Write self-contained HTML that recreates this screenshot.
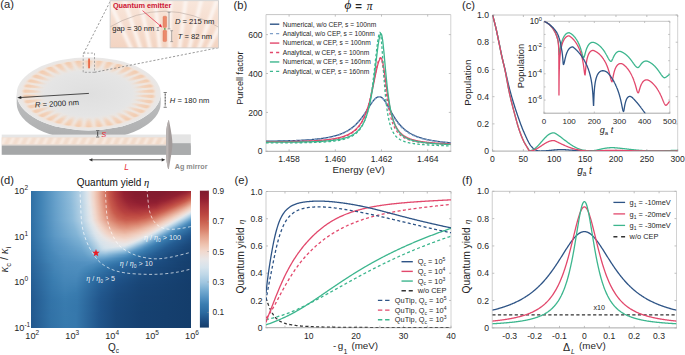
<!DOCTYPE html>
<html><head><meta charset="utf-8"><style>
html,body{margin:0;padding:0;background:#fff;width:685px;height:355px;overflow:hidden}
#wrap{position:relative;width:685px;height:355px}
#hm div{position:absolute;left:0;width:100%;height:1.05px}
svg{position:absolute;left:0;top:0}
</style></head><body><div id="wrap">
<div id="hm" style="position:absolute;left:31px;top:0;width:159.7px"><div style="top:191px;background:linear-gradient(90deg,#2f6fa4 0px,#4283b5 10px,#69a2cb 25px,#8fbcda 40px,#b4d1e5 49px,#dae4eb 56px,#eae4e3 59px,#f2d8cd 62px,#ebb7a3 67px,#d2705d 75px,#c7584b 78px,#b03a3d 84px,#942032 92px,#851c2f 102px,#811b2e 131px,#8b1d30 151px,#972333 157px,#a02b37 159.7px)"></div><div style="top:192px;background:linear-gradient(90deg,#2f6fa4 0px,#4283b5 10px,#69a2cb 25px,#8fbcda 40px,#b4d1e5 49px,#dae4eb 56px,#eae4e3 59px,#f1d3c5 63px,#ebb7a3 67px,#d2715e 75px,#c7594b 78px,#b13b3d 84px,#921f31 93px,#851c2f 104px,#821b2f 133px,#8f1e30 151px,#992534 156px,#a7313a 159.7px)"></div><div style="top:193.01px;background:linear-gradient(90deg,#2f6fa4 0px,#4283b5 10px,#69a2cb 25px,#8fbcda 40px,#b4d1e5 49px,#dae4eb 56px,#eae4e3 59px,#f1d3c5 63px,#ebb7a3 67px,#d2715e 75px,#c7594b 78px,#b13b3d 84px,#932031 93px,#851c2f 104px,#831b2f 131px,#8f1e31 149px,#9c2735 155px,#ad373c 159.7px)"></div><div style="top:194.01px;background:linear-gradient(90deg,#2f6fa4 0px,#4283b5 10px,#69a2cb 25px,#8fbcda 40px,#b4d1e5 49px,#dae4eb 56px,#e9e4e3 59px,#f1d3c5 63px,#ebb7a4 67px,#d3725f 75px,#c85a4c 78px,#b23c3d 84px,#942132 93px,#861c2f 104px,#831b2f 130px,#901f31 147px,#a22d37 155px,#b43e3e 159.7px)"></div><div style="top:195.01px;background:linear-gradient(90deg,#2f6fa4 0px,#4283b5 10px,#69a2cb 25px,#8fbcda 40px,#b4d1e5 49px,#dae4eb 56px,#e9e4e3 59px,#f1d3c5 63px,#ebb8a4 67px,#d3725f 75px,#c85a4c 78px,#b33d3d 84px,#952232 93px,#871c2f 104px,#841c2f 129px,#911f31 145px,#a9333a 155px,#ba4440 159.7px)"></div><div style="top:196.02px;background:linear-gradient(90deg,#2f6fa4 0px,#4283b5 10px,#69a2cb 25px,#8fbcda 40px,#b4d1e5 49px,#dae4eb 56px,#e9e4e3 59px,#f1d3c6 63px,#ebb8a4 67px,#d37360 75px,#c85b4c 78px,#b33d3e 84px,#962333 93px,#881c2f 104px,#851c2f 128px,#942132 144px,#af393c 155px,#c04c44 159.7px)"></div><div style="top:197.02px;background:linear-gradient(90deg,#2f6fa4 0px,#4183b5 10px,#69a2cb 25px,#8fbcda 40px,#b4d1e5 49px,#dae4eb 56px,#e9e4e4 59px,#f1d3c6 63px,#ebb9a5 67px,#d47461 75px,#c95b4d 78px,#b43e3e 84px,#972433 93px,#8b1d30 101px,#851c2f 122px,#901f31 139px,#aa343b 151px,#bd4841 157px,#c55549 159.7px)"></div><div style="top:198.03px;background:linear-gradient(90deg,#2f6fa4 0px,#4183b5 10px,#68a2cb 25px,#8ebbda 40px,#b4d1e5 49px,#d9e4eb 56px,#e9e5e4 59px,#f1d4c7 63px,#ecbaa6 67px,#d47562 75px,#c95d4e 78px,#b6403e 84px,#972333 94px,#8a1d30 104px,#871c2f 126px,#952132 139px,#b53f3e 153px,#ca5e4f 159.7px)"></div><div style="top:199.03px;background:linear-gradient(90deg,#2f6fa4 0px,#4183b5 10px,#68a2cb 25px,#8ebbda 40px,#b3d1e5 49px,#d9e4eb 56px,#e9e5e5 59px,#f1d5c8 63px,#ecbba7 67px,#d57763 75px,#c7584b 79px,#b33d3e 85px,#962333 95px,#8a1d30 107px,#8a1d30 127px,#962233 137px,#b6403f 151px,#c45348 156px,#cf6b59 159.7px)"></div><div style="top:200.03px;background:linear-gradient(90deg,#2f6fa4 0px,#4183b5 10px,#68a2cb 25px,#8ebbda 40px,#b3d1e5 49px,#d9e3eb 56px,#e9e5e5 59px,#f2d5c8 63px,#eab39f 68px,#d57864 75px,#c7594c 79px,#b43e3e 85px,#982433 95px,#8d1e30 104px,#8b1d30 125px,#972333 135px,#ba4440 150px,#c95c4d 156px,#d57763 159.7px)"></div><div style="top:201.04px;background:linear-gradient(90deg,#2f6fa4 0px,#4183b5 10px,#68a1cb 25px,#8ebbda 40px,#b2d0e5 49px,#d8e3eb 56px,#e8e6e6 59px,#f2d6c9 63px,#eab4a0 68px,#d67965 75px,#c85b4c 79px,#b23c3d 86px,#982434 96px,#8e1e30 106px,#8d1e30 125px,#9a2634 134px,#bb4540 148px,#c85b4c 154px,#da846f 159.7px)"></div><div style="top:202.04px;background:linear-gradient(90deg,#2f6fa4 0px,#4183b5 10px,#68a1cb 25px,#8dbbda 40px,#b2d0e4 49px,#d8e3eb 56px,#e8e6e7 59px,#f2d6ca 63px,#eab5a1 68px,#d37360 76px,#c95c4d 79px,#b43e3e 86px,#9a2634 96px,#901e31 106px,#901f31 125px,#a8323a 138px,#c04d45 148px,#cb6151 153px,#df917b 159.7px)"></div><div style="top:203.04px;background:linear-gradient(90deg,#2f6fa4 0px,#4183b5 10px,#68a1cb 25px,#8dbad9 40px,#b1d0e4 49px,#d7e3ec 56px,#e8e6e7 59px,#f2d7cb 63px,#ebb6a2 68px,#d47561 76px,#c7584b 80px,#b23c3d 87px,#9b2735 97px,#901f31 110px,#952232 126px,#b53f3e 141px,#c95c4d 150px,#d9826d 156px,#e39d87 159.7px)"></div><div style="top:204.05px;background:linear-gradient(90deg,#2f6fa4 0px,#4183b5 10px,#68a1cb 25px,#8dbad9 40px,#b1d0e4 49px,#dce4ea 57px,#e8e6e7 59px,#f2d8cc 63px,#ebb7a3 68px,#d57663 76px,#c85a4c 80px,#b43e3e 87px,#9c2735 98px,#932031 112px,#9a2634 126px,#bb4540 141px,#ca5e4e 148px,#db8772 155px,#e7aa95 159.7px)"></div><div style="top:205.05px;background:linear-gradient(90deg,#2f6fa4 0px,#4183b5 10px,#68a1cb 25px,#8cbad9 40px,#b1cfe4 49px,#dce4ea 57px,#e7e6e7 59px,#f2d8cc 63px,#ebb8a5 68px,#d57864 76px,#c95b4d 80px,#b53f3e 87px,#9e2a36 98px,#962233 112px,#9d2835 125px,#be4942 140px,#ca5f4f 146px,#dd8c77 154px,#ebb6a2 159.7px)"></div><div style="top:206.06px;background:linear-gradient(90deg,#2f6fa4 0px,#4183b5 10px,#68a1cb 25px,#8cbad9 40px,#abcce3 48px,#dbe4ea 57px,#eae4e2 60px,#f1d3c6 64px,#ecbaa6 68px,#d67a66 76px,#c7584b 81px,#b53f3e 88px,#a02b37 99px,#9a2634 113px,#a22d37 125px,#c04e45 139px,#cb6050 144px,#df937d 153px,#eec2af 159.7px)"></div><div style="top:207.06px;background:linear-gradient(90deg,#2f6fa4 0px,#4183b5 10px,#67a1ca 25px,#8cbad9 40px,#abcce3 48px,#dbe4eb 57px,#e9e4e3 60px,#f1d4c7 64px,#eab39e 69px,#d77c67 76px,#c85a4c 81px,#b43e3e 89px,#a22d37 100px,#9e2936 114px,#a7313a 125px,#c14f45 137px,#cb6151 142px,#e0937e 151px,#eab4a0 156px,#efc7b6 159px,#f0caba 159.7px)"></div><div style="top:208.06px;background:linear-gradient(90deg,#2f6fa4 0px,#4183b5 10px,#67a1ca 25px,#8cbad9 40px,#aacce3 48px,#dbe4eb 57px,#e9e4e4 60px,#f1d5c8 64px,#eab4a0 69px,#d87e69 76px,#c95c4d 81px,#b6403e 89px,#a52f39 100px,#a22d38 114px,#ae383c 126px,#c35348 136px,#cc6252 140px,#e0947e 149px,#f0cbba 158px,#f1d3c6 159.7px)"></div><div style="top:209.07px;background:linear-gradient(90deg,#2f6fa4 0px,#4183b5 10px,#67a1ca 25px,#8bb9d9 40px,#aacce2 48px,#dae4eb 57px,#e9e5e5 60px,#f2d5c9 64px,#eab5a1 69px,#d9806b 76px,#c7594c 82px,#b6403e 90px,#a8323a 101px,#a7313a 114px,#b43e3e 126px,#c85a4c 136px,#dc8973 145px,#efc4b2 155px,#f0dad0 159.7px)"></div><div style="top:210.07px;background:linear-gradient(90deg,#2f6fa4 0px,#4183b5 10px,#67a1ca 25px,#8ebbda 41px,#b4d1e5 50px,#dae4eb 57px,#e9e5e5 60px,#f2d6ca 64px,#ebb7a3 69px,#d9826d 76px,#c95b4d 82px,#b6403f 91px,#aa343b 103px,#ae383c 117px,#b9433f 126px,#ca5f50 135px,#de8f79 144px,#f0cdbd 155px,#f0dad0 158px,#eddfda 159.7px)"></div><div style="top:211.07px;background:linear-gradient(90deg,#2f6fa4 0px,#4183b5 10px,#67a1ca 25px,#8ebbda 41px,#b3d1e5 50px,#d9e4eb 57px,#e8e6e6 60px,#f2d7cb 64px,#ebb8a4 69px,#d87d68 77px,#c85a4c 83px,#b7413f 92px,#ad373c 104px,#b33d3e 118px,#be4942 126px,#cb6051 133px,#de8f7a 142px,#f0ccbc 153px,#efdcd5 157px,#e9e5e4 159.7px)"></div><div style="top:212.08px;background:linear-gradient(90deg,#2f6fa4 0px,#4183b5 10px,#67a1ca 25px,#8dbbda 41px,#b3d1e5 50px,#d9e3eb 57px,#e8e6e7 60px,#f2d8cc 64px,#ecbaa6 69px,#d9806b 77px,#c95c4d 83px,#b8423f 93px,#b13b3d 106px,#bb4540 121px,#c5564a 128px,#d06b59 133px,#e29b85 142px,#f0cbbc 151px,#efdcd3 155px,#e9e5e4 158px,#dee4ea 159.7px)"></div><div style="top:213.08px;background:linear-gradient(90deg,#2f6fa4 0px,#4183b5 10px,#67a0ca 25px,#8dbbda 41px,#b3d0e5 50px,#d8e3eb 57px,#e8e6e7 60px,#f2d8cd 64px,#eab49f 70px,#d9826d 77px,#c85b4c 84px,#ba4440 94px,#b53f3e 108px,#c04d45 122px,#ca5e4e 128px,#de907b 138px,#f0cbbb 149px,#f0dbd2 153px,#e6e6e8 157px,#d0e0eb 159.7px)"></div><div style="top:214.08px;background:linear-gradient(90deg,#2f6fa4 0px,#4183b5 10px,#67a0ca 25px,#8dbad9 41px,#b2d0e5 50px,#d8e3eb 57px,#e7e6e7 60px,#f1d4c7 65px,#e8ae99 71px,#d87f6a 78px,#c85b4c 85px,#bc4640 95px,#ba4440 110px,#c6584b 124px,#d77c67 132px,#ebb7a3 143px,#f0dbd1 151px,#e8e6e7 155px,#d0e0eb 158px,#c1d9e8 159.7px)"></div><div style="top:215.09px;background:linear-gradient(90deg,#2f6fa4 0px,#4182b4 10px,#67a0ca 25px,#8cbad9 41px,#b2d0e4 50px,#d8e3ec 57px,#eae4e3 61px,#f1d5c8 65px,#e9b09b 71px,#d9816c 78px,#c85b4c 86px,#bd4942 96px,#be4942 110px,#cb6050 124px,#df917b 134px,#f0caba 145px,#f0dad0 149px,#e9e5e6 153px,#d2e1eb 156px,#afcee4 159.7px)"></div><div style="top:216.09px;background:linear-gradient(90deg,#2f6fa4 0px,#4384b6 11px,#66a0ca 25px,#8cbad9 41px,#b1d0e4 50px,#dce4ea 58px,#e9e4e4 61px,#f2d6c9 65px,#e9b29d 71px,#da846f 78px,#ca5e4f 86px,#c04e45 95px,#c14e45 109px,#cb6151 121px,#d37460 126px,#e8ac97 137px,#f0cebf 144px,#efdcd5 148px,#e4e5e8 152px,#ccdeea 155px,#9dc4df 159.7px)"></div><div style="top:217.1px;background:linear-gradient(90deg,#2f6fa4 0px,#4384b6 11px,#66a0ca 25px,#8cbad9 41px,#b1cfe4 50px,#dce4ea 58px,#e9e5e5 61px,#f2d7ca 65px,#eab4a0 71px,#db8772 78px,#cc6352 86px,#c55549 92px,#c25046 103px,#c95b4d 115px,#d67965 125px,#e9b19d 136px,#f1d2c4 143px,#ebe1de 148px,#e5e6e8 150px,#cedfeb 153px,#a8cae2 157px,#8ab9d8 159.7px)"></div><div style="top:218.1px;background:linear-gradient(90deg,#2f6fa4 0px,#4384b6 11px,#66a0ca 25px,#8cbad9 41px,#abcce3 49px,#dbe4eb 58px,#e9e5e5 61px,#f2d8cc 65px,#e9af9b 72px,#db8570 79px,#cd6454 87px,#c6574a 93px,#c6564a 105px,#ca5f50 113px,#d87f6a 124px,#ebb7a3 135px,#f1d9ce 143px,#e7e6e7 148px,#d0e0eb 151px,#b5d2e5 154px,#80b2d5 159px,#79aed2 159.7px)"></div><div style="top:219.1px;background:linear-gradient(90deg,#2f6fa4 0px,#4384b6 11px,#66a0ca 25px,#8bb9d9 41px,#abcce3 49px,#dbe4eb 58px,#e8e6e7 61px,#f1d4c6 66px,#e7ab96 73px,#d87f6a 81px,#cc6353 89px,#c7594c 96px,#ca5f4f 108px,#d67864 119px,#de8e78 125px,#efc9b9 137px,#f0dbd3 142px,#e8e6e7 146px,#d1e1eb 149px,#adcde3 153px,#6fa7ce 159px,#69a2cb 159.7px)"></div><div style="top:220.11px;background:linear-gradient(90deg,#2f6fa4 0px,#4384b6 11px,#66a0ca 25px,#8ab9d9 41px,#aacbe2 49px,#dae4eb 58px,#e7e6e7 61px,#f2d5c9 66px,#e8ae9a 73px,#dc8873 80px,#d16e5c 87px,#ca5f50 95px,#cd6454 106px,#d57663 115px,#df937e 124px,#efc9b8 135px,#f0dbd2 140px,#e8e5e6 144px,#d3e2eb 147px,#a5c9e1 152px,#619cc7 159px,#5b97c5 159.7px)"></div><div style="top:221.11px;background:linear-gradient(90deg,#2f6fa4 0px,#4384b6 11px,#659fc9 25px,#8cbad9 42px,#b2d0e4 51px,#d8e3ec 58px,#e9e5e5 62px,#f1d3c6 67px,#e19781 78px,#d67a66 85px,#ce6756 94px,#d06b59 105px,#d77d68 114px,#e5a28d 125px,#efc9b8 133px,#f0dbd1 138px,#e9e5e5 142px,#d5e2ec 145px,#a7cae2 150px,#639ec9 157px,#5492c1 159px,#508fbf 159.7px)"></div><div style="top:222.11px;background:linear-gradient(90deg,#2f6fa4 0px,#4284b6 11px,#659fc9 25px,#8ab9d9 42px,#aacce3 50px,#dbe4eb 59px,#e7e6e7 62px,#f2d6c9 67px,#e39c86 78px,#d87d68 86px,#d06d5b 95px,#d47461 106px,#db8670 114px,#e6a892 124px,#f0ccbd 132px,#f0dad1 136px,#e5e5e8 141px,#cedfeb 144px,#a0c6e0 149px,#66a0ca 155px,#508fbf 158px,#4788b9 159.7px)"></div><div style="top:223.12px;background:linear-gradient(90deg,#2e6ea4 0px,#4284b6 11px,#649ec9 25px,#89b8d8 42px,#a8cbe2 50px,#d8e3eb 59px,#e6e6e7 62px,#eddfd9 65px,#f1d4c7 68px,#e39d87 79px,#d9816b 87px,#d37460 95px,#d77d68 106px,#df927c 115px,#e9b29d 124px,#f1d4c6 132px,#e6e6e7 139px,#d0e0eb 142px,#b5d2e5 145px,#68a2cb 153px,#4c8cbc 157px,#3f81b3 159.7px)"></div><div style="top:224.12px;background:linear-gradient(90deg,#2e6ea4 0px,#4284b5 11px,#629cc8 24px,#87b7d8 42px,#a6c9e2 50px,#dbe4ea 60px,#e7e6e7 63px,#f2d7ca 68px,#e39e88 80px,#da826d 89px,#d77b66 96px,#db8671 107px,#e4a18c 117px,#efc8b7 127px,#f1dacf 132px,#e8e6e7 137px,#d1e1eb 140px,#a4c8e1 145px,#6aa3cc 151px,#4e8dbd 155px,#397caf 159.7px)"></div><div style="top:225.12px;background:linear-gradient(90deg,#2e6ea4 0px,#4283b5 11px,#619cc8 24px,#89b8d8 43px,#a9cbe2 51px,#d9e4eb 60px,#e6e6e8 63px,#ebe2df 65px,#f1d5c8 69px,#e5a38d 80px,#dc8b75 88px,#d9826d 96px,#df917b 108px,#e7ab96 117px,#f1d9cf 130px,#e8e6e6 135px,#d3e1eb 138px,#a6c9e1 143px,#6ca4cd 149px,#508fbe 153px,#397caf 158px,#3577ab 159.7px)"></div><div style="top:226.13px;background:linear-gradient(90deg,#2e6ea3 0px,#4283b5 11px,#619cc7 24px,#87b7d7 43px,#a7cae2 51px,#d7e3ec 60px,#e7e6e7 64px,#f1d3c6 70px,#e5a58f 81px,#de8f7a 89px,#dc8973 96px,#e29983 108px,#eab4a0 117px,#f1d9ce 128px,#e9e5e5 133px,#d4e2ec 136px,#a8cae2 141px,#659fca 148px,#4c8bbc 152px,#377aad 157px,#3273a7 159.7px)"></div><div style="top:227.13px;background:linear-gradient(90deg,#2e6ea3 0px,#4183b5 11px,#609bc7 24px,#86b6d7 43px,#a5c9e1 51px,#dae4eb 61px,#e8e5e6 65px,#f2d7ca 70px,#e7aa95 81px,#e09580 89px,#de907a 96px,#e4a28c 108px,#efc9b8 121px,#f0dbd2 127px,#e4e5e8 132px,#cedfeb 135px,#a0c6e0 140px,#67a1ca 146px,#4d8cbd 150px,#387bae 155px,#2f6fa4 159.7px)"></div><div style="top:228.14px;background:linear-gradient(90deg,#2e6ea3 0px,#4183b5 11px,#609bc7 24px,#87b7d7 44px,#a7cae2 52px,#d8e3eb 61px,#e5e5e8 64px,#e9e4e3 66px,#f2d5c9 71px,#e8ac97 82px,#e29a85 90px,#e19781 96px,#e6a892 107px,#f0caba 119px,#f0dbd2 125px,#e6e6e8 130px,#cfe0eb 133px,#b6d2e5 136px,#69a2cb 144px,#4e8dbd 148px,#397caf 153px,#2c6ba1 159.7px)"></div><div style="top:229.14px;background:linear-gradient(90deg,#2e6ea3 0px,#4183b5 11px,#5f9bc7 24px,#85b6d7 44px,#a5c9e1 52px,#dbe4eb 62px,#e8e6e7 66px,#f1d5c7 72px,#e9af9a 83px,#e49f89 92px,#e4a18b 99px,#ecbaa6 111px,#f0dbd1 123px,#e7e6e7 128px,#d1e1eb 131px,#a4c8e1 136px,#6ba4cc 142px,#4f8ebe 146px,#377aad 152px,#2a679d 159.7px)"></div><div style="top:230.14px;background:linear-gradient(90deg,#2e6ea3 0px,#4183b5 11px,#5f9ac6 24px,#84b5d6 44px,#9fc5e0 51px,#d9e3eb 62px,#e7e6e7 66px,#f1d4c7 73px,#e9b29e 84px,#e5a58f 93px,#e8ac97 101px,#efc7b6 113px,#f0dbd2 121px,#e8e6e7 126px,#d3e1eb 129px,#a6c9e1 134px,#6da5cd 140px,#508fbf 144px,#387aae 150px,#286399 159.7px)"></div><div style="top:231.15px;background:linear-gradient(90deg,#2e6ea3 0px,#4384b6 12px,#5e9ac6 24px,#85b6d7 45px,#aacce3 54px,#dbe4eb 63px,#e8e6e7 67px,#f1d4c6 74px,#ebb8a4 84px,#e7ab96 94px,#ecb9a5 104px,#f1d2c4 115px,#eddfda 121px,#e8e5e6 124px,#d4e2ec 127px,#a8cae2 132px,#66a0ca 139px,#4c8cbc 143px,#387bae 148px,#266096 159.7px)"></div><div style="top:232.15px;background:linear-gradient(90deg,#2e6ea3 0px,#4384b6 12px,#5e9ac6 24px,#84b5d6 45px,#a3c8e1 53px,#d9e3eb 63px,#e8e6e6 68px,#f1d4c7 75px,#ecbca8 85px,#e9b19d 94px,#eec2b0 105px,#f2d6c9 114px,#e8e5e6 122px,#d6e3ec 125px,#aacbe2 130px,#68a1cb 137px,#4e8dbd 141px,#3779ad 147px,#245d93 159.7px)"></div><div style="top:233.15px;background:linear-gradient(90deg,#2e6ea3 0px,#4384b6 12px,#5d99c6 24px,#82b4d6 45px,#a1c7e0 53px,#d7e3ec 63px,#e2e5e9 66px,#e9e5e5 69px,#f1d4c7 76px,#eec2af 85px,#ebb8a4 94px,#f0cdbe 108px,#efdcd4 115px,#e8e5e6 120px,#cfe0eb 124px,#accde3 128px,#6aa3cc 135px,#4f8ebe 139px,#377aad 145px,#235b91 159px,#235a90 159.7px)"></div><div style="top:234.16px;background:linear-gradient(90deg,#2e6ea3 0px,#4384b6 12px,#5d99c6 24px,#83b5d6 46px,#a8cae2 55px,#d9e3eb 64px,#e9e5e4 70px,#f2d5c9 77px,#efc5b3 86px,#eec0ad 95px,#f1d3c6 108px,#ebe2df 116px,#e4e5e8 119px,#cfe0eb 122px,#b8d3e6 125px,#6ca4cc 133px,#508fbf 137px,#387aae 143px,#245c92 157px,#22578d 159.7px)"></div><div style="top:235.16px;background:linear-gradient(90deg,#2e6da3 0px,#4284b6 12px,#5c99c5 24px,#81b3d5 46px,#a4c8e1 55px,#dbe4eb 65px,#e9e5e4 71px,#f1d5c8 79px,#efc7b6 88px,#efc6b5 96px,#f0dbd2 110px,#e8e6e6 116px,#d0e0eb 120px,#b0cfe4 124px,#6da5cd 131px,#5190bf 135px,#387bae 141px,#255e94 154px,#20558b 159.7px)"></div><div style="top:236.17px;background:linear-gradient(90deg,#2e6da3 0px,#4284b5 12px,#5c98c5 24px,#7fb2d5 46px,#9cc4df 54px,#d8e3ec 65px,#e5e6e8 70px,#ece1dd 74px,#f1d3c6 82px,#f0caba 92px,#f0cdbe 98px,#efdcd4 108px,#e8e6e6 114px,#d0e0eb 118px,#a7cae2 123px,#67a1ca 130px,#4d8dbd 134px,#3779ad 140px,#245b91 154px,#1f5288 159.7px)"></div><div style="top:237.17px;background:linear-gradient(90deg,#2d6da2 0px,#4485b6 13px,#5c98c5 25px,#7fb2d5 47px,#a2c7e1 56px,#d9e3eb 66px,#e9e5e5 73px,#f2d8cc 82px,#f0cfc0 92px,#f1d3c5 98px,#ede0db 108px,#e8e6e6 112px,#d0e0eb 116px,#9fc5e0 122px,#619cc8 129px,#4a8aba 133px,#377aad 138px,#255e94 151px,#1e5086 159.7px)"></div><div style="top:238.17px;background:linear-gradient(90deg,#2d6da2 0px,#4384b6 13px,#5996c4 24px,#6aa3cc 36px,#7fb2d5 48px,#9fc5e0 56px,#d6e3ec 66px,#e3e5e8 71px,#e9e4e3 75px,#f1d9ce 84px,#f1d3c6 94px,#eddfda 105px,#e8e6e7 110px,#d0e0eb 114px,#9fc5e0 120px,#5b98c5 128px,#3a7db0 135px,#255e94 149px,#1d4f84 159.7px)"></div><div style="top:239.18px;background:linear-gradient(90deg,#2d6ca2 0px,#4284b6 13px,#5895c3 24px,#68a1cb 35px,#7db1d4 48px,#9bc3de 56px,#d7e3ec 67px,#e9e5e5 76px,#f0dbd2 85px,#f2d9cd 95px,#e7e6e7 108px,#d0e0eb 112px,#9fc6e0 118px,#5d99c6 126px,#3f81b3 132px,#2b699f 142px,#1d4f84 158px,#1d4d82 159.7px)"></div><div style="top:240.18px;background:linear-gradient(90deg,#2d6ca2 0px,#4283b5 13px,#5593c2 23px,#659fc9 34px,#7aafd3 48px,#97c0dd 56px,#d4e2ec 67px,#dfe5e9 71px,#e9e4e4 78px,#efdcd4 88px,#efdcd4 96px,#e6e6e8 106px,#cfe0eb 110px,#a8cae2 115px,#659fca 123px,#4d8cbd 127px,#3779ad 133px,#245c92 147px,#1c4c80 159.7px)"></div><div style="top:241.18px;background:linear-gradient(90deg,#2c6ca1 0px,#4183b5 13px,#5593c2 23px,#649ec9 34px,#7aafd3 49px,#98c1dd 57px,#d5e3ec 68px,#e4e5e8 76px,#ebe2df 83px,#eeded8 94px,#e7e6e7 103px,#cddfea 108px,#b9d4e6 111px,#6da5cd 120px,#4e8dbd 125px,#377aad 131px,#245d93 145px,#1b4b7e 159.7px)"></div><div style="top:242.19px;background:linear-gradient(90deg,#2c6ba1 0px,#4384b6 14px,#5492c1 23px,#639dc8 34px,#78add2 49px,#94bfdc 57px,#d6e3ec 69px,#e8e5e6 82px,#ece1dd 94px,#e6e6e7 101px,#d1e1eb 105px,#b0cfe4 110px,#66a0ca 119px,#4a8abb 124px,#387aae 129px,#255d93 143px,#1b4a7c 159.7px)"></div><div style="top:243.19px;background:linear-gradient(90deg,#2c6ba1 0px,#4283b5 14px,#5391c1 23px,#629dc8 35px,#76acd1 49px,#90bcdb 57px,#d3e1eb 69px,#dfe4ea 75px,#e9e4e4 90px,#e8e5e6 96px,#e4e5e8 99px,#cfdfeb 103px,#a0c6e0 110px,#66a0ca 117px,#4b8bbb 122px,#3678ac 128px,#245c92 142px,#1a487b 159.7px)"></div><div style="top:244.19px;background:linear-gradient(90deg,#2c6ba1 0px,#4183b5 14px,#5291c0 23px,#619cc7 35px,#76acd1 50px,#8dbad9 57px,#cfe0eb 69px,#d9e3eb 72px,#e6e6e7 88px,#e5e6e8 96px,#cddeea 101px,#9dc4df 108px,#5996c4 117px,#397baf 125px,#255e94 139px,#1b4a7d 156px,#1a487a 159.7px)"></div><div style="top:245.2px;background:linear-gradient(90deg,#2b6aa0 0px,#4182b4 14px,#5190c0 23px,#66a0ca 40px,#73aad0 50px,#89b8d8 57px,#d0e0eb 70px,#dbe4eb 75px,#e4e5e8 91px,#e4e5e8 94px,#d0e0eb 98px,#b0cfe4 103px,#67a0ca 113px,#4b8bbb 118px,#3779ad 124px,#245d93 138px,#1a497c 156px,#194778 159.7px)"></div><div style="top:246.2px;background:linear-gradient(90deg,#2b6aa0 0px,#4082b4 14px,#518fbf 23px,#659fc9 41px,#73aad0 51px,#8ab8d8 58px,#c8dce9 69px,#d6e3ec 73px,#e1e5e9 87px,#d8e3eb 94px,#b5d2e5 100px,#5a96c4 113px,#397caf 121px,#255e94 136px,#1b4a7d 153px,#194677 159.7px)"></div><div style="top:247.21px;background:linear-gradient(90deg,#2b6aa0 0px,#4283b5 15px,#5190bf 24px,#6fa6ce 50px,#86b6d7 58px,#c9ddea 70px,#d5e3ec 74px,#dae4eb 82px,#cbddea 94px,#b2d0e5 98px,#6ca4cc 108px,#4b8bbc 114px,#387aad 120px,#245c92 135px,#1a497c 153px,#184576 159.7px)"></div><div style="top:248.21px;background:linear-gradient(90deg,#2b699f 0px,#4183b5 15px,#508fbf 24px,#6ca5cd 50px,#82b4d6 58px,#b5d2e5 67px,#cedfeb 72px,#d3e1eb 76px,#c9dcea 88px,#bed7e7 94px,#6aa3cc 106px,#4888b9 113px,#3678ac 119px,#235a90 135px,#194678 156px,#184475 159.7px)"></div><div style="top:249.21px;background:linear-gradient(90deg,#2a699f 0px,#4082b4 15px,#508fbe 24px,#6ca5cd 51px,#7fb2d5 58px,#aacce3 66px,#c4dae9 71px,#caddea 75px,#bed7e7 87px,#adcde3 94px,#68a1cb 104px,#4f8ebe 109px,#387aae 116px,#235a90 133px,#194779 153px,#184474 159.7px)"></div><div style="top:250.22px;background:linear-gradient(90deg,#2a699f 0px,#4082b4 15px,#4f8ebe 24px,#6aa3cc 51px,#7cb0d4 58px,#bcd6e7 71px,#c2d9e8 75px,#aecee3 87px,#9dc4df 94px,#619cc7 103px,#4788b9 109px,#3678ac 115px,#23598f 132px,#194778 153px,#174374 159.7px)"></div><div style="top:251.22px;background:linear-gradient(90deg,#2a689e 0px,#4183b5 16px,#5391c1 28px,#68a1cb 51px,#7cb0d4 59px,#afcee4 70px,#b6d2e5 75px,#97c0dd 90px,#8cbad9 94px,#5492c2 103px,#3678ac 113px,#235a90 130px,#194779 151px,#174373 159.7px)"></div><div style="top:252.22px;background:linear-gradient(90deg,#2a689e 0px,#4182b4 16px,#5291c0 28px,#67a1ca 52px,#78aed2 59px,#a3c8e1 69px,#aacbe2 74px,#91bddb 86px,#7cb0d4 94px,#5392c1 101px,#387bae 110px,#255d93 126px,#1b4a7d 144px,#174272 159.7px)"></div><div style="top:253.23px;background:linear-gradient(90deg,#2a679d 0px,#4082b4 16px,#5391c0 29px,#659fc9 52px,#78add2 60px,#9ac2de 69px,#9dc4df 74px,#6ea6cd 94px,#4e8ebe 100px,#387aad 108px,#245c92 125px,#1a497c 144px,#164272 159.7px)"></div><div style="top:254.23px;background:linear-gradient(90deg,#2a679d 0px,#3f81b4 16px,#5392c1 30px,#649ec9 53px,#7bafd3 62px,#90bcda 69px,#8ebbda 75px,#5c98c5 95px,#3d80b2 103px,#276197 120px,#1c4c7f 139px,#164171 159.7px)"></div><div style="top:255.24px;background:linear-gradient(90deg,#29679d 0px,#4183b5 17px,#5391c1 32px,#639ec8 54px,#86b6d7 69px,#81b3d5 75px,#4e8dbd 96px,#387bae 103px,#245b91 122px,#1a497b 142px,#164170 159.7px)"></div><div style="top:256.24px;background:linear-gradient(90deg,#29669c 0px,#4082b4 17px,#5291c0 32px,#609cc7 54px,#7cb0d4 68px,#75abd1 75px,#4e8ebe 93px,#3679ac 102px,#22588e 123px,#184577 147px,#164170 159.7px)"></div><div style="top:257.24px;background:linear-gradient(90deg,#29669c 0px,#4081b4 17px,#5290c0 32px,#5f9bc7 55px,#73aad0 67px,#6ca4cd 74px,#4f8ebe 88px,#3f81b4 96px,#3070a5 105px,#1e5085 129px,#164171 157px,#164070 159.7px)"></div><div style="top:258.25px;background:linear-gradient(90deg,#29669c 0px,#4183b5 18px,#5190bf 33px,#5d99c6 55px,#6ba3cc 66px,#649ec9 73px,#4d8dbd 84px,#387aae 97px,#245c92 116px,#1a487b 138px,#16406f 159.7px)"></div><div style="top:259.25px;background:linear-gradient(90deg,#29659b 0px,#4082b4 18px,#508fbf 33px,#5c98c5 56px,#649ec9 66px,#5895c3 74px,#3a7db0 93px,#265f95 112px,#1b4a7e 133px,#15406f 159.7px)"></div><div style="top:260.25px;background:linear-gradient(90deg,#28659b 0px,#4283b5 19px,#508fbf 33px,#5c98c5 58px,#5d99c6 66px,#397caf 90px,#235a90 114px,#194778 139px,#15406f 159.7px)"></div><div style="top:261.26px;background:linear-gradient(90deg,#28649a 0px,#4183b5 19px,#4f8ebe 33px,#5996c4 63px,#4283b5 79px,#2e6ea3 98px,#1e5085 122px,#164271 151px,#153f6e 159.7px)"></div><div style="top:262.26px;background:linear-gradient(90deg,#28649a 0px,#4082b4 19px,#4f8ebe 33px,#5593c2 62px,#3e80b3 78px,#2c6ba1 98px,#1e4f84 121px,#164171 151px,#153f6e 159.7px)"></div><div style="top:263.26px;background:linear-gradient(90deg,#28649a 0px,#4687b8 24px,#4f8ebe 35px,#5391c0 60px,#3678ac 82px,#2a679d 98px,#1d4e83 121px,#164170 153px,#153f6e 159.7px)"></div><div style="top:264.27px;background:linear-gradient(90deg,#286399 0px,#4586b8 24px,#4e8dbd 35px,#5190c0 56px,#4687b8 67px,#3475aa 81px,#29669c 97px,#1d4e83 119px,#164170 151px,#153f6d 159.7px)"></div><div style="top:265.27px;background:linear-gradient(90deg,#286399 0px,#4586b7 24px,#4e8dbd 35px,#508fbf 53px,#4889b9 63px,#3374a9 79px,#28659b 96px,#1d4f83 117px,#164170 150px,#153f6d 159.7px)"></div><div style="top:266.28px;background:linear-gradient(90deg,#276399 0px,#4485b7 24px,#4d8cbd 35px,#4f8ebe 51px,#4687b8 62px,#3475a9 76px,#266096 97px,#1c4c7f 120px,#153f6e 158px,#153f6d 159.7px)"></div><div style="top:267.28px;background:linear-gradient(90deg,#276298 0px,#4485b6 24px,#4c8cbc 35px,#4e8ebe 49px,#4586b7 61px,#3577ab 72px,#245c92 98px,#1a497b 124px,#153e6d 159.7px)"></div><div style="top:268.28px;background:linear-gradient(90deg,#276298 0px,#4384b6 24px,#4b8bbc 34px,#4e8dbd 48px,#4385b6 60px,#3577ab 70px,#276197 92px,#1d4e83 112px,#164170 147px,#153e6d 159.7px)"></div><div style="top:269.29px;background:linear-gradient(90deg,#276298 0px,#4284b6 24px,#4b8bbb 34px,#4d8dbd 47px,#4284b5 59px,#3476aa 69px,#266197 90px,#1d4d82 112px,#16406f 150px,#153e6d 159.7px)"></div><div style="top:270.29px;background:linear-gradient(90deg,#276197 0px,#4283b5 24px,#4a8abb 34px,#4c8cbc 47px,#3f81b4 59px,#2c6ca2 76px,#1d4e83 109px,#164070 147px,#153e6c 159.7px)"></div><div style="top:271.29px;background:linear-gradient(90deg,#276197 0px,#4082b4 23px,#4a8aba 34px,#4b8bbc 47px,#3f81b3 58px,#2a699f 77px,#1d4e82 108px,#16406f 148px,#153e6c 159.7px)"></div><div style="top:272.3px;background:linear-gradient(90deg,#266197 0px,#4082b4 23px,#4989ba 34px,#4b8bbb 46px,#3c7fb1 58px,#276197 81px,#1b4b7f 111px,#153f6d 155px,#143e6c 159.7px)"></div><div style="top:273.3px;background:linear-gradient(90deg,#266096 0px,#3f81b3 23px,#4989ba 34px,#4a8abb 46px,#3577ab 62px,#245c92 86px,#1b4a7d 112px,#143e6c 159.7px)"></div><div style="top:274.31px;background:linear-gradient(90deg,#266096 0px,#3e81b3 23px,#4888b9 34px,#498aba 46px,#2c6ba1 70px,#23598f 87px,#1a497b 113px,#143e6c 159.7px)"></div><div style="top:275.31px;background:linear-gradient(90deg,#266096 0px,#3e80b3 23px,#4788b9 34px,#4989ba 46px,#2c6ba1 69px,#22588e 87px,#1a487a 114px,#143e6c 159.7px)"></div><div style="top:276.31px;background:linear-gradient(90deg,#265f95 0px,#3d80b2 23px,#4787b9 34px,#4888b9 46px,#2c6ca1 67px,#22578d 86px,#194779 114px,#143e6c 159.7px)"></div><div style="top:277.32px;background:linear-gradient(90deg,#265f95 0px,#3b7eb1 22px,#4687b8 33px,#4888b9 45px,#2c6ba1 66px,#21568c 86px,#194779 113px,#143e6c 159.7px)"></div><div style="top:278.32px;background:linear-gradient(90deg,#255f95 0px,#3b7eb1 22px,#4586b8 33px,#4787b9 45px,#2c6ba1 65px,#21558b 85px,#194779 112px,#143e6c 159.7px)"></div><div style="top:279.32px;background:linear-gradient(90deg,#255e94 0px,#3a7db0 22px,#4586b7 33px,#4687b8 45px,#2b6aa0 65px,#20548a 85px,#194779 111px,#143d6c 159.7px)"></div><div style="top:280.33px;background:linear-gradient(90deg,#255e94 0px,#3a7db0 22px,#4485b7 33px,#4586b7 45px,#2b699f 65px,#1f5389 85px,#194778 110px,#143d6c 159.7px)"></div><div style="top:281.33px;background:linear-gradient(90deg,#255e94 0px,#397caf 22px,#4485b7 33px,#4485b7 45px,#2b699f 64px,#1f5389 84px,#194678 110px,#143d6c 159.7px)"></div><div style="top:282.33px;background:linear-gradient(90deg,#255d93 0px,#397caf 22px,#4385b6 34px,#4384b6 45px,#2b6aa0 63px,#1f5288 84px,#194677 109px,#143d6c 159.7px)"></div><div style="top:283.34px;background:linear-gradient(90deg,#255d93 0px,#397caf 22px,#4384b6 34px,#4283b5 45px,#2a679d 64px,#1e5186 84px,#194677 109px,#143d6b 159.7px)"></div><div style="top:284.34px;background:linear-gradient(90deg,#245d93 0px,#397bae 22px,#4284b6 34px,#4183b5 45px,#286399 66px,#1e5086 84px,#184576 109px,#143d6b 159.7px)"></div><div style="top:285.35px;background:linear-gradient(90deg,#245c92 0px,#387aad 21px,#4283b5 34px,#4082b4 45px,#266197 67px,#1d4f84 85px,#184576 109px,#143d6b 159.7px)"></div><div style="top:286.35px;background:linear-gradient(90deg,#245c92 0px,#3779ad 21px,#4183b5 34px,#3f81b3 45px,#266096 67px,#1d4e83 85px,#184576 109px,#143d6b 159.7px)"></div><div style="top:287.35px;background:linear-gradient(90deg,#245c92 0px,#3779ad 21px,#4082b4 34px,#3e80b3 45px,#255e94 68px,#1d4e82 85px,#184475 109px,#143d6b 159.7px)"></div><div style="top:288.36px;background:linear-gradient(90deg,#245b91 0px,#3779ac 21px,#4082b4 34px,#3d7fb2 45px,#255d93 68px,#1d4d82 85px,#184475 110px,#143d6b 159.7px)"></div><div style="top:289.36px;background:linear-gradient(90deg,#245b91 0px,#3678ac 21px,#3f81b3 34px,#3c7fb1 45px,#245c92 68px,#1c4d81 85px,#184474 110px,#143d6b 159.7px)"></div><div style="top:290.36px;background:linear-gradient(90deg,#235b91 0px,#3678ac 21px,#3f81b3 34px,#3b7eb1 45px,#235b91 69px,#1c4c80 86px,#174374 110px,#143d6b 159.7px)"></div><div style="top:291.37px;background:linear-gradient(90deg,#235a90 0px,#3677ab 21px,#3e80b3 34px,#3b7db0 45px,#235a90 69px,#1c4c7f 86px,#174374 110px,#143d6b 159.7px)"></div><div style="top:292.37px;background:linear-gradient(90deg,#235a90 0px,#3577ab 21px,#3d80b2 34px,#397baf 46px,#22588e 70px,#1b4b7e 87px,#174373 111px,#143d6b 159.7px)"></div><div style="top:293.38px;background:linear-gradient(90deg,#235a90 0px,#3577ab 21px,#3c7fb2 34px,#387bae 46px,#22588e 70px,#1b4a7d 87px,#174373 111px,#143d6b 159.7px)"></div><div style="top:294.38px;background:linear-gradient(90deg,#235a90 0px,#3576aa 21px,#3c7eb1 34px,#387aae 46px,#22578d 70px,#1b4a7e 86px,#174373 110px,#143d6b 159.7px)"></div><div style="top:295.38px;background:linear-gradient(90deg,#23598f 0px,#3476aa 21px,#3b7eb1 34px,#387aad 46px,#21578d 70px,#1b4a7d 86px,#174273 111px,#143d6b 159.7px)"></div><div style="top:296.39px;background:linear-gradient(90deg,#22598f 0px,#3475aa 21px,#3a7db0 34px,#3779ad 46px,#21568c 70px,#1b4a7d 86px,#174272 111px,#143d6b 159.7px)"></div><div style="top:297.39px;background:linear-gradient(90deg,#22598f 0px,#3374a8 20px,#3a7db0 34px,#3779ad 46px,#21578d 69px,#1b4a7c 86px,#174272 111px,#143d6b 159.7px)"></div><div style="top:298.39px;background:linear-gradient(90deg,#22588e 0px,#3374a8 20px,#397caf 34px,#3779ac 46px,#21568c 69px,#1a497c 86px,#174272 111px,#143d6b 159.7px)"></div><div style="top:299.4px;background:linear-gradient(90deg,#22588e 0px,#3273a8 20px,#397caf 34px,#3678ac 46px,#21568c 69px,#1a497c 86px,#174272 111px,#143d6b 159.7px)"></div><div style="top:300.4px;background:linear-gradient(90deg,#22588e 0px,#3273a8 20px,#397caf 34px,#3678ac 46px,#21568c 69px,#1a497b 86px,#174272 111px,#143d6b 159.7px)"></div><div style="top:301.4px;background:linear-gradient(90deg,#22588e 0px,#3273a8 20px,#397baf 34px,#3678ac 46px,#21558b 69px,#1a497b 86px,#174272 111px,#143d6b 159.7px)"></div><div style="top:302.41px;background:linear-gradient(90deg,#22588e 0px,#3273a8 20px,#397bae 34px,#3678ac 46px,#21558b 69px,#1a497c 85px,#164272 111px,#143d6b 159.7px)"></div><div style="top:303.41px;background:linear-gradient(90deg,#22588e 0px,#3273a7 20px,#387bae 34px,#3678ab 46px,#21558b 69px,#1a497b 85px,#164271 111px,#143d6b 159.7px)"></div><div style="top:304.42px;background:linear-gradient(90deg,#22588e 0px,#3273a7 20px,#387bae 34px,#3677ab 46px,#21558b 69px,#1a497b 85px,#164272 110px,#143d6b 159.7px)"></div><div style="top:305.42px;background:linear-gradient(90deg,#22588e 0px,#3273a7 20px,#387bae 34px,#3577ab 46px,#20558b 69px,#1a497b 85px,#164271 110px,#143d6b 159.7px)"></div><div style="top:306.42px;background:linear-gradient(90deg,#22588e 0px,#3273a7 20px,#387bae 34px,#3577ab 46px,#20558b 69px,#1a497b 85px,#164271 110px,#143d6b 159.7px)"></div><div style="top:307.43px;background:linear-gradient(90deg,#22588e 0px,#3273a7 20px,#387aae 34px,#3577ab 46px,#20558b 69px,#1a487b 85px,#164271 110px,#143d6b 159.7px)"></div><div style="top:308.43px;background:linear-gradient(90deg,#22588e 0px,#3273a7 20px,#387aae 34px,#3577ab 46px,#20558b 69px,#1a487b 85px,#164271 110px,#143d6b 159.7px)"></div><div style="top:309.43px;background:linear-gradient(90deg,#22588e 0px,#3272a7 20px,#387aae 34px,#3577ab 46px,#20558b 69px,#1a487b 85px,#164271 110px,#143d6b 159.7px)"></div><div style="top:310.44px;background:linear-gradient(90deg,#22588e 0px,#3272a7 20px,#387aae 34px,#3577ab 46px,#205389 70px,#1a487b 85px,#164271 110px,#143d6b 159.7px)"></div><div style="top:311.44px;background:linear-gradient(90deg,#22588e 0px,#3272a7 20px,#387aae 34px,#3577ab 46px,#205389 70px,#1a487b 85px,#164171 110px,#143d6b 159.7px)"></div><div style="top:312.44px;background:linear-gradient(90deg,#22588e 0px,#3172a7 20px,#387aad 34px,#3678ac 45px,#21558b 68px,#1a487a 85px,#164171 110px,#143d6b 159.7px)"></div><div style="top:313.45px;background:linear-gradient(90deg,#22588e 0px,#3172a7 20px,#387aad 34px,#3678ac 45px,#21558b 68px,#1a487a 85px,#164171 110px,#143d6b 159.7px)"></div><div style="top:314.45px;background:linear-gradient(90deg,#22588e 0px,#3171a6 19px,#387aad 34px,#3678ac 45px,#21558b 68px,#1a487a 85px,#164171 110px,#143d6b 159.7px)"></div><div style="top:315.46px;background:linear-gradient(90deg,#22588e 0px,#3171a6 19px,#387aad 34px,#3678ac 45px,#21558b 68px,#1a487a 85px,#164171 110px,#143d6b 159.7px)"></div><div style="top:316.46px;background:linear-gradient(90deg,#22588e 0px,#3171a6 19px,#377aad 34px,#3678ac 45px,#21558b 68px,#1a487a 85px,#164171 110px,#143d6b 159.7px)"></div><div style="top:317.46px;background:linear-gradient(90deg,#22578d 0px,#3171a6 19px,#377aad 34px,#3678ac 45px,#21558b 68px,#1a487a 85px,#164171 110px,#143d6b 159.7px)"></div><div style="top:318.47px;background:linear-gradient(90deg,#22578d 0px,#3172a7 20px,#377aad 34px,#3678ac 45px,#21558b 68px,#1a487a 85px,#164171 110px,#143d6b 159.7px)"></div><div style="top:319.47px;background:linear-gradient(90deg,#22578d 0px,#3172a6 20px,#377aad 34px,#3678ac 45px,#20558b 68px,#1a487a 85px,#164171 110px,#143d6b 159.7px)"></div><div style="top:320.47px;background:linear-gradient(90deg,#22578d 0px,#3172a6 20px,#377aad 34px,#3678ac 45px,#20558b 68px,#1a487a 85px,#164171 110px,#143d6b 159.7px)"></div><div style="top:321.48px;background:linear-gradient(90deg,#22578d 0px,#3172a6 20px,#377aad 34px,#3678ac 45px,#20558b 68px,#1a487a 85px,#164171 110px,#143d6b 159.7px)"></div><div style="top:322.48px;background:linear-gradient(90deg,#22578d 0px,#3172a6 20px,#377aad 34px,#3678ac 45px,#20558b 68px,#1a487a 85px,#164171 110px,#143d6b 159.7px)"></div><div style="top:323.49px;background:linear-gradient(90deg,#22578d 0px,#3172a6 20px,#377aad 34px,#3678ac 45px,#20558b 68px,#1a487a 85px,#164171 110px,#143d6b 159.7px)"></div><div style="top:324.49px;background:linear-gradient(90deg,#22578d 0px,#3171a6 20px,#3779ad 34px,#3678ac 45px,#20558b 68px,#1a487a 85px,#164171 110px,#143d6b 159.7px)"></div><div style="top:325.49px;background:linear-gradient(90deg,#22578d 0px,#3171a6 20px,#3779ad 34px,#3678ac 45px,#20558b 68px,#1a487a 85px,#164171 110px,#143d6b 159.7px)"></div><div style="top:326.5px;background:linear-gradient(90deg,#22578d 0px,#3171a6 20px,#3779ad 34px,#3678ac 45px,#20558b 68px,#1a487a 85px,#164171 110px,#143d6b 159.7px)"></div></div>
<svg width="685" height="355" viewBox="0 0 685 355">
<defs>
<filter id="blr1" x="-20%" y="-20%" width="140%" height="140%"><feGaussianBlur stdDeviation="1.1"/></filter>
<filter id="blr2" x="-20%" y="-20%" width="140%" height="140%"><feGaussianBlur stdDeviation="0.9"/></filter>
<linearGradient id="sideg" x1="0" y1="0" x2="0" y2="1"><stop offset="0" stop-color="#bebfc0"/><stop offset="1" stop-color="#adaeaf"/></linearGradient>
<radialGradient id="topg" cx="0.5" cy="0.5" r="0.5"><stop offset="0" stop-color="#dfdfdf"/><stop offset="0.6" stop-color="#e5e5e5"/><stop offset="0.8" stop-color="#efe6df"/><stop offset="0.9" stop-color="#f2e2d6"/><stop offset="0.94" stop-color="#ebe6e3"/><stop offset="1" stop-color="#e8e8e8"/></radialGradient>
<linearGradient id="rayg" gradientUnits="userSpaceOnUse" x1="46" y1="0" x2="67" y2="0"><stop offset="0" stop-color="#f4d3bb" stop-opacity="0"/><stop offset="0.45" stop-color="#f3cfb5" stop-opacity="0.85"/><stop offset="1" stop-color="#f2c8a9" stop-opacity="1"/></linearGradient>
<filter id="blr3" x="-20%" y="-20%" width="140%" height="140%"><feGaussianBlur stdDeviation="0.95"/></filter>
<linearGradient id="wgt" x1="0" y1="0" x2="1" y2="0"><stop offset="0" stop-color="#f2ddcf"/><stop offset="1" stop-color="#f1d9c8"/></linearGradient>
</defs>
<path d="M16.7 93.8 A72.0 36.6 0 0 0 160.7 93.8 L160.7 103.3 A72.0 36.6 0 0 1 16.7 103.3 Z" fill="url(#sideg)"/>
<ellipse cx="88.7" cy="93.8" rx="72.0" ry="36.6" fill="url(#topg)"/>
<g transform="translate(88.7 93.8) scale(1 0.51)">
<g filter="url(#blr3)" opacity="0.95">
<path d="M46 -1.6 C55 -2.4 62 -3.3 64.5 -3.1 Q67 0 64.5 3.1 C62 3.3 55 2.4 46 1.6 Z" fill="url(#rayg)" transform="rotate(90)"/>
<path d="M46 -1.6 C55 -2.4 62 -3.3 64.5 -3.1 Q67 0 64.5 3.1 C62 3.3 55 2.4 46 1.6 Z" fill="url(#rayg)" transform="rotate(99.47)"/>
<path d="M46 -1.6 C55 -2.4 62 -3.3 64.5 -3.1 Q67 0 64.5 3.1 C62 3.3 55 2.4 46 1.6 Z" fill="url(#rayg)" transform="rotate(108.95)"/>
<path d="M46 -1.6 C55 -2.4 62 -3.3 64.5 -3.1 Q67 0 64.5 3.1 C62 3.3 55 2.4 46 1.6 Z" fill="url(#rayg)" transform="rotate(118.42)"/>
<path d="M46 -1.6 C55 -2.4 62 -3.3 64.5 -3.1 Q67 0 64.5 3.1 C62 3.3 55 2.4 46 1.6 Z" fill="url(#rayg)" transform="rotate(127.89)"/>
<path d="M46 -1.6 C55 -2.4 62 -3.3 64.5 -3.1 Q67 0 64.5 3.1 C62 3.3 55 2.4 46 1.6 Z" fill="url(#rayg)" transform="rotate(137.37)"/>
<path d="M46 -1.6 C55 -2.4 62 -3.3 64.5 -3.1 Q67 0 64.5 3.1 C62 3.3 55 2.4 46 1.6 Z" fill="url(#rayg)" transform="rotate(146.84)"/>
<path d="M46 -1.6 C55 -2.4 62 -3.3 64.5 -3.1 Q67 0 64.5 3.1 C62 3.3 55 2.4 46 1.6 Z" fill="url(#rayg)" transform="rotate(156.32)"/>
<path d="M46 -1.6 C55 -2.4 62 -3.3 64.5 -3.1 Q67 0 64.5 3.1 C62 3.3 55 2.4 46 1.6 Z" fill="url(#rayg)" transform="rotate(165.79)"/>
<path d="M46 -1.6 C55 -2.4 62 -3.3 64.5 -3.1 Q67 0 64.5 3.1 C62 3.3 55 2.4 46 1.6 Z" fill="url(#rayg)" transform="rotate(175.26)"/>
<path d="M46 -1.6 C55 -2.4 62 -3.3 64.5 -3.1 Q67 0 64.5 3.1 C62 3.3 55 2.4 46 1.6 Z" fill="url(#rayg)" transform="rotate(184.74)"/>
<path d="M46 -1.6 C55 -2.4 62 -3.3 64.5 -3.1 Q67 0 64.5 3.1 C62 3.3 55 2.4 46 1.6 Z" fill="url(#rayg)" transform="rotate(194.21)"/>
<path d="M46 -1.6 C55 -2.4 62 -3.3 64.5 -3.1 Q67 0 64.5 3.1 C62 3.3 55 2.4 46 1.6 Z" fill="url(#rayg)" transform="rotate(203.68)"/>
<path d="M46 -1.6 C55 -2.4 62 -3.3 64.5 -3.1 Q67 0 64.5 3.1 C62 3.3 55 2.4 46 1.6 Z" fill="url(#rayg)" transform="rotate(213.16)"/>
<path d="M46 -1.6 C55 -2.4 62 -3.3 64.5 -3.1 Q67 0 64.5 3.1 C62 3.3 55 2.4 46 1.6 Z" fill="url(#rayg)" transform="rotate(222.63)"/>
<path d="M46 -1.6 C55 -2.4 62 -3.3 64.5 -3.1 Q67 0 64.5 3.1 C62 3.3 55 2.4 46 1.6 Z" fill="url(#rayg)" transform="rotate(232.11)"/>
<path d="M46 -1.6 C55 -2.4 62 -3.3 64.5 -3.1 Q67 0 64.5 3.1 C62 3.3 55 2.4 46 1.6 Z" fill="url(#rayg)" transform="rotate(241.58)"/>
<path d="M46 -1.6 C55 -2.4 62 -3.3 64.5 -3.1 Q67 0 64.5 3.1 C62 3.3 55 2.4 46 1.6 Z" fill="url(#rayg)" transform="rotate(251.05)"/>
<path d="M46 -1.6 C55 -2.4 62 -3.3 64.5 -3.1 Q67 0 64.5 3.1 C62 3.3 55 2.4 46 1.6 Z" fill="url(#rayg)" transform="rotate(260.53)"/>
<path d="M46 -1.6 C55 -2.4 62 -3.3 64.5 -3.1 Q67 0 64.5 3.1 C62 3.3 55 2.4 46 1.6 Z" fill="url(#rayg)" transform="rotate(270)"/>
<path d="M46 -1.6 C55 -2.4 62 -3.3 64.5 -3.1 Q67 0 64.5 3.1 C62 3.3 55 2.4 46 1.6 Z" fill="url(#rayg)" transform="rotate(279.47)"/>
<path d="M46 -1.6 C55 -2.4 62 -3.3 64.5 -3.1 Q67 0 64.5 3.1 C62 3.3 55 2.4 46 1.6 Z" fill="url(#rayg)" transform="rotate(288.95)"/>
<path d="M46 -1.6 C55 -2.4 62 -3.3 64.5 -3.1 Q67 0 64.5 3.1 C62 3.3 55 2.4 46 1.6 Z" fill="url(#rayg)" transform="rotate(298.42)"/>
<path d="M46 -1.6 C55 -2.4 62 -3.3 64.5 -3.1 Q67 0 64.5 3.1 C62 3.3 55 2.4 46 1.6 Z" fill="url(#rayg)" transform="rotate(307.89)"/>
<path d="M46 -1.6 C55 -2.4 62 -3.3 64.5 -3.1 Q67 0 64.5 3.1 C62 3.3 55 2.4 46 1.6 Z" fill="url(#rayg)" transform="rotate(317.37)"/>
<path d="M46 -1.6 C55 -2.4 62 -3.3 64.5 -3.1 Q67 0 64.5 3.1 C62 3.3 55 2.4 46 1.6 Z" fill="url(#rayg)" transform="rotate(326.84)"/>
<path d="M46 -1.6 C55 -2.4 62 -3.3 64.5 -3.1 Q67 0 64.5 3.1 C62 3.3 55 2.4 46 1.6 Z" fill="url(#rayg)" transform="rotate(336.32)"/>
<path d="M46 -1.6 C55 -2.4 62 -3.3 64.5 -3.1 Q67 0 64.5 3.1 C62 3.3 55 2.4 46 1.6 Z" fill="url(#rayg)" transform="rotate(345.79)"/>
<path d="M46 -1.6 C55 -2.4 62 -3.3 64.5 -3.1 Q67 0 64.5 3.1 C62 3.3 55 2.4 46 1.6 Z" fill="url(#rayg)" transform="rotate(355.26)"/>
<path d="M46 -1.6 C55 -2.4 62 -3.3 64.5 -3.1 Q67 0 64.5 3.1 C62 3.3 55 2.4 46 1.6 Z" fill="url(#rayg)" transform="rotate(364.74)"/>
<path d="M46 -1.6 C55 -2.4 62 -3.3 64.5 -3.1 Q67 0 64.5 3.1 C62 3.3 55 2.4 46 1.6 Z" fill="url(#rayg)" transform="rotate(374.21)"/>
<path d="M46 -1.6 C55 -2.4 62 -3.3 64.5 -3.1 Q67 0 64.5 3.1 C62 3.3 55 2.4 46 1.6 Z" fill="url(#rayg)" transform="rotate(383.68)"/>
<path d="M46 -1.6 C55 -2.4 62 -3.3 64.5 -3.1 Q67 0 64.5 3.1 C62 3.3 55 2.4 46 1.6 Z" fill="url(#rayg)" transform="rotate(393.16)"/>
<path d="M46 -1.6 C55 -2.4 62 -3.3 64.5 -3.1 Q67 0 64.5 3.1 C62 3.3 55 2.4 46 1.6 Z" fill="url(#rayg)" transform="rotate(402.63)"/>
<path d="M46 -1.6 C55 -2.4 62 -3.3 64.5 -3.1 Q67 0 64.5 3.1 C62 3.3 55 2.4 46 1.6 Z" fill="url(#rayg)" transform="rotate(412.11)"/>
<path d="M46 -1.6 C55 -2.4 62 -3.3 64.5 -3.1 Q67 0 64.5 3.1 C62 3.3 55 2.4 46 1.6 Z" fill="url(#rayg)" transform="rotate(421.58)"/>
<path d="M46 -1.6 C55 -2.4 62 -3.3 64.5 -3.1 Q67 0 64.5 3.1 C62 3.3 55 2.4 46 1.6 Z" fill="url(#rayg)" transform="rotate(431.05)"/>
<path d="M46 -1.6 C55 -2.4 62 -3.3 64.5 -3.1 Q67 0 64.5 3.1 C62 3.3 55 2.4 46 1.6 Z" fill="url(#rayg)" transform="rotate(440.53)"/>
</g></g>
<rect x="88.3" y="58.5" width="1.5" height="9.8" fill="#e8532e"/>
<rect x="83.2" y="53.1" width="11.3" height="19.2" fill="none" stroke="#8a8a8a" stroke-width="0.7" stroke-dasharray="2.2 1.6"/>
<g stroke="#777" stroke-width="0.75" stroke-dasharray="2.2 1.8" fill="none"><path d="M83.6 53.5L110.4 1"/><path d="M94.5 72.3L218 47.8"/></g>
<rect x="1.7" y="134.6" width="189" height="10.5" fill="#e6e6e6"/>
<rect x="1.7" y="137.4" width="166" height="7.2" fill="url(#wgt)"/>
<clipPath id="clipwg"><rect x="1.7" y="137.4" width="166" height="7.2"/></clipPath>
<g clip-path="url(#clipwg)"><g filter="url(#blr2)">
<path d="M4 137 l3 0 l-4 8 l-3 0z" fill="#faf1ea" fill-opacity="0.85"/>
<path d="M12.4 137 l3 0 l-4 8 l-3 0z" fill="#faf1ea" fill-opacity="0.85"/>
<path d="M20.8 137 l3 0 l-4 8 l-3 0z" fill="#faf1ea" fill-opacity="0.85"/>
<path d="M29.2 137 l3 0 l-4 8 l-3 0z" fill="#faf1ea" fill-opacity="0.85"/>
<path d="M37.6 137 l3 0 l-4 8 l-3 0z" fill="#faf1ea" fill-opacity="0.85"/>
<path d="M46 137 l3 0 l-4 8 l-3 0z" fill="#faf1ea" fill-opacity="0.85"/>
<path d="M54.4 137 l3 0 l-4 8 l-3 0z" fill="#faf1ea" fill-opacity="0.85"/>
<path d="M62.8 137 l3 0 l-4 8 l-3 0z" fill="#faf1ea" fill-opacity="0.85"/>
<path d="M71.2 137 l3 0 l-4 8 l-3 0z" fill="#faf1ea" fill-opacity="0.85"/>
<path d="M79.6 137 l3 0 l-4 8 l-3 0z" fill="#faf1ea" fill-opacity="0.85"/>
<path d="M88 137 l3 0 l-4 8 l-3 0z" fill="#faf1ea" fill-opacity="0.85"/>
<path d="M96.4 137 l3 0 l-4 8 l-3 0z" fill="#faf1ea" fill-opacity="0.85"/>
<path d="M104.8 137 l3 0 l-4 8 l-3 0z" fill="#faf1ea" fill-opacity="0.85"/>
<path d="M113.2 137 l3 0 l-4 8 l-3 0z" fill="#faf1ea" fill-opacity="0.85"/>
<path d="M121.6 137 l3 0 l-4 8 l-3 0z" fill="#faf1ea" fill-opacity="0.85"/>
<path d="M130 137 l3 0 l-4 8 l-3 0z" fill="#faf1ea" fill-opacity="0.85"/>
<path d="M138.4 137 l3 0 l-4 8 l-3 0z" fill="#faf1ea" fill-opacity="0.85"/>
<path d="M146.8 137 l3 0 l-4 8 l-3 0z" fill="#faf1ea" fill-opacity="0.85"/>
<path d="M155.2 137 l3 0 l-4 8 l-3 0z" fill="#faf1ea" fill-opacity="0.85"/>
<path d="M163.6 137 l3 0 l-4 8 l-3 0z" fill="#faf1ea" fill-opacity="0.85"/>
</g></g>
<rect x="1.7" y="144.6" width="189" height="1.2" fill="#ddd3cb"/>
<rect x="1.7" y="145.6" width="189" height="9.2" fill="#a5a7a8"/>
<rect x="168" y="134.6" width="22.7" height="8.7" fill="#e4e4e4"/>
<rect x="168" y="143.2" width="22.7" height="11.6" fill="#aaacad"/>
<path d="M168.4 120.2 C167.2 124 166.3 128 166.2 133 L166.2 156 C166.3 161 167.2 165 168.1 169 L168.9 169 C170.3 160 172.4 150 172.4 143.6 C172.4 137 170.5 128 169.0 120.2 Z" fill="#a39c9b"/>
<path d="M168.4 120.2 C167.2 124 166.3 128 166.2 133 L166.2 156 C166.3 161 167.2 165 168.1 169 L168.6 169 C168.5 160 168.4 150 168.4 143.6 C168.4 137 168.6 128 168.8 120.2 Z" fill="#b9b3b2"/>
<g stroke="#222" stroke-width="0.8" fill="none"><path d="M88.9 93.4L19 97.6"/></g>
<path d="M17.2 97.7 L21.2 96.1 L21.4 99.1 Z" fill="#222"/>
<text x="0" y="0" font-size="7.7" font-family='"Liberation Sans", sans-serif' fill="#222" transform="translate(57.1 106.2) rotate(-3.4)" text-anchor="middle"><tspan font-style="italic">R</tspan> = 2000 nm</text>
<g stroke="#444" stroke-width="0.7" fill="none"><path d="M163.6 92.5h3.2M163.6 107.3h3.2"/><path d="M165.2 93.5v12.8" stroke-dasharray="2.2 0.8" stroke-width="1"/></g>
<text x="169.8" y="103.2" font-size="7.6" font-family='"Liberation Sans", sans-serif' fill="#222"><tspan font-style="italic">H</tspan> = 180 nm</text>
<g stroke="#444" stroke-width="0.7" fill="none"><path d="M96.1 130.6h3.2M96.1 137h3.2"/><path d="M97.7 131.4v4.8" stroke-width="1"/></g>
<text x="101.4" y="137" font-size="9.6" font-family='"Liberation Sans", sans-serif' fill="#e8303a" font-style="italic">s</text>
<path d="M91 159.8H163" stroke="#333" stroke-width="0.8"/>
<path d="M88.8 159.8l3.6-1.6v3.2z M165.3 159.8l-3.6-1.6v3.2z" fill="#333"/>
<text x="126.5" y="170.3" font-size="8.4" font-family='"Liberation Sans", sans-serif' fill="#e8303a" font-style="italic" text-anchor="middle">L</text>
<text x="174.7" y="168.6" font-size="7.2" font-family='"Liberation Sans", sans-serif' fill="#8a8a8a" font-weight="bold">Ag mirror</text>
<text x="0.3" y="8.4" font-size="11.2" text-anchor="start" fill="#262626" font-family='"Liberation Sans", sans-serif' >(a)</text>
<defs><clipPath id="clipin"><rect x="110.1" y="0.7" width="108.5" height="47.2"/></clipPath><linearGradient id="ing" x1="0" y1="0" x2="0" y2="1"><stop offset="0" stop-color="#f8e6db"/><stop offset="1" stop-color="#f3d4c2"/></linearGradient></defs>
<g clip-path="url(#clipin)">
<rect x="110.1" y="0.7" width="108.5" height="47.2" fill="url(#ing)"/>
<g filter="url(#blr1)" fill="#fdf7f3" fill-opacity="0.85">
<rect x="118" y="-5" width="4" height="60" transform="rotate(-25 118 25)"/>
<rect x="130.5" y="-5" width="4" height="60" transform="rotate(-18.5 130.5 25)"/>
<rect x="143" y="-5" width="4" height="60" transform="rotate(-12 143 25)"/>
<rect x="155.5" y="-5" width="4" height="60" transform="rotate(-5.5 155.5 25)"/>
<rect x="168" y="-5" width="4" height="60" transform="rotate(1 168 25)"/>
<rect x="180.5" y="-5" width="4" height="60" transform="rotate(7.5 180.5 25)"/>
<rect x="193" y="-5" width="4" height="60" transform="rotate(14 193 25)"/>
<rect x="205.5" y="-5" width="4" height="60" transform="rotate(20.5 205.5 25)"/>
<rect x="218" y="-5" width="4" height="60" transform="rotate(27 218 25)"/>
</g>
<path d="M108 28 Q 165 -6 222 29" fill="none" stroke="#b9aaa2" stroke-width="0.6"/>
</g>
<rect x="110.1" y="0.7" width="108.5" height="47.2" fill="none" stroke="#c9c9c9" stroke-width="0.8"/>
<rect x="163" y="16.2" width="3.6" height="11.3" rx="1" fill="#eb8a6b" stroke="#d86a4e" stroke-width="0.4"/>
<rect x="163" y="30.3" width="3.6" height="11.3" rx="1" fill="#eb8a6b" stroke="#d86a4e" stroke-width="0.4"/>
<circle cx="164.8" cy="28.9" r="0.9" fill="#58a84e"/>
<g stroke="#777" stroke-width="0.6" fill="none"><path d="M156.6 27.5h2.6M156.6 30.5h2.6M157.9 27.5v3"/></g>
<text x="112.2" y="31.4" font-size="7.55" font-family='"Liberation Sans", sans-serif' fill="#222">gap = 30 nm</text>
<g stroke="#777" stroke-width="0.6" fill="none"><path d="M167.6 12.4h2.8M167.6 28.9h2.8M169 12.4v16.5"/><path d="M170.3 30.7h2.8M170.3 41.6h2.8M171.7 30.7v10.9"/></g>
<text x="174.9" y="23.6" font-size="7.6" font-family='"Liberation Sans", sans-serif' fill="#222"><tspan font-style="italic">D</tspan> = 215 nm</text>
<text x="177.7" y="38.7" font-size="7.6" font-family='"Liberation Sans", sans-serif' fill="#222"><tspan font-style="italic">T</tspan> = 82 nm</text>
<text x="112.9" y="8.4" font-size="7.3" font-family='"Liberation Sans", sans-serif' fill="#cc1434" font-weight="bold">Quantum emitter</text>
<path d="M142.5 10.6L160.6 26" stroke="#e0203c" stroke-width="0.7"/>
<path d="M162.2 27.5l-3.5-1.2 1.9-2.2z" fill="#e0203c"/>
<line x1="266" y1="14.6" x2="266" y2="151.3" stroke="#d9d9d9" stroke-width="1.3"/><line x1="450.8" y1="14.6" x2="450.8" y2="151.3" stroke="#d2d2d2" stroke-width="1.0"/><line x1="266" y1="14.6" x2="450.8" y2="14.6" stroke="#c6c6c6" stroke-width="1.0"/><line x1="265.5" y1="151.3" x2="451.3" y2="151.3" stroke="#a9a9a9" stroke-width="1.0"/><path d="M289.1 151.3v-2.0M289.1 14.6v2.0M335.3 151.3v-2.0M335.3 14.6v2.0M381.5 151.3v-2.0M381.5 14.6v2.0M427.7 151.3v-2.0M427.7 14.6v2.0M266 151.3h2.0M450.8 151.3h-2.0M266 112.4h2.0M450.8 112.4h-2.0M266 73.5h2.0M450.8 73.5h-2.0M266 34.6h2.0M450.8 34.6h-2.0" stroke="#b0b0b0" stroke-width="0.8" fill="none"/>
<text x="289.1" y="162" font-size="8.6" text-anchor="middle" fill="#262626" font-family='"Liberation Sans", sans-serif' >1.458</text>
<text x="335.3" y="162" font-size="8.6" text-anchor="middle" fill="#262626" font-family='"Liberation Sans", sans-serif' >1.460</text>
<text x="381.5" y="162" font-size="8.6" text-anchor="middle" fill="#262626" font-family='"Liberation Sans", sans-serif' >1.462</text>
<text x="427.7" y="162" font-size="8.6" text-anchor="middle" fill="#262626" font-family='"Liberation Sans", sans-serif' >1.464</text>
<text x="262.5" y="154.4" font-size="8.6" text-anchor="end" fill="#262626" font-family='"Liberation Sans", sans-serif' >0</text>
<text x="262.5" y="115.5" font-size="8.6" text-anchor="end" fill="#262626" font-family='"Liberation Sans", sans-serif' >200</text>
<text x="262.5" y="76.6" font-size="8.6" text-anchor="end" fill="#262626" font-family='"Liberation Sans", sans-serif' >400</text>
<text x="262.5" y="37.7" font-size="8.6" text-anchor="end" fill="#262626" font-family='"Liberation Sans", sans-serif' >600</text>
<text x="358.7" y="172.8" font-size="9.8" text-anchor="middle" fill="#262626" font-family='"Liberation Sans", sans-serif' >Energy (eV)</text>
<text x="0" y="0" font-size="9.15" text-anchor="middle" fill="#262626" font-family='"Liberation Sans", sans-serif' transform="translate(243.1 78.2) rotate(-90)">Purcell factor</text>
<text x="233.6" y="8.5" font-size="11.2" text-anchor="start" fill="#262626" font-family='"Liberation Sans", sans-serif' >(b)</text>
<text x="348" y="9.3" font-size="13.2" text-anchor="middle" font-family='"Liberation Serif", serif' font-style="italic" fill="#111">&#981;</text>
<text x="358.7" y="10.3" font-size="11.4" text-anchor="middle" font-family='"Liberation Sans", sans-serif' font-weight="bold" fill="#222">=</text>
<text x="369.6" y="9.6" font-size="11.6" text-anchor="middle" font-family='"Liberation Serif", serif' font-style="italic" fill="#111">&#960;</text>
<clipPath id="clipb"><rect x="266.0" y="14.6" width="184.8" height="136.70000000000002"/></clipPath>
<g clip-path="url(#clipb)">
<polyline points="266,141.16 266.46,141.16 266.93,141.15 267.39,141.15 267.85,141.15 268.32,141.14 268.78,141.14 269.24,141.13 269.71,141.13 270.17,141.12 270.63,141.12 271.09,141.11 271.56,141.11 272.02,141.1 272.48,141.1 272.95,141.09 273.41,141.08 273.87,141.08 274.34,141.07 274.8,141.07 275.26,141.06 275.73,141.05 276.19,141.04 276.65,141.04 277.12,141.03 277.58,141.02 278.04,141.01 278.51,141.01 278.97,141 279.43,140.99 279.89,140.98 280.36,140.97 280.82,140.96 281.28,140.95 281.75,140.95 282.21,140.94 282.67,140.93 283.14,140.92 283.6,140.91 284.06,140.89 284.53,140.88 284.99,140.87 285.45,140.86 285.92,140.85 286.38,140.84 286.84,140.83 287.31,140.81 287.77,140.8 288.23,140.79 288.69,140.77 289.16,140.76 289.62,140.75 290.08,140.73 290.55,140.72 291.01,140.7 291.47,140.69 291.94,140.67 292.4,140.66 292.86,140.64 293.33,140.62 293.79,140.61 294.25,140.59 294.72,140.57 295.18,140.55 295.64,140.53 296.11,140.52 296.57,140.5 297.03,140.48 297.49,140.46 297.96,140.44 298.42,140.41 298.88,140.39 299.35,140.37 299.81,140.35 300.27,140.33 300.74,140.3 301.2,140.28 301.66,140.25 302.13,140.23 302.59,140.2 303.05,140.18 303.52,140.15 303.98,140.12 304.44,140.1 304.91,140.07 305.37,140.04 305.83,140.01 306.29,139.98 306.76,139.95 307.22,139.92 307.68,139.88 308.15,139.85 308.61,139.82 309.07,139.78 309.54,139.75 310,139.71 310.46,139.68 310.93,139.64 311.39,139.6 311.85,139.56 312.32,139.52 312.78,139.48 313.24,139.44 313.71,139.4 314.17,139.35 314.63,139.31 315.09,139.26 315.56,139.21 316.02,139.17 316.48,139.12 316.95,139.07 317.41,139.02 317.87,138.96 318.34,138.91 318.8,138.86 319.26,138.8 319.73,138.74 320.19,138.68 320.65,138.63 321.12,138.56 321.58,138.5 322.04,138.44 322.51,138.37 322.97,138.3 323.43,138.24 323.89,138.17 324.36,138.09 324.82,138.02 325.28,137.94 325.75,137.87 326.21,137.79 326.67,137.71 327.14,137.62 327.6,137.54 328.06,137.45 328.53,137.36 328.99,137.27 329.45,137.18 329.92,137.08 330.38,136.98 330.84,136.88 331.31,136.78 331.77,136.67 332.23,136.56 332.69,136.45 333.16,136.33 333.62,136.22 334.08,136.1 334.55,135.97 335.01,135.85 335.47,135.71 335.94,135.58 336.4,135.44 336.86,135.3 337.33,135.16 337.79,135.01 338.25,134.86 338.72,134.7 339.18,134.54 339.64,134.37 340.11,134.2 340.57,134.03 341.03,133.85 341.49,133.67 341.96,133.48 342.42,133.28 342.88,133.08 343.35,132.88 343.81,132.67 344.27,132.45 344.74,132.23 345.2,132 345.66,131.76 346.13,131.52 346.59,131.27 347.05,131.01 347.52,130.74 347.98,130.47 348.44,130.19 348.91,129.9 349.37,129.61 349.83,129.3 350.29,128.99 350.76,128.67 351.22,128.33 351.68,127.99 352.15,127.64 352.61,127.28 353.07,126.91 353.54,126.52 354,126.13 354.46,125.73 354.93,125.31 355.39,124.88 355.85,124.44 356.32,123.99 356.78,123.53 357.24,123.05 357.71,122.56 358.17,122.06 358.63,121.54 359.09,121.02 359.56,120.47 360.02,119.92 360.48,119.35 360.95,118.77 361.41,118.17 361.87,117.57 362.34,116.95 362.8,116.32 363.26,115.67 363.73,115.01 364.19,114.35 364.65,113.67 365.12,112.98 365.58,112.29 366.04,111.58 366.51,110.87 366.97,110.16 367.43,109.44 367.89,108.72 368.36,107.99 368.82,107.27 369.28,106.55 369.75,105.84 370.21,105.13 370.67,104.44 371.14,103.76 371.6,103.09 372.06,102.44 372.53,101.81 372.99,101.2 373.45,100.62 373.92,100.07 374.38,99.55 374.84,99.07 375.31,98.63 375.77,98.22 376.23,97.86 376.69,97.54 377.16,97.27 377.62,97.05 378.08,96.88 378.55,96.77 379.01,96.7 379.47,96.69 379.94,96.74 380.4,96.85 380.86,97.04 381.33,97.29 381.79,97.6 382.25,97.97 382.72,98.4 383.18,98.89 383.64,99.42 384.11,100.01 384.57,100.63 385.03,101.3 385.49,102 385.96,102.73 386.42,103.48 386.88,104.26 387.35,105.06 387.81,105.87 388.27,106.69 388.74,107.52 389.2,108.35 389.66,109.19 390.13,110.02 390.59,110.85 391.05,111.67 391.52,112.49 391.98,113.3 392.44,114.09 392.91,114.88 393.37,115.64 393.83,116.4 394.29,117.14 394.76,117.86 395.22,118.57 395.68,119.26 396.15,119.94 396.61,120.6 397.07,121.24 397.54,121.86 398,122.47 398.46,123.06 398.93,123.63 399.39,124.19 399.85,124.73 400.32,125.25 400.78,125.76 401.24,126.26 401.71,126.74 402.17,127.2 402.63,127.65 403.09,128.09 403.56,128.52 404.02,128.93 404.48,129.33 404.95,129.71 405.41,130.09 405.87,130.45 406.34,130.8 406.8,131.15 407.26,131.48 407.73,131.8 408.19,132.11 408.65,132.41 409.12,132.71 409.58,132.99 410.04,133.27 410.51,133.53 410.97,133.79 411.43,134.05 411.89,134.29 412.36,134.53 412.82,134.76 413.28,134.99 413.75,135.21 414.21,135.42 414.67,135.62 415.14,135.83 415.6,136.02 416.06,136.21 416.53,136.39 416.99,136.57 417.45,136.75 417.92,136.92 418.38,137.09 418.84,137.25 419.31,137.4 419.77,137.56 420.23,137.71 420.69,137.85 421.16,137.99 421.62,138.13 422.08,138.27 422.55,138.4 423.01,138.53 423.47,138.65 423.94,138.77 424.4,138.89 424.86,139.01 425.33,139.12 425.79,139.23 426.25,139.34 426.72,139.45 427.18,139.55 427.64,139.65 428.11,139.75 428.57,139.85 429.03,139.94 429.49,140.03 429.96,140.12 430.42,140.21 430.88,140.3 431.35,140.38 431.81,140.47 432.27,140.55 432.74,140.63 433.2,140.71 433.66,140.78 434.13,140.86 434.59,140.93 435.05,141 435.52,141.07 435.98,141.14 436.44,141.21 436.91,141.28 437.37,141.34 437.83,141.41 438.29,141.47 438.76,141.53 439.22,141.59 439.68,141.65 440.15,141.71 440.61,141.77 441.07,141.82 441.54,141.88 442,141.93 442.46,141.99 442.93,142.04 443.39,142.09 443.85,142.14 444.32,142.19 444.78,142.24 445.24,142.29 445.71,142.34 446.17,142.38 446.63,142.43 447.09,142.48 447.56,142.52 448.02,142.56 448.48,142.61 448.95,142.65 449.41,142.69 449.87,142.73 450.34,142.77 450.8,142.81" fill="none" stroke="#2e5486" stroke-width="1.3"/>
<polyline points="266,141.41 266.46,141.4 266.93,141.4 267.39,141.4 267.85,141.39 268.32,141.39 268.78,141.38 269.24,141.38 269.71,141.37 270.17,141.37 270.63,141.36 271.09,141.36 271.56,141.35 272.02,141.35 272.48,141.34 272.95,141.34 273.41,141.33 273.87,141.32 274.34,141.32 274.8,141.31 275.26,141.3 275.73,141.3 276.19,141.29 276.65,141.28 277.12,141.28 277.58,141.27 278.04,141.26 278.51,141.25 278.97,141.24 279.43,141.24 279.89,141.23 280.36,141.22 280.82,141.21 281.28,141.2 281.75,141.19 282.21,141.18 282.67,141.17 283.14,141.16 283.6,141.15 284.06,141.14 284.53,141.13 284.99,141.12 285.45,141.11 285.92,141.1 286.38,141.08 286.84,141.07 287.31,141.06 287.77,141.05 288.23,141.03 288.69,141.02 289.16,141.01 289.62,140.99 290.08,140.98 290.55,140.97 291.01,140.95 291.47,140.94 291.94,140.92 292.4,140.9 292.86,140.89 293.33,140.87 293.79,140.86 294.25,140.84 294.72,140.82 295.18,140.8 295.64,140.79 296.11,140.77 296.57,140.75 297.03,140.73 297.49,140.71 297.96,140.69 298.42,140.67 298.88,140.65 299.35,140.62 299.81,140.6 300.27,140.58 300.74,140.56 301.2,140.53 301.66,140.51 302.13,140.49 302.59,140.46 303.05,140.43 303.52,140.41 303.98,140.38 304.44,140.35 304.91,140.33 305.37,140.3 305.83,140.27 306.29,140.24 306.76,140.21 307.22,140.18 307.68,140.15 308.15,140.11 308.61,140.08 309.07,140.05 309.54,140.01 310,139.98 310.46,139.94 310.93,139.91 311.39,139.87 311.85,139.83 312.32,139.79 312.78,139.75 313.24,139.71 313.71,139.67 314.17,139.62 314.63,139.58 315.09,139.54 315.56,139.49 316.02,139.44 316.48,139.4 316.95,139.35 317.41,139.3 317.87,139.24 318.34,139.19 318.8,139.14 319.26,139.08 319.73,139.03 320.19,138.97 320.65,138.91 321.12,138.85 321.58,138.79 322.04,138.73 322.51,138.66 322.97,138.6 323.43,138.53 323.89,138.46 324.36,138.39 324.82,138.32 325.28,138.24 325.75,138.17 326.21,138.09 326.67,138.01 327.14,137.93 327.6,137.84 328.06,137.76 328.53,137.67 328.99,137.58 329.45,137.49 329.92,137.39 330.38,137.29 330.84,137.2 331.31,137.09 331.77,136.99 332.23,136.88 332.69,136.77 333.16,136.66 333.62,136.54 334.08,136.42 334.55,136.3 335.01,136.18 335.47,136.05 335.94,135.91 336.4,135.78 336.86,135.64 337.33,135.5 337.79,135.35 338.25,135.2 338.72,135.04 339.18,134.89 339.64,134.72 340.11,134.55 340.57,134.38 341.03,134.2 341.49,134.02 341.96,133.83 342.42,133.64 342.88,133.44 343.35,133.24 343.81,133.03 344.27,132.81 344.74,132.59 345.2,132.36 345.66,132.12 346.13,131.88 346.59,131.63 347.05,131.38 347.52,131.11 347.98,130.84 348.44,130.56 348.91,130.27 349.37,129.98 349.83,129.67 350.29,129.36 350.76,129.03 351.22,128.7 351.68,128.36 352.15,128.01 352.61,127.64 353.07,127.27 353.54,126.88 354,126.49 354.46,126.08 354.93,125.66 355.39,125.23 355.85,124.79 356.32,124.33 356.78,123.86 357.24,123.38 357.71,122.88 358.17,122.37 358.63,121.85 359.09,121.31 359.56,120.76 360.02,120.2 360.48,119.62 360.95,119.03 361.41,118.42 361.87,117.8 362.34,117.17 362.8,116.52 363.26,115.86 363.73,115.19 364.19,114.51 364.65,113.81 365.12,113.11 365.58,112.4 366.04,111.67 366.51,110.94 366.97,110.21 367.43,109.47 367.89,108.72 368.36,107.98 368.82,107.24 369.28,106.5 369.75,105.76 370.21,105.04 370.67,104.32 371.14,103.62 371.6,102.93 372.06,102.27 372.53,101.62 372.99,101 373.45,100.41 373.92,99.85 374.38,99.33 374.84,98.84 375.31,98.39 375.77,97.99 376.23,97.63 376.69,97.32 377.16,97.06 377.62,96.86 378.08,96.71 378.55,96.61 379.01,96.56 379.47,96.58 379.94,96.67 380.4,96.83 380.86,97.05 381.33,97.35 381.79,97.71 382.25,98.14 382.72,98.62 383.18,99.16 383.64,99.75 384.11,100.38 384.57,101.06 385.03,101.78 385.49,102.52 385.96,103.3 386.42,104.1 386.88,104.92 387.35,105.76 387.81,106.6 388.27,107.46 388.74,108.32 389.2,109.18 389.66,110.04 390.13,110.89 390.59,111.74 391.05,112.58 391.52,113.41 391.98,114.22 392.44,115.03 392.91,115.81 393.37,116.59 393.83,117.35 394.29,118.09 394.76,118.81 395.22,119.51 395.68,120.2 396.15,120.87 396.61,121.52 397.07,122.15 397.54,122.77 398,123.37 398.46,123.95 398.93,124.51 399.39,125.06 399.85,125.59 400.32,126.1 400.78,126.6 401.24,127.08 401.71,127.55 402.17,128 402.63,128.44 403.09,128.86 403.56,129.28 404.02,129.67 404.48,130.06 404.95,130.43 405.41,130.8 405.87,131.15 406.34,131.49 406.8,131.82 407.26,132.14 407.73,132.45 408.19,132.75 408.65,133.04 409.12,133.32 409.58,133.59 410.04,133.86 410.51,134.12 410.97,134.37 411.43,134.61 411.89,134.84 412.36,135.07 412.82,135.29 413.28,135.51 413.75,135.72 414.21,135.92 414.67,136.12 415.14,136.31 415.6,136.5 416.06,136.68 416.53,136.85 416.99,137.02 417.45,137.19 417.92,137.35 418.38,137.51 418.84,137.67 419.31,137.82 419.77,137.96 420.23,138.1 420.69,138.24 421.16,138.38 421.62,138.51 422.08,138.64 422.55,138.76 423.01,138.88 423.47,139 423.94,139.12 424.4,139.23 424.86,139.34 425.33,139.45 425.79,139.56 426.25,139.66 426.72,139.76 427.18,139.86 427.64,139.95 428.11,140.05 428.57,140.14 429.03,140.23 429.49,140.32 429.96,140.4 430.42,140.49 430.88,140.57 431.35,140.65 431.81,140.73 432.27,140.81 432.74,140.88 433.2,140.96 433.66,141.03 434.13,141.1 434.59,141.17 435.05,141.24 435.52,141.3 435.98,141.37 436.44,141.43 436.91,141.5 437.37,141.56 437.83,141.62 438.29,141.68 438.76,141.74 439.22,141.8 439.68,141.85 440.15,141.91 440.61,141.96 441.07,142.01 441.54,142.07 442,142.12 442.46,142.17 442.93,142.22 443.39,142.27 443.85,142.32 444.32,142.36 444.78,142.41 445.24,142.46 445.71,142.5 446.17,142.54 446.63,142.59 447.09,142.63 447.56,142.67 448.02,142.71 448.48,142.76 448.95,142.8 449.41,142.84 449.87,142.87 450.34,142.91 450.8,142.95" fill="none" stroke="#7f9fc8" stroke-width="1.3" stroke-dasharray="2.6 2.2"/>
<polyline points="266,141.73 266.46,141.72 266.93,141.72 267.39,141.72 267.85,141.72 268.32,141.72 268.78,141.72 269.24,141.72 269.71,141.72 270.17,141.72 270.63,141.71 271.09,141.71 271.56,141.71 272.02,141.71 272.48,141.71 272.95,141.7 273.41,141.7 273.87,141.7 274.34,141.7 274.8,141.7 275.26,141.69 275.73,141.69 276.19,141.69 276.65,141.69 277.12,141.68 277.58,141.68 278.04,141.68 278.51,141.67 278.97,141.67 279.43,141.67 279.89,141.66 280.36,141.66 280.82,141.65 281.28,141.65 281.75,141.65 282.21,141.64 282.67,141.64 283.14,141.63 283.6,141.63 284.06,141.62 284.53,141.62 284.99,141.61 285.45,141.61 285.92,141.6 286.38,141.6 286.84,141.59 287.31,141.58 287.77,141.58 288.23,141.57 288.69,141.56 289.16,141.56 289.62,141.55 290.08,141.54 290.55,141.54 291.01,141.53 291.47,141.52 291.94,141.51 292.4,141.5 292.86,141.5 293.33,141.49 293.79,141.48 294.25,141.47 294.72,141.46 295.18,141.45 295.64,141.44 296.11,141.43 296.57,141.42 297.03,141.41 297.49,141.4 297.96,141.39 298.42,141.38 298.88,141.36 299.35,141.35 299.81,141.34 300.27,141.33 300.74,141.32 301.2,141.3 301.66,141.29 302.13,141.27 302.59,141.26 303.05,141.25 303.52,141.23 303.98,141.22 304.44,141.2 304.91,141.18 305.37,141.17 305.83,141.15 306.29,141.13 306.76,141.12 307.22,141.1 307.68,141.08 308.15,141.06 308.61,141.04 309.07,141.02 309.54,141 310,140.98 310.46,140.96 310.93,140.94 311.39,140.91 311.85,140.89 312.32,140.87 312.78,140.84 313.24,140.82 313.71,140.79 314.17,140.77 314.63,140.74 315.09,140.71 315.56,140.68 316.02,140.66 316.48,140.63 316.95,140.6 317.41,140.57 317.87,140.53 318.34,140.5 318.8,140.47 319.26,140.43 319.73,140.4 320.19,140.36 320.65,140.33 321.12,140.29 321.58,140.25 322.04,140.21 322.51,140.17 322.97,140.13 323.43,140.08 323.89,140.04 324.36,140 324.82,139.95 325.28,139.9 325.75,139.85 326.21,139.8 326.67,139.75 327.14,139.7 327.6,139.64 328.06,139.59 328.53,139.53 328.99,139.47 329.45,139.41 329.92,139.35 330.38,139.28 330.84,139.22 331.31,139.15 331.77,139.08 332.23,139.01 332.69,138.93 333.16,138.86 333.62,138.78 334.08,138.7 334.55,138.61 335.01,138.53 335.47,138.44 335.94,138.35 336.4,138.25 336.86,138.16 337.33,138.06 337.79,137.96 338.25,137.85 338.72,137.74 339.18,137.63 339.64,137.51 340.11,137.39 340.57,137.27 341.03,137.14 341.49,137.01 341.96,136.87 342.42,136.73 342.88,136.58 343.35,136.43 343.81,136.27 344.27,136.11 344.74,135.94 345.2,135.77 345.66,135.59 346.13,135.4 346.59,135.21 347.05,135.01 347.52,134.8 347.98,134.58 348.44,134.36 348.91,134.13 349.37,133.88 349.83,133.63 350.29,133.37 350.76,133.1 351.22,132.82 351.68,132.53 352.15,132.22 352.61,131.9 353.07,131.57 353.54,131.23 354,130.87 354.46,130.49 354.93,130.1 355.39,129.69 355.85,129.27 356.32,128.82 356.78,128.36 357.24,127.87 357.71,127.37 358.17,126.83 358.63,126.28 359.09,125.7 359.56,125.09 360.02,124.45 360.48,123.78 360.95,123.08 361.41,122.35 361.87,121.58 362.34,120.77 362.8,119.92 363.26,119.03 363.73,118.09 364.19,117.11 364.65,116.08 365.12,115 365.58,113.87 366.04,112.68 366.51,111.43 366.97,110.12 367.43,108.75 367.89,107.31 368.36,105.8 368.82,104.23 369.28,102.58 369.75,100.86 370.21,99.07 370.67,97.21 371.14,95.28 371.6,93.28 372.06,91.22 372.53,89.1 372.99,86.93 373.45,84.71 373.92,82.46 374.38,80.2 374.84,77.92 375.31,75.66 375.77,73.44 376.23,71.27 376.69,69.18 377.16,67.2 377.62,65.35 378.08,63.66 378.55,62.16 379.01,60.87 379.47,59.81 379.94,59.02 380.4,58.49 380.86,58.24 381.33,58.35 381.79,59.06 382.25,60.37 382.72,62.21 383.18,64.52 383.64,67.22 384.11,70.22 384.57,73.42 385.03,76.75 385.49,80.13 385.96,83.51 386.42,86.83 386.88,90.07 387.35,93.18 387.81,96.15 388.27,98.97 388.74,101.63 389.2,104.14 389.66,106.49 390.13,108.69 390.59,110.75 391.05,112.66 391.52,114.45 391.98,116.11 392.44,117.65 392.91,119.1 393.37,120.44 393.83,121.69 394.29,122.85 394.76,123.94 395.22,124.95 395.68,125.9 396.15,126.79 396.61,127.62 397.07,128.39 397.54,129.12 398,129.8 398.46,130.44 398.93,131.04 399.39,131.61 399.85,132.14 400.32,132.65 400.78,133.12 401.24,133.57 401.71,133.99 402.17,134.39 402.63,134.77 403.09,135.13 403.56,135.47 404.02,135.79 404.48,136.1 404.95,136.39 405.41,136.67 405.87,136.93 406.34,137.18 406.8,137.42 407.26,137.65 407.73,137.87 408.19,138.08 408.65,138.28 409.12,138.47 409.58,138.65 410.04,138.82 410.51,138.99 410.97,139.15 411.43,139.31 411.89,139.46 412.36,139.6 412.82,139.74 413.28,139.87 413.75,139.99 414.21,140.12 414.67,140.23 415.14,140.35 415.6,140.46 416.06,140.56 416.53,140.67 416.99,140.76 417.45,140.86 417.92,140.95 418.38,141.04 418.84,141.13 419.31,141.21 419.77,141.29 420.23,141.37 420.69,141.44 421.16,141.52 421.62,141.59 422.08,141.66 422.55,141.73 423.01,141.79 423.47,141.86 423.94,141.92 424.4,141.98 424.86,142.03 425.33,142.09 425.79,142.15 426.25,142.2 426.72,142.25 427.18,142.3 427.64,142.35 428.11,142.4 428.57,142.45 429.03,142.5 429.49,142.54 429.96,142.58 430.42,142.63 430.88,142.67 431.35,142.71 431.81,142.75 432.27,142.79 432.74,142.83 433.2,142.87 433.66,142.9 434.13,142.94 434.59,142.97 435.05,143.01 435.52,143.04 435.98,143.07 436.44,143.11 436.91,143.14 437.37,143.17 437.83,143.2 438.29,143.23 438.76,143.26 439.22,143.29 439.68,143.32 440.15,143.34 440.61,143.37 441.07,143.4 441.54,143.42 442,143.45 442.46,143.48 442.93,143.5 443.39,143.52 443.85,143.55 444.32,143.57 444.78,143.6 445.24,143.62 445.71,143.64 446.17,143.66 446.63,143.69 447.09,143.71 447.56,143.73 448.02,143.75 448.48,143.77 448.95,143.79 449.41,143.81 449.87,143.83 450.34,143.85 450.8,143.87" fill="none" stroke="#e2486c" stroke-width="1.3"/>
<polyline points="266,141.97 266.46,141.97 266.93,141.97 267.39,141.97 267.85,141.97 268.32,141.97 268.78,141.97 269.24,141.97 269.71,141.97 270.17,141.97 270.63,141.97 271.09,141.97 271.56,141.97 272.02,141.97 272.48,141.97 272.95,141.97 273.41,141.96 273.87,141.96 274.34,141.96 274.8,141.96 275.26,141.96 275.73,141.96 276.19,141.96 276.65,141.95 277.12,141.95 277.58,141.95 278.04,141.95 278.51,141.94 278.97,141.94 279.43,141.94 279.89,141.94 280.36,141.93 280.82,141.93 281.28,141.93 281.75,141.93 282.21,141.92 282.67,141.92 283.14,141.92 283.6,141.91 284.06,141.91 284.53,141.9 284.99,141.9 285.45,141.9 285.92,141.89 286.38,141.89 286.84,141.88 287.31,141.88 287.77,141.87 288.23,141.87 288.69,141.86 289.16,141.86 289.62,141.85 290.08,141.84 290.55,141.84 291.01,141.83 291.47,141.82 291.94,141.82 292.4,141.81 292.86,141.8 293.33,141.8 293.79,141.79 294.25,141.78 294.72,141.77 295.18,141.76 295.64,141.76 296.11,141.75 296.57,141.74 297.03,141.73 297.49,141.72 297.96,141.71 298.42,141.7 298.88,141.69 299.35,141.68 299.81,141.67 300.27,141.66 300.74,141.65 301.2,141.63 301.66,141.62 302.13,141.61 302.59,141.6 303.05,141.58 303.52,141.57 303.98,141.56 304.44,141.54 304.91,141.53 305.37,141.51 305.83,141.5 306.29,141.48 306.76,141.47 307.22,141.45 307.68,141.43 308.15,141.42 308.61,141.4 309.07,141.38 309.54,141.36 310,141.34 310.46,141.32 310.93,141.3 311.39,141.28 311.85,141.26 312.32,141.24 312.78,141.22 313.24,141.2 313.71,141.17 314.17,141.15 314.63,141.12 315.09,141.1 315.56,141.07 316.02,141.05 316.48,141.02 316.95,140.99 317.41,140.96 317.87,140.93 318.34,140.9 318.8,140.87 319.26,140.84 319.73,140.81 320.19,140.77 320.65,140.74 321.12,140.7 321.58,140.67 322.04,140.63 322.51,140.59 322.97,140.55 323.43,140.51 323.89,140.47 324.36,140.43 324.82,140.38 325.28,140.34 325.75,140.29 326.21,140.25 326.67,140.2 327.14,140.15 327.6,140.1 328.06,140.04 328.53,139.99 328.99,139.93 329.45,139.88 329.92,139.82 330.38,139.75 330.84,139.69 331.31,139.63 331.77,139.56 332.23,139.49 332.69,139.42 333.16,139.35 333.62,139.27 334.08,139.2 334.55,139.12 335.01,139.04 335.47,138.95 335.94,138.86 336.4,138.78 336.86,138.68 337.33,138.59 337.79,138.49 338.25,138.39 338.72,138.28 339.18,138.17 339.64,138.06 340.11,137.95 340.57,137.83 341.03,137.7 341.49,137.57 341.96,137.44 342.42,137.3 342.88,137.16 343.35,137.02 343.81,136.86 344.27,136.71 344.74,136.54 345.2,136.38 345.66,136.2 346.13,136.02 346.59,135.83 347.05,135.63 347.52,135.43 347.98,135.22 348.44,135 348.91,134.77 349.37,134.54 349.83,134.29 350.29,134.04 350.76,133.77 351.22,133.49 351.68,133.2 352.15,132.9 352.61,132.59 353.07,132.26 353.54,131.92 354,131.57 354.46,131.2 354.93,130.81 355.39,130.4 355.85,129.98 356.32,129.54 356.78,129.07 357.24,128.59 357.71,128.08 358.17,127.55 358.63,126.99 359.09,126.4 359.56,125.79 360.02,125.15 360.48,124.47 360.95,123.76 361.41,123.02 361.87,122.24 362.34,121.42 362.8,120.55 363.26,119.64 363.73,118.69 364.19,117.68 364.65,116.62 365.12,115.51 365.58,114.34 366.04,113.11 366.51,111.82 366.97,110.46 367.43,109.03 367.89,107.53 368.36,105.95 368.82,104.3 369.28,102.58 369.75,100.77 370.21,98.89 370.67,96.93 371.14,94.89 371.6,92.77 372.06,90.59 372.53,88.35 372.99,86.05 373.45,83.71 373.92,81.33 374.38,78.94 374.84,76.55 375.31,74.19 375.77,71.88 376.23,69.64 376.69,67.51 377.16,65.52 377.62,63.69 378.08,62.05 378.55,60.65 379.01,59.5 379.47,58.63 379.94,58.05 380.4,57.78 380.86,57.91 381.33,58.77 381.79,60.35 382.25,62.57 382.72,65.32 383.18,68.49 383.64,71.97 384.11,75.63 384.57,79.38 385.03,83.13 385.49,86.82 385.96,90.39 386.42,93.82 386.88,97.06 387.35,100.12 387.81,102.99 388.27,105.67 388.74,108.16 389.2,110.47 389.66,112.61 390.13,114.59 390.59,116.42 391.05,118.11 391.52,119.67 391.98,121.12 392.44,122.46 392.91,123.7 393.37,124.85 393.83,125.91 394.29,126.9 394.76,127.82 395.22,128.68 395.68,129.47 396.15,130.21 396.61,130.91 397.07,131.55 397.54,132.16 398,132.73 398.46,133.26 398.93,133.76 399.39,134.23 399.85,134.67 400.32,135.08 400.78,135.47 401.24,135.84 401.71,136.19 402.17,136.52 402.63,136.83 403.09,137.13 403.56,137.41 404.02,137.68 404.48,137.93 404.95,138.17 405.41,138.4 405.87,138.61 406.34,138.82 406.8,139.02 407.26,139.21 407.73,139.39 408.19,139.56 408.65,139.72 409.12,139.88 409.58,140.03 410.04,140.18 410.51,140.31 410.97,140.45 411.43,140.58 411.89,140.7 412.36,140.82 412.82,140.93 413.28,141.04 413.75,141.14 414.21,141.25 414.67,141.34 415.14,141.44 415.6,141.53 416.06,141.62 416.53,141.7 416.99,141.78 417.45,141.86 417.92,141.94 418.38,142.01 418.84,142.08 419.31,142.15 419.77,142.22 420.23,142.29 420.69,142.35 421.16,142.41 421.62,142.47 422.08,142.53 422.55,142.59 423.01,142.64 423.47,142.7 423.94,142.75 424.4,142.8 424.86,142.85 425.33,142.89 425.79,142.94 426.25,142.99 426.72,143.03 427.18,143.07 427.64,143.12 428.11,143.16 428.57,143.2 429.03,143.24 429.49,143.28 429.96,143.31 430.42,143.35 430.88,143.39 431.35,143.42 431.81,143.46 432.27,143.49 432.74,143.52 433.2,143.55 433.66,143.59 434.13,143.62 434.59,143.65 435.05,143.68 435.52,143.71 435.98,143.73 436.44,143.76 436.91,143.79 437.37,143.82 437.83,143.84 438.29,143.87 438.76,143.89 439.22,143.92 439.68,143.94 440.15,143.97 440.61,143.99 441.07,144.02 441.54,144.04 442,144.06 442.46,144.08 442.93,144.11 443.39,144.13 443.85,144.15 444.32,144.17 444.78,144.19 445.24,144.21 445.71,144.23 446.17,144.25 446.63,144.27 447.09,144.29 447.56,144.31 448.02,144.33 448.48,144.35 448.95,144.36 449.41,144.38 449.87,144.4 450.34,144.42 450.8,144.44" fill="none" stroke="#e2486c" stroke-width="1.3" stroke-dasharray="2.6 2.2"/>
<polyline points="266,142.13 266.46,142.14 266.93,142.14 267.39,142.14 267.85,142.14 268.32,142.14 268.78,142.15 269.24,142.15 269.71,142.15 270.17,142.15 270.63,142.15 271.09,142.15 271.56,142.15 272.02,142.15 272.48,142.16 272.95,142.16 273.41,142.16 273.87,142.16 274.34,142.16 274.8,142.16 275.26,142.16 275.73,142.16 276.19,142.16 276.65,142.16 277.12,142.16 277.58,142.16 278.04,142.16 278.51,142.16 278.97,142.16 279.43,142.16 279.89,142.16 280.36,142.16 280.82,142.16 281.28,142.16 281.75,142.16 282.21,142.16 282.67,142.16 283.14,142.16 283.6,142.16 284.06,142.16 284.53,142.15 284.99,142.15 285.45,142.15 285.92,142.15 286.38,142.15 286.84,142.15 287.31,142.14 287.77,142.14 288.23,142.14 288.69,142.14 289.16,142.13 289.62,142.13 290.08,142.13 290.55,142.13 291.01,142.12 291.47,142.12 291.94,142.12 292.4,142.11 292.86,142.11 293.33,142.1 293.79,142.1 294.25,142.1 294.72,142.09 295.18,142.09 295.64,142.08 296.11,142.08 296.57,142.07 297.03,142.07 297.49,142.06 297.96,142.05 298.42,142.05 298.88,142.04 299.35,142.04 299.81,142.03 300.27,142.02 300.74,142.01 301.2,142.01 301.66,142 302.13,141.99 302.59,141.98 303.05,141.97 303.52,141.97 303.98,141.96 304.44,141.95 304.91,141.94 305.37,141.93 305.83,141.92 306.29,141.91 306.76,141.9 307.22,141.89 307.68,141.87 308.15,141.86 308.61,141.85 309.07,141.84 309.54,141.82 310,141.81 310.46,141.8 310.93,141.78 311.39,141.77 311.85,141.75 312.32,141.74 312.78,141.72 313.24,141.71 313.71,141.69 314.17,141.67 314.63,141.66 315.09,141.64 315.56,141.62 316.02,141.6 316.48,141.58 316.95,141.56 317.41,141.54 317.87,141.52 318.34,141.49 318.8,141.47 319.26,141.45 319.73,141.42 320.19,141.4 320.65,141.37 321.12,141.35 321.58,141.32 322.04,141.29 322.51,141.26 322.97,141.23 323.43,141.2 323.89,141.17 324.36,141.14 324.82,141.11 325.28,141.07 325.75,141.04 326.21,141 326.67,140.97 327.14,140.93 327.6,140.89 328.06,140.85 328.53,140.81 328.99,140.76 329.45,140.72 329.92,140.67 330.38,140.63 330.84,140.58 331.31,140.53 331.77,140.48 332.23,140.42 332.69,140.37 333.16,140.31 333.62,140.26 334.08,140.2 334.55,140.13 335.01,140.07 335.47,140 335.94,139.94 336.4,139.87 336.86,139.79 337.33,139.72 337.79,139.64 338.25,139.56 338.72,139.48 339.18,139.39 339.64,139.3 340.11,139.21 340.57,139.12 341.03,139.02 341.49,138.91 341.96,138.81 342.42,138.7 342.88,138.59 343.35,138.47 343.81,138.35 344.27,138.22 344.74,138.09 345.2,137.95 345.66,137.81 346.13,137.66 346.59,137.51 347.05,137.35 347.52,137.19 347.98,137.02 348.44,136.84 348.91,136.65 349.37,136.46 349.83,136.25 350.29,136.04 350.76,135.82 351.22,135.59 351.68,135.36 352.15,135.1 352.61,134.84 353.07,134.57 353.54,134.28 354,133.98 354.46,133.67 354.93,133.34 355.39,133 355.85,132.64 356.32,132.26 356.78,131.86 357.24,131.44 357.71,131 358.17,130.54 358.63,130.05 359.09,129.54 359.56,128.99 360.02,128.42 360.48,127.82 360.95,127.18 361.41,126.51 361.87,125.79 362.34,125.04 362.8,124.24 363.26,123.39 363.73,122.49 364.19,121.54 364.65,120.52 365.12,119.45 365.58,118.3 366.04,117.08 366.51,115.78 366.97,114.4 367.43,112.92 367.89,111.35 368.36,109.68 368.82,107.89 369.28,105.98 369.75,103.95 370.21,101.79 370.67,99.49 371.14,97.04 371.6,94.43 372.06,91.67 372.53,88.75 372.99,85.66 373.45,82.42 373.92,79.02 374.38,75.47 374.84,71.8 375.31,68.02 375.77,64.17 376.23,60.29 376.69,56.42 377.16,52.62 377.62,48.97 378.08,45.53 378.55,42.39 379.01,39.63 379.47,37.33 379.94,35.56 380.4,34.37 380.86,33.81 381.33,33.99 381.79,35.25 382.25,37.55 382.72,40.77 383.18,44.73 383.64,49.24 384.11,54.13 384.57,59.22 385.03,64.37 385.49,69.46 385.96,74.4 386.42,79.13 386.88,83.61 387.35,87.82 387.81,91.75 388.27,95.39 388.74,98.76 389.2,101.87 389.66,104.73 390.13,107.36 390.59,109.78 391.05,112.01 391.52,114.06 391.98,115.94 392.44,117.67 392.91,119.27 393.37,120.74 393.83,122.1 394.29,123.35 394.76,124.52 395.22,125.59 395.68,126.59 396.15,127.52 396.61,128.38 397.07,129.19 397.54,129.94 398,130.64 398.46,131.29 398.93,131.9 399.39,132.48 399.85,133.02 400.32,133.52 400.78,134 401.24,134.45 401.71,134.87 402.17,135.27 402.63,135.64 403.09,136 403.56,136.34 404.02,136.65 404.48,136.96 404.95,137.24 405.41,137.51 405.87,137.77 406.34,138.02 406.8,138.25 407.26,138.48 407.73,138.69 408.19,138.89 408.65,139.09 409.12,139.27 409.58,139.45 410.04,139.62 410.51,139.78 410.97,139.94 411.43,140.09 411.89,140.23 412.36,140.37 412.82,140.5 413.28,140.63 413.75,140.75 414.21,140.87 414.67,140.99 415.14,141.1 415.6,141.2 416.06,141.3 416.53,141.4 416.99,141.5 417.45,141.59 417.92,141.68 418.38,141.76 418.84,141.85 419.31,141.93 419.77,142 420.23,142.08 420.69,142.15 421.16,142.22 421.62,142.29 422.08,142.36 422.55,142.43 423.01,142.49 423.47,142.55 423.94,142.61 424.4,142.67 424.86,142.72 425.33,142.78 425.79,142.83 426.25,142.88 426.72,142.93 427.18,142.98 427.64,143.03 428.11,143.08 428.57,143.13 429.03,143.17 429.49,143.21 429.96,143.26 430.42,143.3 430.88,143.34 431.35,143.38 431.81,143.42 432.27,143.46 432.74,143.49 433.2,143.53 433.66,143.57 434.13,143.6 434.59,143.63 435.05,143.67 435.52,143.7 435.98,143.73 436.44,143.77 436.91,143.8 437.37,143.83 437.83,143.86 438.29,143.89 438.76,143.92 439.22,143.94 439.68,143.97 440.15,144 440.61,144.03 441.07,144.05 441.54,144.08 442,144.1 442.46,144.13 442.93,144.15 443.39,144.18 443.85,144.2 444.32,144.23 444.78,144.25 445.24,144.27 445.71,144.29 446.17,144.32 446.63,144.34 447.09,144.36 447.56,144.38 448.02,144.4 448.48,144.42 448.95,144.44 449.41,144.46 449.87,144.48 450.34,144.5 450.8,144.52" fill="none" stroke="#3db68e" stroke-width="1.3"/>
<polyline points="266,142.76 266.46,142.77 266.93,142.77 267.39,142.77 267.85,142.77 268.32,142.78 268.78,142.78 269.24,142.78 269.71,142.79 270.17,142.79 270.63,142.79 271.09,142.79 271.56,142.8 272.02,142.8 272.48,142.8 272.95,142.8 273.41,142.81 273.87,142.81 274.34,142.81 274.8,142.81 275.26,142.81 275.73,142.82 276.19,142.82 276.65,142.82 277.12,142.82 277.58,142.82 278.04,142.82 278.51,142.83 278.97,142.83 279.43,142.83 279.89,142.83 280.36,142.83 280.82,142.83 281.28,142.83 281.75,142.83 282.21,142.83 282.67,142.83 283.14,142.84 283.6,142.84 284.06,142.84 284.53,142.84 284.99,142.84 285.45,142.84 285.92,142.84 286.38,142.84 286.84,142.84 287.31,142.83 287.77,142.83 288.23,142.83 288.69,142.83 289.16,142.83 289.62,142.83 290.08,142.83 290.55,142.83 291.01,142.83 291.47,142.82 291.94,142.82 292.4,142.82 292.86,142.82 293.33,142.82 293.79,142.81 294.25,142.81 294.72,142.81 295.18,142.8 295.64,142.8 296.11,142.8 296.57,142.79 297.03,142.79 297.49,142.79 297.96,142.78 298.42,142.78 298.88,142.77 299.35,142.77 299.81,142.76 300.27,142.76 300.74,142.75 301.2,142.75 301.66,142.74 302.13,142.73 302.59,142.73 303.05,142.72 303.52,142.71 303.98,142.71 304.44,142.7 304.91,142.69 305.37,142.68 305.83,142.68 306.29,142.67 306.76,142.66 307.22,142.65 307.68,142.64 308.15,142.63 308.61,142.62 309.07,142.61 309.54,142.6 310,142.59 310.46,142.57 310.93,142.56 311.39,142.55 311.85,142.54 312.32,142.52 312.78,142.51 313.24,142.5 313.71,142.48 314.17,142.47 314.63,142.45 315.09,142.43 315.56,142.42 316.02,142.4 316.48,142.38 316.95,142.37 317.41,142.35 317.87,142.33 318.34,142.31 318.8,142.29 319.26,142.27 319.73,142.24 320.19,142.22 320.65,142.2 321.12,142.17 321.58,142.15 322.04,142.12 322.51,142.1 322.97,142.07 323.43,142.04 323.89,142.01 324.36,141.99 324.82,141.95 325.28,141.92 325.75,141.89 326.21,141.86 326.67,141.82 327.14,141.79 327.6,141.75 328.06,141.71 328.53,141.67 328.99,141.63 329.45,141.59 329.92,141.55 330.38,141.51 330.84,141.46 331.31,141.41 331.77,141.36 332.23,141.31 332.69,141.26 333.16,141.21 333.62,141.15 334.08,141.1 334.55,141.04 335.01,140.98 335.47,140.91 335.94,140.85 336.4,140.78 336.86,140.71 337.33,140.64 337.79,140.56 338.25,140.49 338.72,140.41 339.18,140.32 339.64,140.24 340.11,140.15 340.57,140.06 341.03,139.96 341.49,139.86 341.96,139.76 342.42,139.65 342.88,139.54 343.35,139.42 343.81,139.31 344.27,139.18 344.74,139.05 345.2,138.92 345.66,138.78 346.13,138.63 346.59,138.48 347.05,138.32 347.52,138.16 347.98,137.99 348.44,137.81 348.91,137.63 349.37,137.43 349.83,137.23 350.29,137.02 350.76,136.8 351.22,136.57 351.68,136.33 352.15,136.08 352.61,135.81 353.07,135.53 353.54,135.24 354,134.94 354.46,134.62 354.93,134.29 355.39,133.93 355.85,133.56 356.32,133.17 356.78,132.76 357.24,132.33 357.71,131.88 358.17,131.4 358.63,130.89 359.09,130.35 359.56,129.79 360.02,129.19 360.48,128.56 360.95,127.88 361.41,127.17 361.87,126.42 362.34,125.61 362.8,124.76 363.26,123.85 363.73,122.89 364.19,121.86 364.65,120.76 365.12,119.59 365.58,118.35 366.04,117.01 366.51,115.59 366.97,114.06 367.43,112.44 367.89,110.69 368.36,108.83 368.82,106.83 369.28,104.69 369.75,102.41 370.21,99.96 370.67,97.36 371.14,94.57 371.6,91.61 372.06,88.47 372.53,85.14 372.99,81.63 373.45,77.94 373.92,74.09 374.38,70.1 374.84,66 375.31,61.83 375.77,57.65 376.23,53.51 376.69,49.5 377.16,45.69 377.62,42.19 378.08,39.09 378.55,36.49 379.01,34.48 379.47,33.13 379.94,32.49 380.4,32.85 380.86,35.2 381.33,39.4 381.79,45.02 382.25,51.58 382.72,58.64 383.18,65.79 383.64,72.76 384.11,79.36 384.57,85.47 385.03,91.05 385.49,96.1 385.96,100.63 386.42,104.68 386.88,108.3 387.35,111.52 387.81,114.4 388.27,116.96 388.74,119.25 389.2,121.3 389.66,123.14 390.13,124.79 390.59,126.28 391.05,127.63 391.52,128.84 391.98,129.95 392.44,130.95 392.91,131.86 393.37,132.7 393.83,133.47 394.29,134.17 394.76,134.81 395.22,135.41 395.68,135.96 396.15,136.47 396.61,136.94 397.07,137.37 397.54,137.78 398,138.16 398.46,138.51 398.93,138.84 399.39,139.15 399.85,139.44 400.32,139.71 400.78,139.97 401.24,140.21 401.71,140.43 402.17,140.65 402.63,140.85 403.09,141.04 403.56,141.22 404.02,141.39 404.48,141.55 404.95,141.71 405.41,141.85 405.87,141.99 406.34,142.13 406.8,142.25 407.26,142.37 407.73,142.49 408.19,142.6 408.65,142.7 409.12,142.81 409.58,142.9 410.04,143 410.51,143.08 410.97,143.17 411.43,143.25 411.89,143.33 412.36,143.41 412.82,143.48 413.28,143.55 413.75,143.62 414.21,143.69 414.67,143.75 415.14,143.81 415.6,143.87 416.06,143.93 416.53,143.98 416.99,144.04 417.45,144.09 417.92,144.14 418.38,144.19 418.84,144.24 419.31,144.28 419.77,144.33 420.23,144.37 420.69,144.41 421.16,144.46 421.62,144.5 422.08,144.54 422.55,144.57 423.01,144.61 423.47,144.65 423.94,144.68 424.4,144.72 424.86,144.75 425.33,144.78 425.79,144.82 426.25,144.85 426.72,144.88 427.18,144.91 427.64,144.94 428.11,144.97 428.57,145 429.03,145.02 429.49,145.05 429.96,145.08 430.42,145.1 430.88,145.13 431.35,145.15 431.81,145.18 432.27,145.2 432.74,145.23 433.2,145.25 433.66,145.27 434.13,145.3 434.59,145.32 435.05,145.34 435.52,145.36 435.98,145.38 436.44,145.4 436.91,145.42 437.37,145.44 437.83,145.46 438.29,145.48 438.76,145.5 439.22,145.52 439.68,145.54 440.15,145.56 440.61,145.58 441.07,145.6 441.54,145.61 442,145.63 442.46,145.65 442.93,145.67 443.39,145.68 443.85,145.7 444.32,145.72 444.78,145.73 445.24,145.75 445.71,145.77 446.17,145.78 446.63,145.8 447.09,145.81 447.56,145.83 448.02,145.84 448.48,145.86 448.95,145.87 449.41,145.89 449.87,145.9 450.34,145.92 450.8,145.93" fill="none" stroke="#3db68e" stroke-width="1.3" stroke-dasharray="2.6 2.2"/>
</g>
<line x1="269.9" y1="24.2" x2="279.3" y2="24.2" stroke="#2e5486" stroke-width="1.4"/>
<text x="282.8" y="26.6" font-size="6.65" text-anchor="start" fill="#262626" font-family='"Liberation Sans", sans-serif' >Numerical, w/o CEP, s = 100nm</text>
<line x1="269.9" y1="33.64" x2="279.3" y2="33.64" stroke="#7f9fc8" stroke-width="1.4" stroke-dasharray="3.1 3.1"/>
<text x="282.8" y="36.04" font-size="6.65" text-anchor="start" fill="#262626" font-family='"Liberation Sans", sans-serif' >Analytical, w/o CEP, s = 100nm</text>
<line x1="269.9" y1="43.08" x2="279.3" y2="43.08" stroke="#e2486c" stroke-width="1.4"/>
<text x="282.8" y="45.48" font-size="6.65" text-anchor="start" fill="#262626" font-family='"Liberation Sans", sans-serif' >Numerical, w CEP, s = 100nm</text>
<line x1="269.9" y1="52.52" x2="279.3" y2="52.52" stroke="#e2486c" stroke-width="1.4" stroke-dasharray="3.1 3.1"/>
<text x="282.8" y="54.92" font-size="6.65" text-anchor="start" fill="#262626" font-family='"Liberation Sans", sans-serif' >Analytical, w CEP, s = 100nm</text>
<line x1="269.9" y1="61.96" x2="279.3" y2="61.96" stroke="#3db68e" stroke-width="1.4"/>
<text x="282.8" y="64.36" font-size="6.65" text-anchor="start" fill="#262626" font-family='"Liberation Sans", sans-serif' >Numerical, w CEP, s = 160nm</text>
<line x1="269.9" y1="71.4" x2="279.3" y2="71.4" stroke="#3db68e" stroke-width="1.4" stroke-dasharray="3.1 3.1"/>
<text x="282.8" y="73.8" font-size="6.65" text-anchor="start" fill="#262626" font-family='"Liberation Sans", sans-serif' >Analytical, w CEP, s = 160nm</text>
<line x1="492.5" y1="15" x2="492.5" y2="151.1" stroke="#d9d9d9" stroke-width="1.3"/><line x1="677.7" y1="15" x2="677.7" y2="151.1" stroke="#d2d2d2" stroke-width="1.0"/><line x1="492.5" y1="15" x2="677.7" y2="15" stroke="#c6c6c6" stroke-width="1.0"/><line x1="492" y1="151.1" x2="678.2" y2="151.1" stroke="#a9a9a9" stroke-width="1.0"/><path d="M492.5 151.1v-2.0M492.5 15v2.0M523.37 151.1v-2.0M523.37 15v2.0M554.23 151.1v-2.0M554.23 15v2.0M585.1 151.1v-2.0M585.1 15v2.0M615.97 151.1v-2.0M615.97 15v2.0M646.83 151.1v-2.0M646.83 15v2.0M677.7 151.1v-2.0M677.7 15v2.0M492.5 151.1h2.0M677.7 151.1h-2.0M492.5 123.88h2.0M677.7 123.88h-2.0M492.5 96.66h2.0M677.7 96.66h-2.0M492.5 69.44h2.0M677.7 69.44h-2.0M492.5 42.22h2.0M677.7 42.22h-2.0M492.5 15h2.0M677.7 15h-2.0" stroke="#b0b0b0" stroke-width="0.8" fill="none"/>
<text x="492.5" y="162" font-size="8.6" text-anchor="middle" fill="#262626" font-family='"Liberation Sans", sans-serif' >0</text>
<text x="523.37" y="162" font-size="8.6" text-anchor="middle" fill="#262626" font-family='"Liberation Sans", sans-serif' >50</text>
<text x="554.23" y="162" font-size="8.6" text-anchor="middle" fill="#262626" font-family='"Liberation Sans", sans-serif' >100</text>
<text x="585.1" y="162" font-size="8.6" text-anchor="middle" fill="#262626" font-family='"Liberation Sans", sans-serif' >150</text>
<text x="615.97" y="162" font-size="8.6" text-anchor="middle" fill="#262626" font-family='"Liberation Sans", sans-serif' >200</text>
<text x="646.83" y="162" font-size="8.6" text-anchor="middle" fill="#262626" font-family='"Liberation Sans", sans-serif' >250</text>
<text x="677.7" y="162" font-size="8.6" text-anchor="middle" fill="#262626" font-family='"Liberation Sans", sans-serif' >300</text>
<text x="489" y="154.2" font-size="8.6" text-anchor="end" fill="#262626" font-family='"Liberation Sans", sans-serif' >0</text>
<text x="489" y="126.98" font-size="8.6" text-anchor="end" fill="#262626" font-family='"Liberation Sans", sans-serif' >0.2</text>
<text x="489" y="99.76" font-size="8.6" text-anchor="end" fill="#262626" font-family='"Liberation Sans", sans-serif' >0.4</text>
<text x="489" y="72.54" font-size="8.6" text-anchor="end" fill="#262626" font-family='"Liberation Sans", sans-serif' >0.6</text>
<text x="489" y="45.32" font-size="8.6" text-anchor="end" fill="#262626" font-family='"Liberation Sans", sans-serif' >0.8</text>
<text x="489" y="18.1" font-size="8.6" text-anchor="end" fill="#262626" font-family='"Liberation Sans", sans-serif' >1.0</text>
<text x="584.5" y="174" font-size="10" text-anchor="middle" font-family='"Liberation Sans", sans-serif' fill="#262626" font-style="italic">g<tspan font-size="6.5" dy="2.2" font-style="normal">a</tspan><tspan dy="-2.2"> t</tspan></text>
<text x="0" y="0" font-size="9.8" text-anchor="middle" fill="#262626" font-family='"Liberation Sans", sans-serif' transform="translate(471.2 82.7) rotate(-90)">Population</text>
<text x="462" y="8.5" font-size="11.2" text-anchor="start" fill="#262626" font-family='"Liberation Sans", sans-serif' >(c)</text>
<clipPath id="clipc"><rect x="492.5" y="15.0" width="185.20000000000005" height="136.1"/></clipPath>
<g clip-path="url(#clipc)">
<polyline points="492.5,15 492.81,16.04 493.12,17.12 493.43,18.22 493.73,19.35 494.04,20.5 494.35,21.68 494.66,22.89 494.97,24.12 495.28,25.37 495.59,26.64 495.9,27.93 496.2,29.26 496.51,30.64 496.82,32.06 497.13,33.51 497.44,34.98 497.75,36.48 498.06,37.97 498.36,39.47 498.67,40.95 498.98,42.42 499.29,43.92 499.6,45.43 499.91,46.95 500.22,48.47 500.53,49.99 500.83,51.49 501.14,52.96 501.45,54.41 501.76,55.83 502.07,57.19 502.38,58.53 502.69,59.83 502.99,61.12 503.3,62.38 503.61,63.64 503.92,64.9 504.23,66.17 504.54,67.45 504.85,68.75 505.16,70.07 505.46,71.42 505.77,72.77 506.08,74.15 506.39,75.52 506.7,76.9 507.01,78.28 507.32,79.65 507.62,81.01 507.93,82.36 508.24,83.69 508.55,84.99 508.86,86.26 509.17,87.5 509.48,88.7 509.79,89.87 510.09,91.02 510.4,92.16 510.71,93.28 511.02,94.38 511.33,95.48 511.64,96.56 511.95,97.63 512.25,98.68 512.56,99.73 512.87,100.76 513.18,101.78 513.49,102.79 513.8,103.79 514.11,104.79 514.42,105.77 514.72,106.74 515.03,107.7 515.34,108.66 515.65,109.6 515.96,110.54 516.27,111.47 516.58,112.39 516.88,113.31 517.19,114.22 517.5,115.13 517.81,116.03 518.12,116.93 518.43,117.82 518.74,118.71 519.05,119.59 519.35,120.46 519.66,121.33 519.97,122.18 520.28,123.03 520.59,123.87 520.9,124.69 521.21,125.51 521.51,126.32 521.82,127.11 522.13,127.9 522.44,128.67 522.75,129.43 523.06,130.17 523.37,130.9 523.68,131.62 523.98,132.32 524.29,133.01 524.6,133.71 524.91,134.41 525.22,135.11 525.53,135.8 525.84,136.49 526.14,137.17 526.45,137.85 526.76,138.52 527.07,139.17 527.38,139.82 527.69,140.45 528,141.07 528.31,141.67 528.61,142.25 528.92,142.81 529.23,143.35 529.54,143.87 529.85,144.37 530.16,144.83 530.47,145.27 530.77,145.68 531.08,146.06 531.39,146.42 531.7,146.78 532.01,147.13 532.32,147.47 532.63,147.8 532.94,148.11 533.24,148.42 533.55,148.71 533.86,148.98 534.17,149.23 534.48,149.45 534.79,149.66 535.1,149.84 535.4,149.99 535.71,150.11 536.02,150.21 536.33,150.32 536.64,150.41 536.95,150.51 537.26,150.6 537.57,150.68 537.87,150.76 538.18,150.83 538.49,150.89 538.8,150.94 539.11,150.98 539.42,151.01 539.73,151.02 540.03,151.03 540.34,151.03 540.65,151.03 540.96,151.03 541.27,151.02 541.58,151.02 541.89,151.01 542.2,151 542.5,150.99 542.81,150.98 543.12,150.97 543.43,150.95 543.74,150.94 544.05,150.92 544.36,150.9 544.66,150.88 544.97,150.86 545.28,150.84 545.59,150.82 545.9,150.8 546.21,150.77 546.52,150.75 546.83,150.72 547.13,150.69 547.44,150.66 547.75,150.63 548.06,150.61 548.37,150.58 548.68,150.55 548.99,150.51 549.29,150.48 549.6,150.45 549.91,150.42 550.22,150.39 550.53,150.36 550.84,150.33 551.15,150.29 551.46,150.26 551.76,150.23 552.07,150.2 552.38,150.17 552.69,150.14 553,150.11 553.31,150.08 553.62,150.05 553.92,150.02 554.23,149.99 554.54,149.96 554.85,149.94 555.16,149.91 555.47,149.88 555.78,149.86 556.09,149.83 556.39,149.81 556.7,149.79 557.01,149.77 557.32,149.75 557.63,149.73 557.94,149.71 558.25,149.7 558.55,149.68 558.86,149.67 559.17,149.65 559.48,149.64 559.79,149.63 560.1,149.62 560.41,149.61 560.72,149.61 561.02,149.6 561.33,149.6 561.64,149.59 561.95,149.59 562.26,149.59 562.57,149.59 562.88,149.59 563.18,149.6 563.49,149.6 563.8,149.63 564.11,149.65 564.42,149.67 564.73,149.7 565.04,149.72 565.35,149.75 565.65,149.77 565.96,149.79 566.27,149.82 566.58,149.84 566.89,149.86 567.2,149.88 567.51,149.91 567.81,149.93 568.12,149.95 568.43,149.97 568.74,149.99 569.05,150.02 569.36,150.04 569.67,150.06 569.98,150.08 570.28,150.1 570.59,150.12 570.9,150.14 571.21,150.16 571.52,150.18 571.83,150.2 572.14,150.22 572.44,150.24 572.75,150.26 573.06,150.27 573.37,150.29 573.68,150.31 573.99,150.33 574.3,150.35 574.61,150.36 574.91,150.38 575.22,150.4 575.53,150.41 575.84,150.43 576.15,150.45 576.46,150.46 576.77,150.48 577.07,150.49 577.38,150.51 577.69,150.52 578,150.54 578.31,150.55 578.62,150.56 578.93,150.58 579.24,150.59 579.54,150.61 579.85,150.62 580.16,150.63 580.47,150.64 580.78,150.66 581.09,150.67 581.4,150.68 581.7,150.69 582.01,150.7 582.32,150.71 582.63,150.73 582.94,150.74 583.25,150.75 583.56,150.76 583.87,150.77 584.17,150.78 584.48,150.79 584.79,150.8 585.1,150.81 585.41,150.82 585.72,150.82 586.03,150.83 586.33,150.84 586.64,150.85 586.95,150.86 587.26,150.87 587.57,150.87 587.88,150.88 588.19,150.89 588.5,150.9 588.8,150.9 589.11,150.91 589.42,150.92 589.73,150.92 590.04,150.93 590.35,150.94 590.66,150.94 590.96,150.95 591.27,150.95 591.58,150.96 591.89,150.96 592.2,150.97 592.51,150.98 592.82,150.98 593.13,150.98 593.43,150.99 593.74,150.99 594.05,151 594.36,151 594.67,151.01 594.98,151.01 595.29,151.02 595.59,151.02 595.9,151.02 596.21,151.03 596.52,151.03 596.83,151.03 597.14,151.04 597.45,151.04 597.76,151.04 598.06,151.04 598.37,151.05 598.68,151.05 598.99,151.05 599.3,151.06 599.61,151.06 599.92,151.06 600.22,151.06 600.53,151.06 600.84,151.07 601.15,151.07 601.46,151.07 601.77,151.07 602.08,151.07 602.39,151.08 602.69,151.08 603,151.08 603.31,151.08 603.62,151.08 603.93,151.08 604.24,151.08 604.55,151.09 604.85,151.09 605.16,151.09 605.47,151.09 605.78,151.09 606.09,151.09 606.4,151.09 606.71,151.09 607.02,151.09 607.32,151.09 607.63,151.09 607.94,151.09 608.25,151.1 608.56,151.1 608.87,151.1 609.18,151.1 609.48,151.1 609.79,151.1 610.1,151.1 610.41,151.1 610.72,151.1 611.03,151.1 611.34,151.1 611.65,151.1 611.95,151.1 612.26,151.1 612.57,151.1 612.88,151.1 613.19,151.1 613.5,151.1 613.81,151.1 614.11,151.1 614.42,151.1 614.73,151.1 615.04,151.1 615.35,151.1 615.66,151.1 615.97,151.1 616.28,151.1 616.58,151.1 616.89,151.1 617.2,151.1 617.51,151.1 617.82,151.1 618.13,151.1 618.44,151.1 618.74,151.1 619.05,151.1 619.36,151.1 619.67,151.09 619.98,151.09 620.29,151.09 620.6,151.09 620.91,151.09 621.21,151.09 621.52,151.09 621.83,151.09 622.14,151.09 622.45,151.09 622.76,151.09 623.07,151.09 623.37,151.09 623.68,151.09 623.99,151.09 624.3,151.09 624.61,151.09 624.92,151.09 625.23,151.09 625.54,151.09 625.84,151.09 626.15,151.08 626.46,151.08 626.77,151.08 627.08,151.08 627.39,151.08 627.7,151.08 628,151.08 628.31,151.08 628.62,151.08 628.93,151.08 629.24,151.08 629.55,151.08 629.86,151.08 630.17,151.08 630.47,151.08 630.78,151.08 631.09,151.08 631.4,151.08 631.71,151.08 632.02,151.08 632.33,151.08 632.63,151.08 632.94,151.08 633.25,151.08 633.56,151.08 633.87,151.08 634.18,151.08 634.49,151.08 634.8,151.08 635.1,151.08 635.41,151.08 635.72,151.08 636.03,151.08 636.34,151.08 636.65,151.08 636.96,151.08 637.26,151.08 637.57,151.08 637.88,151.08 638.19,151.08 638.5,151.08 638.81,151.08 639.12,151.08 639.43,151.08 639.73,151.08 640.04,151.08 640.35,151.08 640.66,151.08 640.97,151.08 641.28,151.08 641.59,151.08 641.89,151.08 642.2,151.08 642.51,151.08 642.82,151.08 643.13,151.08 643.44,151.08 643.75,151.08 644.06,151.08 644.36,151.08 644.67,151.08 644.98,151.08 645.29,151.08 645.6,151.08 645.91,151.08 646.22,151.08 646.52,151.08 646.83,151.08 647.14,151.08 647.45,151.08 647.76,151.08 648.07,151.08 648.38,151.08 648.69,151.08 648.99,151.08 649.3,151.08 649.61,151.08 649.92,151.09 650.23,151.09 650.54,151.09 650.85,151.09 651.15,151.09 651.46,151.09 651.77,151.09 652.08,151.09 652.39,151.09 652.7,151.09 653.01,151.09 653.32,151.09 653.62,151.09 653.93,151.09 654.24,151.09 654.55,151.09 654.86,151.09 655.17,151.09 655.48,151.09 655.78,151.09 656.09,151.09 656.4,151.09 656.71,151.09 657.02,151.09 657.33,151.09 657.64,151.09 657.95,151.09 658.25,151.09 658.56,151.09 658.87,151.09 659.18,151.09 659.49,151.09 659.8,151.09 660.11,151.09 660.41,151.09 660.72,151.09 661.03,151.09 661.34,151.1 661.65,151.1 661.96,151.1 662.27,151.1 662.58,151.1 662.88,151.1 663.19,151.1 663.5,151.1 663.81,151.1 664.12,151.1 664.43,151.1 664.74,151.1 665.04,151.1 665.35,151.1 665.66,151.1 665.97,151.1 666.28,151.1 666.59,151.1 666.9,151.1 667.21,151.1 667.51,151.1 667.82,151.1 668.13,151.1 668.44,151.1 668.75,151.1 669.06,151.1 669.37,151.1 669.67,151.1 669.98,151.1 670.29,151.1 670.6,151.1 670.91,151.1 671.22,151.1 671.53,151.1 671.84,151.1 672.14,151.1 672.45,151.1 672.76,151.1 673.07,151.1 673.38,151.1 673.69,151.1 674,151.1 674.3,151.1 674.61,151.1 674.92,151.1 675.23,151.1 675.54,151.1 675.85,151.1 676.16,151.1 676.47,151.1 676.77,151.1 677.08,151.1 677.39,151.1 677.7,151.1" fill="none" stroke="#2e5486" stroke-width="1.3"/>
<polyline points="492.5,15 492.81,16.04 493.12,17.1 493.43,18.2 493.73,19.33 494.04,20.48 494.35,21.66 494.66,22.87 494.97,24.1 495.28,25.36 495.59,26.63 495.9,27.93 496.2,29.27 496.51,30.65 496.82,32.08 497.13,33.55 497.44,35.04 497.75,36.55 498.06,38.06 498.36,39.58 498.67,41.08 498.98,42.57 499.29,44.09 499.6,45.63 499.91,47.17 500.22,48.72 500.53,50.27 500.83,51.8 501.14,53.31 501.45,54.79 501.76,56.23 502.07,57.62 502.38,58.96 502.69,60.26 502.99,61.54 503.3,62.81 503.61,64.09 503.92,65.37 504.23,66.69 504.54,68.04 504.85,69.46 505.16,70.93 505.46,72.46 505.77,74.04 506.08,75.65 506.39,77.29 506.7,78.96 507.01,80.63 507.32,82.31 507.62,83.98 507.93,85.64 508.24,87.27 508.55,88.87 508.86,90.42 509.17,91.93 509.48,93.38 509.79,94.76 510.09,96.12 510.4,97.45 510.71,98.75 511.02,100.03 511.33,101.28 511.64,102.52 511.95,103.74 512.25,104.95 512.56,106.14 512.87,107.32 513.18,108.5 513.49,109.66 513.8,110.82 514.11,111.97 514.42,113.13 514.72,114.29 515.03,115.45 515.34,116.61 515.65,117.77 515.96,118.92 516.27,120.07 516.58,121.2 516.88,122.32 517.19,123.42 517.5,124.51 517.81,125.56 518.12,126.6 518.43,127.6 518.74,128.57 519.05,129.51 519.35,130.41 519.66,131.29 519.97,132.15 520.28,133 520.59,133.84 520.9,134.65 521.21,135.45 521.51,136.23 521.82,137 522.13,137.75 522.44,138.46 522.75,139.15 523.06,139.82 523.37,140.48 523.68,141.12 523.98,141.74 524.29,142.33 524.6,142.9 524.91,143.45 525.22,143.98 525.53,144.49 525.84,144.99 526.14,145.49 526.45,145.98 526.76,146.48 527.07,146.97 527.38,147.45 527.69,147.93 528,148.4 528.31,148.87 528.61,149.33 528.92,149.78 529.23,150.23 529.54,150.67 529.85,150.66 530.16,150.64 530.47,150.61 530.77,150.55 531.08,150.49 531.39,150.41 531.7,150.31 532.01,150.2 532.32,150.08 532.63,149.94 532.94,149.79 533.24,149.63 533.55,149.45 533.86,149.26 534.17,149.06 534.48,148.85 534.79,148.62 535.1,148.38 535.4,148.14 535.71,147.88 536.02,147.61 536.33,147.33 536.64,147.05 536.95,146.75 537.26,146.45 537.57,146.14 537.87,145.83 538.18,145.5 538.49,145.17 538.8,144.84 539.11,144.5 539.42,144.16 539.73,143.81 540.03,143.46 540.34,143.11 540.65,142.75 540.96,142.4 541.27,142.04 541.58,141.68 541.89,141.32 542.2,140.97 542.5,140.61 542.81,140.26 543.12,139.91 543.43,139.56 543.74,139.22 544.05,138.88 544.36,138.54 544.66,138.21 544.97,137.89 545.28,137.57 545.59,137.26 545.9,136.96 546.21,136.66 546.52,136.37 546.83,136.09 547.13,135.82 547.44,135.56 547.75,135.31 548.06,135.07 548.37,134.84 548.68,134.62 548.99,134.41 549.29,134.21 549.6,134.03 549.91,133.86 550.22,133.7 550.53,133.55 550.84,133.41 551.15,133.29 551.46,133.18 551.76,133.09 552.07,133.01 552.38,132.94 552.69,132.88 553,132.84 553.31,132.82 553.62,132.8 553.92,132.8 554.23,132.82 554.54,132.98 554.85,133.15 555.16,133.32 555.47,133.5 555.78,133.68 556.09,133.87 556.39,134.06 556.7,134.25 557.01,134.45 557.32,134.65 557.63,134.85 557.94,135.06 558.25,135.27 558.55,135.49 558.86,135.71 559.17,135.93 559.48,136.15 559.79,136.37 560.1,136.6 560.41,136.83 560.72,137.06 561.02,137.29 561.33,137.52 561.64,137.76 561.95,137.99 562.26,138.23 562.57,138.47 562.88,138.71 563.18,138.95 563.49,139.18 563.8,139.42 564.11,139.66 564.42,139.9 564.73,140.14 565.04,140.38 565.35,140.62 565.65,140.85 565.96,141.09 566.27,141.32 566.58,141.56 566.89,141.79 567.2,142.02 567.51,142.25 567.81,142.48 568.12,142.71 568.43,142.93 568.74,143.15 569.05,143.37 569.36,143.59 569.67,143.81 569.98,144.02 570.28,144.24 570.59,144.44 570.9,144.65 571.21,144.85 571.52,145.06 571.83,145.25 572.14,145.45 572.44,145.64 572.75,145.83 573.06,146.02 573.37,146.2 573.68,146.38 573.99,146.55 574.3,146.73 574.61,146.9 574.91,147.06 575.22,147.23 575.53,147.38 575.84,147.54 576.15,147.69 576.46,147.84 576.77,147.98 577.07,148.13 577.38,148.26 577.69,148.4 578,148.53 578.31,148.65 578.62,148.78 578.93,148.89 579.24,149.01 579.54,149.12 579.85,149.23 580.16,149.33 580.47,149.43 580.78,149.53 581.09,149.62 581.4,149.71 581.7,149.8 582.01,149.88 582.32,149.96 582.63,150.03 582.94,150.1 583.25,150.17 583.56,150.23 583.87,150.3 584.17,150.35 584.48,150.41 584.79,150.46 585.1,150.5 585.41,150.55 585.72,150.59 586.03,150.63 586.33,150.66 586.64,150.69 586.95,150.72 587.26,150.75 587.57,150.77 587.88,150.79 588.19,150.81 588.5,150.82 588.8,150.84 589.11,150.84 589.42,150.85 589.73,150.86 590.04,150.86 590.35,150.86 590.66,150.85 590.96,150.84 591.27,150.83 591.58,150.81 591.89,150.79 592.2,150.76 592.51,150.73 592.82,150.7 593.13,150.66 593.43,150.62 593.74,150.58 594.05,150.54 594.36,150.49 594.67,150.44 594.98,150.39 595.29,150.33 595.59,150.27 595.9,150.22 596.21,150.16 596.52,150.09 596.83,150.03 597.14,149.97 597.45,149.9 597.76,149.83 598.06,149.76 598.37,149.7 598.68,149.63 598.99,149.56 599.3,149.49 599.61,149.42 599.92,149.35 600.22,149.28 600.53,149.21 600.84,149.14 601.15,149.07 601.46,149 601.77,148.94 602.08,148.87 602.39,148.8 602.69,148.74 603,148.68 603.31,148.62 603.62,148.56 603.93,148.5 604.24,148.44 604.55,148.38 604.85,148.33 605.16,148.28 605.47,148.23 605.78,148.18 606.09,148.13 606.4,148.09 606.71,148.05 607.02,148.01 607.32,147.97 607.63,147.93 607.94,147.9 608.25,147.87 608.56,147.84 608.87,147.81 609.18,147.79 609.48,147.77 609.79,147.75 610.1,147.73 610.41,147.72 610.72,147.71 611.03,147.7 611.34,147.69 611.65,147.69 611.95,147.69 612.26,147.69 612.57,147.69 612.88,147.69 613.19,147.7 613.5,147.71 613.81,147.72 614.11,147.74 614.42,147.75 614.73,147.77 615.04,147.79 615.35,147.82 615.66,147.84 615.97,147.87 616.28,147.89 616.58,147.92 616.89,147.94 617.2,147.97 617.51,148 617.82,148.03 618.13,148.05 618.44,148.08 618.74,148.11 619.05,148.14 619.36,148.17 619.67,148.2 619.98,148.23 620.29,148.27 620.6,148.3 620.91,148.33 621.21,148.36 621.52,148.4 621.83,148.43 622.14,148.46 622.45,148.5 622.76,148.53 623.07,148.57 623.37,148.6 623.68,148.64 623.99,148.67 624.3,148.71 624.61,148.74 624.92,148.78 625.23,148.81 625.54,148.85 625.84,148.89 626.15,148.92 626.46,148.96 626.77,148.99 627.08,149.03 627.39,149.07 627.7,149.1 628,149.14 628.31,149.17 628.62,149.21 628.93,149.25 629.24,149.28 629.55,149.32 629.86,149.35 630.17,149.39 630.47,149.42 630.78,149.46 631.09,149.49 631.4,149.53 631.71,149.56 632.02,149.59 632.33,149.63 632.63,149.66 632.94,149.7 633.25,149.73 633.56,149.76 633.87,149.79 634.18,149.82 634.49,149.86 634.8,149.89 635.1,149.92 635.41,149.95 635.72,149.98 636.03,150.01 636.34,150.04 636.65,150.07 636.96,150.1 637.26,150.12 637.57,150.15 637.88,150.18 638.19,150.21 638.5,150.23 638.81,150.26 639.12,150.29 639.43,150.31 639.73,150.34 640.04,150.36 640.35,150.38 640.66,150.41 640.97,150.43 641.28,150.45 641.59,150.47 641.89,150.5 642.2,150.52 642.51,150.54 642.82,150.56 643.13,150.58 643.44,150.6 643.75,150.61 644.06,150.63 644.36,150.65 644.67,150.67 644.98,150.68 645.29,150.7 645.6,150.71 645.91,150.73 646.22,150.74 646.52,150.76 646.83,150.77 647.14,150.79 647.45,150.8 647.76,150.81 648.07,150.82 648.38,150.83 648.69,150.84 648.99,150.85 649.3,150.86 649.61,150.87 649.92,150.88 650.23,150.89 650.54,150.9 650.85,150.91 651.15,150.91 651.46,150.92 651.77,150.93 652.08,150.93 652.39,150.94 652.7,150.94 653.01,150.95 653.32,150.95 653.62,150.96 653.93,150.96 654.24,150.97 654.55,150.97 654.86,150.97 655.17,150.97 655.48,150.97 655.78,150.98 656.09,150.98 656.4,150.98 656.71,150.98 657.02,150.98 657.33,150.98 657.64,150.98 657.95,150.97 658.25,150.97 658.56,150.97 658.87,150.96 659.18,150.96 659.49,150.95 659.8,150.94 660.11,150.94 660.41,150.93 660.72,150.92 661.03,150.91 661.34,150.9 661.65,150.89 661.96,150.88 662.27,150.87 662.58,150.86 662.88,150.85 663.19,150.84 663.5,150.82 663.81,150.81 664.12,150.8 664.43,150.78 664.74,150.77 665.04,150.76 665.35,150.74 665.66,150.73 665.97,150.72 666.28,150.7 666.59,150.69 666.9,150.68 667.21,150.66 667.51,150.65 667.82,150.64 668.13,150.62 668.44,150.61 668.75,150.6 669.06,150.59 669.37,150.57 669.67,150.56 669.98,150.55 670.29,150.54 670.6,150.53 670.91,150.52 671.22,150.51 671.53,150.5 671.84,150.49 672.14,150.48 672.45,150.47 672.76,150.46 673.07,150.45 673.38,150.45 673.69,150.44 674,150.43 674.3,150.43 674.61,150.42 674.92,150.42 675.23,150.41 675.54,150.41 675.85,150.41 676.16,150.4 676.47,150.4 676.77,150.4 677.08,150.4 677.39,150.4 677.7,150.4" fill="none" stroke="#3db68e" stroke-width="1.3"/>
<polyline points="492.5,15 492.81,16.04 493.12,17.1 493.43,18.2 493.73,19.33 494.04,20.48 494.35,21.66 494.66,22.87 494.97,24.1 495.28,25.36 495.59,26.63 495.9,27.93 496.2,29.27 496.51,30.65 496.82,32.08 497.13,33.55 497.44,35.04 497.75,36.55 498.06,38.06 498.36,39.58 498.67,41.08 498.98,42.57 499.29,44.09 499.6,45.63 499.91,47.17 500.22,48.72 500.53,50.27 500.83,51.8 501.14,53.31 501.45,54.79 501.76,56.23 502.07,57.62 502.38,58.96 502.69,60.26 502.99,61.54 503.3,62.81 503.61,64.09 503.92,65.37 504.23,66.69 504.54,68.04 504.85,69.46 505.16,70.93 505.46,72.46 505.77,74.04 506.08,75.65 506.39,77.29 506.7,78.96 507.01,80.63 507.32,82.31 507.62,83.98 507.93,85.64 508.24,87.27 508.55,88.87 508.86,90.42 509.17,91.93 509.48,93.38 509.79,94.76 510.09,96.12 510.4,97.45 510.71,98.75 511.02,100.03 511.33,101.28 511.64,102.52 511.95,103.74 512.25,104.95 512.56,106.14 512.87,107.32 513.18,108.5 513.49,109.66 513.8,110.82 514.11,111.97 514.42,113.13 514.72,114.29 515.03,115.45 515.34,116.61 515.65,117.77 515.96,118.92 516.27,120.07 516.58,121.2 516.88,122.32 517.19,123.42 517.5,124.51 517.81,125.56 518.12,126.6 518.43,127.6 518.74,128.57 519.05,129.51 519.35,130.41 519.66,131.29 519.97,132.15 520.28,133 520.59,133.84 520.9,134.65 521.21,135.45 521.51,136.23 521.82,137 522.13,137.75 522.44,138.47 522.75,139.19 523.06,139.88 523.37,140.55 523.68,141.21 523.98,141.85 524.29,142.46 524.6,143.03 524.91,143.59 525.22,144.13 525.53,144.65 525.84,145.17 526.14,145.68 526.45,146.21 526.76,146.74 527.07,147.29 527.38,147.83 527.69,148.38 528,148.92 528.31,149.47 528.61,150.01 528.92,150.56 529.23,151.1 529.54,151.1 529.85,151.08 530.16,151.06 530.47,151.03 530.77,150.99 531.08,150.94 531.39,150.89 531.7,150.83 532.01,150.75 532.32,150.67 532.63,150.59 532.94,150.49 533.24,150.39 533.55,150.28 533.86,150.16 534.17,150.04 534.48,149.91 534.79,149.77 535.1,149.63 535.4,149.48 535.71,149.32 536.02,149.16 536.33,149 536.64,148.83 536.95,148.65 537.26,148.47 537.57,148.29 537.87,148.1 538.18,147.91 538.49,147.72 538.8,147.52 539.11,147.32 539.42,147.12 539.73,146.91 540.03,146.71 540.34,146.5 540.65,146.29 540.96,146.09 541.27,145.88 541.58,145.67 541.89,145.46 542.2,145.25 542.5,145.05 542.81,144.84 543.12,144.64 543.43,144.44 543.74,144.24 544.05,144.04 544.36,143.84 544.66,143.65 544.97,143.47 545.28,143.28 545.59,143.1 545.9,142.93 546.21,142.75 546.52,142.59 546.83,142.43 547.13,142.27 547.44,142.12 547.75,141.97 548.06,141.83 548.37,141.7 548.68,141.57 548.99,141.45 549.29,141.34 549.6,141.23 549.91,141.13 550.22,141.04 550.53,140.96 550.84,140.88 551.15,140.81 551.46,140.75 551.76,140.69 552.07,140.64 552.38,140.6 552.69,140.57 553,140.55 553.31,140.53 553.62,140.53 553.92,140.53 554.23,140.53 554.54,140.67 554.85,140.81 555.16,140.96 555.47,141.1 555.78,141.24 556.09,141.39 556.39,141.53 556.7,141.68 557.01,141.83 557.32,141.97 557.63,142.12 557.94,142.27 558.25,142.42 558.55,142.57 558.86,142.72 559.17,142.87 559.48,143.02 559.79,143.17 560.1,143.31 560.41,143.46 560.72,143.61 561.02,143.76 561.33,143.91 561.64,144.05 561.95,144.2 562.26,144.34 562.57,144.49 562.88,144.63 563.18,144.78 563.49,144.92 563.8,145.06 564.11,145.2 564.42,145.34 564.73,145.47 565.04,145.61 565.35,145.74 565.65,145.88 565.96,146.01 566.27,146.14 566.58,146.27 566.89,146.4 567.2,146.53 567.51,146.65 567.81,146.77 568.12,146.9 568.43,147.02 568.74,147.13 569.05,147.25 569.36,147.36 569.67,147.48 569.98,147.59 570.28,147.7 570.59,147.81 570.9,147.91 571.21,148.02 571.52,148.12 571.83,148.22 572.14,148.32 572.44,148.41 572.75,148.51 573.06,148.6 573.37,148.69 573.68,148.78 573.99,148.87 574.3,148.95 574.61,149.04 574.91,149.12 575.22,149.2 575.53,149.27 575.84,149.35 576.15,149.42 576.46,149.5 576.77,149.57 577.07,149.63 577.38,149.7 577.69,149.76 578,149.83 578.31,149.89 578.62,149.95 578.93,150 579.24,150.06 579.54,150.11 579.85,150.16 580.16,150.22 580.47,150.26 580.78,150.31 581.09,150.36 581.4,150.4 581.7,150.44 582.01,150.48 582.32,150.52 582.63,150.56 582.94,150.59 583.25,150.63 583.56,150.66 583.87,150.69 584.17,150.72 584.48,150.75 584.79,150.78 585.1,150.8 585.41,150.83 585.72,150.85 586.03,150.87 586.33,150.89 586.64,150.91 586.95,150.93 587.26,150.95 587.57,150.96 587.88,150.98 588.19,150.99 588.5,151.01 588.8,151.02 589.11,151.03 589.42,151.04 589.73,151.05 590.04,151.05 590.35,151.06 590.66,151.07 590.96,151.07 591.27,151.08 591.58,151.08 591.89,151.08 592.2,151.09 592.51,151.09 592.82,151.09 593.13,151.09 593.43,151.09 593.74,151.09 594.05,151.08 594.36,151.08 594.67,151.07 594.98,151.06 595.29,151.05 595.59,151.04 595.9,151.03 596.21,151.02 596.52,151 596.83,150.99 597.14,150.97 597.45,150.96 597.76,150.94 598.06,150.92 598.37,150.91 598.68,150.89 598.99,150.87 599.3,150.85 599.61,150.83 599.92,150.81 600.22,150.79 600.53,150.77 600.84,150.75 601.15,150.73 601.46,150.71 601.77,150.69 602.08,150.67 602.39,150.65 602.69,150.63 603,150.61 603.31,150.59 603.62,150.57 603.93,150.55 604.24,150.53 604.55,150.52 604.85,150.5 605.16,150.48 605.47,150.47 605.78,150.45 606.09,150.43 606.4,150.42 606.71,150.41 607.02,150.39 607.32,150.38 607.63,150.37 607.94,150.36 608.25,150.35 608.56,150.34 608.87,150.33 609.18,150.32 609.48,150.31 609.79,150.31 610.1,150.3 610.41,150.3 610.72,150.29 611.03,150.29 611.34,150.29 611.65,150.28 611.95,150.28 612.26,150.28 612.57,150.28 612.88,150.28 613.19,150.28 613.5,150.29 613.81,150.29 614.11,150.29 614.42,150.3 614.73,150.3 615.04,150.31 615.35,150.31 615.66,150.32 615.97,150.33 616.28,150.34 616.58,150.34 616.89,150.35 617.2,150.36 617.51,150.37 617.82,150.38 618.13,150.39 618.44,150.39 618.74,150.4 619.05,150.41 619.36,150.42 619.67,150.43 619.98,150.43 620.29,150.44 620.6,150.45 620.91,150.46 621.21,150.47 621.52,150.48 621.83,150.49 622.14,150.49 622.45,150.5 622.76,150.51 623.07,150.52 623.37,150.53 623.68,150.54 623.99,150.55 624.3,150.56 624.61,150.57 624.92,150.58 625.23,150.58 625.54,150.59 625.84,150.6 626.15,150.61 626.46,150.62 626.77,150.63 627.08,150.64 627.39,150.65 627.7,150.66 628,150.66 628.31,150.67 628.62,150.68 628.93,150.69 629.24,150.7 629.55,150.71 629.86,150.72 630.17,150.72 630.47,150.73 630.78,150.74 631.09,150.75 631.4,150.76 631.71,150.77 632.02,150.77 632.33,150.78 632.63,150.79 632.94,150.8 633.25,150.8 633.56,150.81 633.87,150.82 634.18,150.83 634.49,150.83 634.8,150.84 635.1,150.85 635.41,150.86 635.72,150.86 636.03,150.87 636.34,150.88 636.65,150.88 636.96,150.89 637.26,150.9 637.57,150.9 637.88,150.91 638.19,150.91 638.5,150.92 638.81,150.93 639.12,150.93 639.43,150.94 639.73,150.94 640.04,150.95 640.35,150.95 640.66,150.96 640.97,150.96 641.28,150.97 641.59,150.97 641.89,150.98 642.2,150.98 642.51,150.99 642.82,150.99 643.13,151 643.44,151 643.75,151.01 644.06,151.01 644.36,151.01 644.67,151.02 644.98,151.02 645.29,151.03 645.6,151.03 645.91,151.03 646.22,151.04 646.52,151.04 646.83,151.04 647.14,151.05 647.45,151.05 647.76,151.05 648.07,151.05 648.38,151.06 648.69,151.06 648.99,151.06 649.3,151.06 649.61,151.07 649.92,151.07 650.23,151.07 650.54,151.07 650.85,151.07 651.15,151.08 651.46,151.08 651.77,151.08 652.08,151.08 652.39,151.08 652.7,151.08 653.01,151.08 653.32,151.09 653.62,151.09 653.93,151.09 654.24,151.09 654.55,151.09 654.86,151.09 655.17,151.09 655.48,151.09 655.78,151.09 656.09,151.09 656.4,151.09 656.71,151.09 657.02,151.1 657.33,151.1 657.64,151.1 657.95,151.1 658.25,151.1 658.56,151.1 658.87,151.1 659.18,151.1 659.49,151.1 659.8,151.1 660.11,151.1 660.41,151.1 660.72,151.1 661.03,151.09 661.34,151.09 661.65,151.09 661.96,151.09 662.27,151.09 662.58,151.09 662.88,151.09 663.19,151.09 663.5,151.09 663.81,151.09 664.12,151.08 664.43,151.08 664.74,151.08 665.04,151.08 665.35,151.08 665.66,151.08 665.97,151.07 666.28,151.07 666.59,151.07 666.9,151.07 667.21,151.07 667.51,151.07 667.82,151.06 668.13,151.06 668.44,151.06 668.75,151.06 669.06,151.06 669.37,151.06 669.67,151.05 669.98,151.05 670.29,151.05 670.6,151.05 670.91,151.05 671.22,151.04 671.53,151.04 671.84,151.04 672.14,151.04 672.45,151.04 672.76,151.04 673.07,151.04 673.38,151.03 673.69,151.03 674,151.03 674.3,151.03 674.61,151.03 674.92,151.03 675.23,151.03 675.54,151.03 675.85,151.02 676.16,151.02 676.47,151.02 676.77,151.02 677.08,151.02 677.39,151.02 677.7,151.02" fill="none" stroke="#e2486c" stroke-width="1.3"/>
</g>
<rect x="544.0" y="21.3" width="125.79999999999995" height="91.9" fill="#fff"/>
<line x1="544" y1="21.3" x2="544" y2="113.2" stroke="#d9d9d9" stroke-width="1.3"/><line x1="669.8" y1="21.3" x2="669.8" y2="113.2" stroke="#d2d2d2" stroke-width="1.0"/><line x1="544" y1="21.3" x2="669.8" y2="21.3" stroke="#c6c6c6" stroke-width="1.0"/><line x1="543.5" y1="113.2" x2="670.3" y2="113.2" stroke="#a9a9a9" stroke-width="1.0"/><path d="M544 113.2v-1.6M544 21.3v1.6M569.16 113.2v-1.6M569.16 21.3v1.6M594.32 113.2v-1.6M594.32 21.3v1.6M619.48 113.2v-1.6M619.48 21.3v1.6M644.64 113.2v-1.6M644.64 21.3v1.6M669.8 113.2v-1.6M669.8 21.3v1.6M544 21.3h1.6M669.8 21.3h-1.6M544 34.43h1.6M669.8 34.43h-1.6M544 47.56h1.6M669.8 47.56h-1.6M544 60.69h1.6M669.8 60.69h-1.6M544 73.81h1.6M669.8 73.81h-1.6M544 86.94h1.6M669.8 86.94h-1.6M544 100.07h1.6M669.8 100.07h-1.6M544 113.2h1.6M669.8 113.2h-1.6" stroke="#b0b0b0" stroke-width="0.8" fill="none"/>
<text x="544" y="123.8" font-size="8.0" text-anchor="middle" fill="#262626" font-family='"Liberation Sans", sans-serif' >0</text>
<text x="569.16" y="123.8" font-size="8.0" text-anchor="middle" fill="#262626" font-family='"Liberation Sans", sans-serif' >100</text>
<text x="594.32" y="123.8" font-size="8.0" text-anchor="middle" fill="#262626" font-family='"Liberation Sans", sans-serif' >200</text>
<text x="619.48" y="123.8" font-size="8.0" text-anchor="middle" fill="#262626" font-family='"Liberation Sans", sans-serif' >300</text>
<text x="644.64" y="123.8" font-size="8.0" text-anchor="middle" fill="#262626" font-family='"Liberation Sans", sans-serif' >400</text>
<text x="669.8" y="123.8" font-size="8.0" text-anchor="middle" fill="#262626" font-family='"Liberation Sans", sans-serif' >500</text>
<text x="542" y="24.3" font-size="8.2" text-anchor="end" font-family='"Liberation Sans", sans-serif' fill="#262626">10<tspan font-size="5.7" dy="-3.6">0</tspan></text>
<text x="542" y="50.56" font-size="8.2" text-anchor="end" font-family='"Liberation Sans", sans-serif' fill="#262626">10<tspan font-size="5.7" dy="-3.6">-2</tspan></text>
<text x="542" y="76.81" font-size="8.2" text-anchor="end" font-family='"Liberation Sans", sans-serif' fill="#262626">10<tspan font-size="5.7" dy="-3.6">-4</tspan></text>
<text x="542" y="103.07" font-size="8.2" text-anchor="end" font-family='"Liberation Sans", sans-serif' fill="#262626">10<tspan font-size="5.7" dy="-3.6">-6</tspan></text>
<text x="0" y="0" font-size="9.4" text-anchor="middle" fill="#262626" font-family='"Liberation Sans", sans-serif' transform="translate(523.8 66) rotate(-90)">Population</text>
<text x="606.5" y="133" font-size="9" text-anchor="middle" font-family='"Liberation Sans", sans-serif' fill="#262626" font-style="italic">g<tspan font-size="6" dy="2" font-style="normal">a</tspan><tspan dy="-2"> t</tspan></text>
<clipPath id="clipci"><rect x="544.0" y="21.3" width="125.79999999999995" height="91.9"/></clipPath>
<g clip-path="url(#clipci)">
<polyline points="544,21.3 544.13,21.34 544.25,21.39 544.38,21.44 544.5,21.48 544.63,21.53 544.75,21.59 544.88,21.64 545.01,21.69 545.13,21.75 545.26,21.81 545.38,21.87 545.51,21.93 545.64,22 545.76,22.06 545.89,22.14 546.01,22.21 546.14,22.28 546.26,22.36 546.39,22.44 546.52,22.51 546.64,22.59 546.77,22.67 546.89,22.75 547.02,22.84 547.14,22.92 547.27,23.01 547.4,23.1 547.52,23.18 547.65,23.27 547.77,23.36 547.9,23.44 548.03,23.52 548.15,23.61 548.28,23.69 548.4,23.77 548.53,23.85 548.65,23.94 548.78,24.02 548.91,24.12 549.03,24.21 549.16,24.32 549.28,24.43 549.41,24.54 549.54,24.66 549.66,24.79 549.79,24.92 549.91,25.05 550.04,25.19 550.16,25.33 550.29,25.47 550.42,25.62 550.54,25.76 550.67,25.91 550.79,26.05 550.92,26.19 551.04,26.33 551.17,26.47 551.3,26.61 551.42,26.75 551.55,26.89 551.67,27.03 551.8,27.17 551.93,27.32 552.05,27.47 552.18,27.62 552.3,27.77 552.43,27.92 552.55,28.08 552.68,28.24 552.81,28.41 552.93,28.58 553.06,28.75 553.18,28.94 553.31,29.13 553.43,29.32 553.56,29.52 553.69,29.73 553.81,29.94 553.94,30.16 554.06,30.38 554.19,30.61 554.32,30.84 554.44,31.08 554.57,31.31 554.69,31.55 554.82,31.8 554.94,32.04 555.07,32.29 555.2,32.54 555.32,32.8 555.45,33.07 555.57,33.35 555.7,33.63 555.83,33.93 555.95,34.23 556.08,34.54 556.2,34.85 556.33,35.17 556.45,35.5 556.58,35.84 556.71,36.2 556.83,36.56 556.96,36.94 557.08,37.32 557.21,37.71 557.33,38.12 557.46,38.55 557.59,39 557.71,39.48 557.84,40.01 557.96,40.58 558.09,41.22 558.22,41.94 558.34,42.74 558.47,43.66 558.59,44.74 558.72,46.06 558.84,47.75 558.97,50.11 559.1,54.12 559.22,54.04 559.35,53.77 559.47,53.33 559.6,52.77 559.73,52.11 559.85,51.41 559.98,50.67 560.1,49.93 560.23,49.2 560.35,48.48 560.48,47.78 560.61,47.11 560.73,46.46 560.86,45.84 560.98,45.25 561.11,44.68 561.23,44.14 561.36,43.62 561.49,43.12 561.61,42.64 561.74,42.19 561.86,41.76 561.99,41.34 562.12,40.94 562.24,40.55 562.37,40.19 562.49,39.83 562.62,39.5 562.74,39.17 562.87,38.86 563,38.56 563.12,38.27 563.25,37.99 563.37,37.72 563.5,37.46 563.62,37.22 563.75,36.98 563.88,36.75 564,36.53 564.13,36.31 564.25,36.11 564.38,35.91 564.51,35.73 564.63,35.54 564.76,35.37 564.88,35.2 565.01,35.04 565.13,34.89 565.26,34.74 565.39,34.6 565.51,34.46 565.64,34.33 565.76,34.21 565.89,34.09 566.01,33.98 566.14,33.87 566.27,33.77 566.39,33.67 566.52,33.58 566.64,33.49 566.77,33.41 566.9,33.34 567.02,33.27 567.15,33.2 567.27,33.14 567.4,33.08 567.52,33.03 567.65,32.98 567.78,32.93 567.9,32.9 568.03,32.86 568.15,32.83 568.28,32.8 568.41,32.78 568.53,32.77 568.66,32.75 568.78,32.75 568.91,32.74 569.03,32.74 569.16,32.75 569.29,32.8 569.41,32.85 569.54,32.9 569.66,32.96 569.79,33.02 569.91,33.08 570.04,33.15 570.17,33.21 570.29,33.28 570.42,33.35 570.54,33.42 570.67,33.49 570.8,33.57 570.92,33.65 571.05,33.73 571.17,33.81 571.3,33.89 571.42,33.98 571.55,34.07 571.68,34.16 571.8,34.25 571.93,34.35 572.05,34.44 572.18,34.54 572.3,34.64 572.43,34.75 572.56,34.85 572.68,34.96 572.81,35.07 572.93,35.19 573.06,35.3 573.19,35.42 573.31,35.54 573.44,35.66 573.56,35.79 573.69,35.92 573.81,36.05 573.94,36.18 574.07,36.31 574.19,36.45 574.32,36.59 574.44,36.74 574.57,36.88 574.7,37.03 574.82,37.18 574.95,37.34 575.07,37.5 575.2,37.66 575.32,37.82 575.45,37.99 575.58,38.16 575.7,38.33 575.83,38.51 575.95,38.69 576.08,38.87 576.2,39.06 576.33,39.25 576.46,39.44 576.58,39.64 576.71,39.84 576.83,40.04 576.96,40.25 577.09,40.46 577.21,40.68 577.34,40.9 577.46,41.13 577.59,41.36 577.71,41.59 577.84,41.83 577.97,42.07 578.09,42.32 578.22,42.58 578.34,42.84 578.47,43.1 578.6,43.37 578.72,43.64 578.85,43.93 578.97,44.21 579.1,44.5 579.22,44.8 579.35,45.11 579.48,45.42 579.6,45.74 579.73,46.07 579.85,46.4 579.98,46.74 580.1,47.08 580.23,47.44 580.36,47.8 580.48,48.17 580.61,48.55 580.73,48.93 580.86,49.33 580.99,49.73 581.11,50.14 581.24,50.55 581.36,50.97 581.49,51.4 581.61,51.83 581.74,52.27 581.87,52.71 581.99,53.15 582.12,53.59 582.24,54.03 582.37,54.46 582.49,54.88 582.62,55.28 582.75,55.67 582.87,56.03 583,56.35 583.12,56.65 583.25,56.9 583.38,57.11 583.5,57.26 583.63,57.36 583.75,57.4 583.88,57.37 584,57.23 584.13,57.01 584.26,56.71 584.38,56.34 584.51,55.92 584.63,55.48 584.76,55 584.88,54.52 585.01,54.03 585.14,53.54 585.26,53.06 585.39,52.59 585.51,52.12 585.64,51.67 585.77,51.24 585.89,50.82 586.02,50.41 586.14,50.02 586.27,49.64 586.39,49.28 586.52,48.93 586.65,48.59 586.77,48.27 586.9,47.96 587.02,47.67 587.15,47.38 587.28,47.11 587.4,46.84 587.53,46.59 587.65,46.35 587.78,46.12 587.9,45.9 588.03,45.68 588.16,45.48 588.28,45.28 588.41,45.09 588.53,44.91 588.66,44.74 588.78,44.58 588.91,44.42 589.04,44.27 589.16,44.13 589.29,43.99 589.41,43.86 589.54,43.74 589.67,43.62 589.79,43.5 589.92,43.4 590.04,43.3 590.17,43.2 590.29,43.11 590.42,43.03 590.55,42.95 590.67,42.88 590.8,42.81 590.92,42.74 591.05,42.68 591.17,42.63 591.3,42.58 591.43,42.53 591.55,42.49 591.68,42.45 591.8,42.42 591.93,42.39 592.06,42.37 592.18,42.35 592.31,42.34 592.43,42.32 592.56,42.32 592.68,42.31 592.81,42.31 592.94,42.32 593.06,42.33 593.19,42.34 593.31,42.36 593.44,42.38 593.57,42.4 593.69,42.43 593.82,42.46 593.94,42.5 594.07,42.54 594.19,42.58 594.32,42.63 594.45,42.67 594.57,42.71 594.7,42.76 594.82,42.81 594.95,42.86 595.07,42.91 595.2,42.96 595.33,43.02 595.45,43.07 595.58,43.13 595.7,43.19 595.83,43.25 595.96,43.31 596.08,43.38 596.21,43.44 596.33,43.51 596.46,43.57 596.58,43.64 596.71,43.72 596.84,43.79 596.96,43.86 597.09,43.94 597.21,44.01 597.34,44.09 597.47,44.17 597.59,44.26 597.72,44.34 597.84,44.43 597.97,44.51 598.09,44.6 598.22,44.69 598.35,44.78 598.47,44.88 598.6,44.97 598.72,45.07 598.85,45.17 598.97,45.27 599.1,45.37 599.23,45.47 599.35,45.58 599.48,45.68 599.6,45.79 599.73,45.9 599.86,46.02 599.98,46.13 600.11,46.25 600.23,46.36 600.36,46.48 600.48,46.61 600.61,46.73 600.74,46.86 600.86,46.98 600.99,47.11 601.11,47.24 601.24,47.38 601.36,47.51 601.49,47.65 601.62,47.79 601.74,47.93 601.87,48.07 601.99,48.22 602.12,48.36 602.25,48.51 602.37,48.67 602.5,48.82 602.62,48.98 602.75,49.13 602.87,49.3 603,49.46 603.13,49.62 603.25,49.79 603.38,49.96 603.5,50.13 603.63,50.31 603.75,50.48 603.88,50.66 604.01,50.84 604.13,51.03 604.26,51.21 604.38,51.4 604.51,51.6 604.64,51.79 604.76,51.99 604.89,52.18 605.01,52.39 605.14,52.59 605.26,52.8 605.39,53 605.52,53.21 605.64,53.43 605.77,53.64 605.89,53.86 606.02,54.08 606.15,54.3 606.27,54.53 606.4,54.75 606.52,54.98 606.65,55.21 606.77,55.44 606.9,55.68 607.03,55.91 607.15,56.15 607.28,56.38 607.4,56.62 607.53,56.86 607.65,57.09 607.78,57.33 607.91,57.56 608.03,57.8 608.16,58.03 608.28,58.26 608.41,58.49 608.54,58.71 608.66,58.93 608.79,59.15 608.91,59.35 609.04,59.56 609.16,59.75 609.29,59.94 609.42,60.12 609.54,60.29 609.67,60.45 609.79,60.6 609.92,60.74 610.04,60.86 610.17,60.97 610.3,61.07 610.42,61.15 610.55,61.22 610.67,61.28 610.8,61.32 610.93,61.34 611.05,61.35 611.18,61.32 611.3,61.25 611.43,61.14 611.55,61 611.68,60.83 611.81,60.63 611.93,60.41 612.06,60.17 612.18,59.92 612.31,59.66 612.44,59.39 612.56,59.11 612.69,58.83 612.81,58.54 612.94,58.26 613.06,57.98 613.19,57.7 613.32,57.42 613.44,57.15 613.57,56.89 613.69,56.63 613.82,56.38 613.94,56.13 614.07,55.89 614.2,55.66 614.32,55.43 614.45,55.21 614.57,55 614.7,54.79 614.83,54.59 614.95,54.4 615.08,54.22 615.2,54.04 615.33,53.87 615.45,53.7 615.58,53.54 615.71,53.39 615.83,53.25 615.96,53.11 616.08,52.97 616.21,52.84 616.33,52.72 616.46,52.61 616.59,52.5 616.71,52.39 616.84,52.29 616.96,52.2 617.09,52.11 617.22,52.02 617.34,51.95 617.47,51.87 617.59,51.8 617.72,51.74 617.84,51.68 617.97,51.63 618.1,51.58 618.22,51.53 618.35,51.49 618.47,51.46 618.6,51.43 618.73,51.4 618.85,51.38 618.98,51.36 619.1,51.35 619.23,51.34 619.35,51.33 619.48,51.33 619.61,51.33 619.73,51.34 619.86,51.35 619.98,51.37 620.11,51.39 620.23,51.41 620.36,51.44 620.49,51.47 620.61,51.51 620.74,51.55 620.86,51.6 620.99,51.64 621.12,51.69 621.24,51.74 621.37,51.79 621.49,51.85 621.62,51.9 621.74,51.96 621.87,52.01 622,52.07 622.12,52.13 622.25,52.19 622.37,52.25 622.5,52.32 622.62,52.38 622.75,52.45 622.88,52.51 623,52.58 623.13,52.65 623.25,52.73 623.38,52.8 623.51,52.87 623.63,52.95 623.76,53.03 623.88,53.11 624.01,53.19 624.13,53.27 624.26,53.35 624.39,53.43 624.51,53.52 624.64,53.61 624.76,53.7 624.89,53.79 625.02,53.88 625.14,53.97 625.27,54.06 625.39,54.16 625.52,54.26 625.64,54.36 625.77,54.46 625.9,54.56 626.02,54.66 626.15,54.77 626.27,54.87 626.4,54.98 626.52,55.09 626.65,55.2 626.78,55.31 626.9,55.42 627.03,55.54 627.15,55.66 627.28,55.77 627.41,55.89 627.53,56.02 627.66,56.14 627.78,56.26 627.91,56.39 628.03,56.52 628.16,56.65 628.29,56.78 628.41,56.91 628.54,57.04 628.66,57.18 628.79,57.31 628.91,57.45 629.04,57.59 629.17,57.73 629.29,57.88 629.42,58.02 629.54,58.17 629.67,58.32 629.8,58.47 629.92,58.62 630.05,58.77 630.17,58.92 630.3,59.08 630.42,59.24 630.55,59.4 630.68,59.56 630.8,59.72 630.93,59.88 631.05,60.04 631.18,60.21 631.31,60.38 631.43,60.54 631.56,60.71 631.68,60.88 631.81,61.06 631.93,61.23 632.06,61.4 632.19,61.58 632.31,61.75 632.44,61.93 632.56,62.11 632.69,62.28 632.81,62.46 632.94,62.64 633.07,62.82 633.19,63 633.32,63.17 633.44,63.35 633.57,63.53 633.7,63.71 633.82,63.88 633.95,64.06 634.07,64.23 634.2,64.4 634.32,64.58 634.45,64.74 634.58,64.91 634.7,65.08 634.83,65.24 634.95,65.4 635.08,65.55 635.2,65.7 635.33,65.85 635.46,65.99 635.58,66.13 635.71,66.26 635.83,66.39 635.96,66.52 636.09,66.63 636.21,66.75 636.34,66.85 636.46,66.95 636.59,67.04 636.71,67.13 636.84,67.2 636.97,67.27 637.09,67.34 637.22,67.39 637.34,67.44 637.47,67.48 637.6,67.51 637.72,67.55 637.85,67.57 637.97,67.56 638.1,67.54 638.22,67.5 638.35,67.44 638.48,67.36 638.6,67.27 638.73,67.16 638.85,67.04 638.98,66.91 639.1,66.77 639.23,66.63 639.36,66.47 639.48,66.31 639.61,66.14 639.73,65.97 639.86,65.8 639.99,65.63 640.11,65.45 640.24,65.28 640.36,65.1 640.49,64.93 640.61,64.76 640.74,64.59 640.87,64.42 640.99,64.26 641.12,64.1 641.24,63.94 641.37,63.79 641.5,63.64 641.62,63.49 641.75,63.35 641.87,63.21 642,63.08 642.12,62.95 642.25,62.82 642.38,62.7 642.5,62.58 642.63,62.47 642.75,62.36 642.88,62.26 643,62.16 643.13,62.06 643.26,61.97 643.38,61.88 643.51,61.8 643.63,61.72 643.76,61.65 643.89,61.58 644.01,61.51 644.14,61.45 644.26,61.4 644.39,61.34 644.51,61.29 644.64,61.25 644.77,61.21 644.89,61.17 645.02,61.14 645.14,61.11 645.27,61.08 645.39,61.06 645.52,61.05 645.65,61.03 645.77,61.02 645.9,61.02 646.02,61.01 646.15,61.01 646.28,61.02 646.4,61.03 646.53,61.04 646.65,61.06 646.78,61.08 646.9,61.1 647.03,61.13 647.16,61.16 647.28,61.19 647.41,61.23 647.53,61.27 647.66,61.32 647.78,61.37 647.91,61.42 648.04,61.47 648.16,61.52 648.29,61.57 648.41,61.63 648.54,61.69 648.67,61.74 648.79,61.8 648.92,61.86 649.04,61.92 649.17,61.99 649.29,62.05 649.42,62.12 649.55,62.18 649.67,62.25 649.8,62.32 649.92,62.39 650.05,62.46 650.18,62.54 650.3,62.61 650.43,62.69 650.55,62.77 650.68,62.85 650.8,62.93 650.93,63.01 651.06,63.09 651.18,63.18 651.31,63.26 651.43,63.35 651.56,63.44 651.68,63.53 651.81,63.62 651.94,63.72 652.06,63.81 652.19,63.91 652.31,64.01 652.44,64.11 652.57,64.21 652.69,64.31 652.82,64.41 652.94,64.52 653.07,64.62 653.19,64.73 653.32,64.84 653.45,64.95 653.57,65.07 653.7,65.18 653.82,65.3 653.95,65.41 654.07,65.53 654.2,65.65 654.33,65.78 654.45,65.9 654.58,66.02 654.7,66.15 654.83,66.28 654.96,66.41 655.08,66.54 655.21,66.67 655.33,66.81 655.46,66.95 655.58,67.08 655.71,67.22 655.84,67.37 655.96,67.51 656.09,67.65 656.21,67.8 656.34,67.95 656.47,68.1 656.59,68.25 656.72,68.4 656.84,68.56 656.97,68.71 657.09,68.87 657.22,69.03 657.35,69.19 657.47,69.35 657.6,69.52 657.72,69.68 657.85,69.85 657.97,70.02 658.1,70.19 658.23,70.36 658.35,70.53 658.48,70.71 658.6,70.88 658.73,71.06 658.86,71.24 658.98,71.42 659.11,71.6 659.23,71.78 659.36,71.96 659.48,72.14 659.61,72.32 659.74,72.51 659.86,72.69 659.99,72.88 660.11,73.06 660.24,73.25 660.37,73.43 660.49,73.62 660.62,73.8 660.74,73.99 660.87,74.17 660.99,74.35 661.12,74.53 661.25,74.71 661.37,74.89 661.5,75.06 661.62,75.23 661.75,75.4 661.87,75.57 662,75.73 662.13,75.9 662.25,76.05 662.38,76.2 662.5,76.35 662.63,76.49 662.76,76.63 662.88,76.76 663.01,76.89 663.13,77 663.26,77.12 663.38,77.22 663.51,77.32 663.64,77.41 663.76,77.5 663.89,77.57 664.01,77.64 664.14,77.7 664.26,77.75 664.39,77.75 664.52,77.74 664.64,77.72 664.77,77.69 664.89,77.66 665.02,77.62 665.15,77.57 665.27,77.52 665.4,77.46 665.52,77.4 665.65,77.33 665.77,77.26 665.9,77.18 666.03,77.1 666.15,77.02 666.28,76.93 666.4,76.84 666.53,76.75 666.65,76.65 666.78,76.56 666.91,76.46 667.03,76.36 667.16,76.26 667.28,76.16 667.41,76.06 667.54,75.96 667.66,75.85 667.79,75.75 667.91,75.65 668.04,75.55 668.16,75.45 668.29,75.35 668.42,75.25 668.54,75.15 668.67,75.05 668.79,74.95 668.92,74.85 669.05,74.76 669.17,74.67 669.3,74.57 669.42,74.48 669.55,74.39 669.67,74.3 669.8,74.21" fill="none" stroke="#3db68e" stroke-width="1.3"/>
<polyline points="544,21.3 544.13,21.34 544.25,21.39 544.38,21.44 544.5,21.48 544.63,21.53 544.75,21.59 544.88,21.64 545.01,21.69 545.13,21.75 545.26,21.81 545.38,21.87 545.51,21.93 545.64,22 545.76,22.06 545.89,22.14 546.01,22.21 546.14,22.28 546.26,22.36 546.39,22.44 546.52,22.51 546.64,22.59 546.77,22.67 546.89,22.75 547.02,22.84 547.14,22.92 547.27,23.01 547.4,23.1 547.52,23.18 547.65,23.27 547.77,23.36 547.9,23.44 548.03,23.52 548.15,23.61 548.28,23.69 548.4,23.77 548.53,23.85 548.65,23.94 548.78,24.02 548.91,24.12 549.03,24.21 549.16,24.32 549.28,24.43 549.41,24.54 549.54,24.66 549.66,24.79 549.79,24.92 549.91,25.05 550.04,25.19 550.16,25.33 550.29,25.47 550.42,25.62 550.54,25.76 550.67,25.91 550.79,26.05 550.92,26.19 551.04,26.33 551.17,26.47 551.3,26.61 551.42,26.75 551.55,26.89 551.67,27.03 551.8,27.17 551.93,27.32 552.05,27.47 552.18,27.62 552.3,27.77 552.43,27.92 552.55,28.08 552.68,28.24 552.81,28.41 552.93,28.58 553.06,28.75 553.18,28.94 553.31,29.13 553.43,29.32 553.56,29.52 553.69,29.73 553.81,29.94 553.94,30.16 554.06,30.38 554.19,30.61 554.32,30.84 554.44,31.08 554.57,31.31 554.69,31.55 554.82,31.8 554.94,32.04 555.07,32.29 555.2,32.54 555.32,32.8 555.45,33.07 555.57,33.35 555.7,33.63 555.83,33.93 555.95,34.23 556.08,34.54 556.2,34.86 556.33,35.19 556.45,35.53 556.58,35.88 556.71,36.25 556.83,36.63 556.96,37.02 557.08,37.41 557.21,37.82 557.33,38.24 557.46,38.69 557.59,39.16 557.71,39.68 557.84,40.26 557.96,40.92 558.09,41.69 558.22,42.57 558.34,43.6 558.47,44.88 558.59,46.52 558.72,48.83 558.84,52.78 558.97,95.48 559.1,79.92 559.22,72.31 559.35,67.75 559.47,64.51 559.6,61.98 559.73,59.92 559.85,58.18 559.98,56.68 560.1,55.36 560.23,54.18 560.35,53.11 560.48,52.14 560.61,51.26 560.73,50.44 560.86,49.68 560.98,48.97 561.11,48.31 561.23,47.69 561.36,47.11 561.49,46.56 561.61,46.04 561.74,45.55 561.86,45.08 561.99,44.63 562.12,44.21 562.24,43.81 562.37,43.42 562.49,43.05 562.62,42.7 562.74,42.36 562.87,42.04 563,41.73 563.12,41.44 563.25,41.15 563.37,40.88 563.5,40.62 563.62,40.36 563.75,40.12 563.88,39.89 564,39.67 564.13,39.45 564.25,39.25 564.38,39.05 564.51,38.86 564.63,38.67 564.76,38.5 564.88,38.33 565.01,38.17 565.13,38.02 565.26,37.87 565.39,37.72 565.51,37.59 565.64,37.46 565.76,37.34 565.89,37.22 566.01,37.1 566.14,37 566.27,36.9 566.39,36.8 566.52,36.71 566.64,36.62 566.77,36.54 566.9,36.46 567.02,36.39 567.15,36.33 567.27,36.26 567.4,36.21 567.52,36.15 567.65,36.1 567.78,36.06 567.9,36.02 568.03,35.99 568.15,35.96 568.28,35.93 568.41,35.91 568.53,35.89 568.66,35.88 568.78,35.87 568.91,35.87 569.03,35.87 569.16,35.87 569.29,35.95 569.41,36.02 569.54,36.1 569.66,36.18 569.79,36.27 569.91,36.35 570.04,36.44 570.17,36.53 570.29,36.62 570.42,36.71 570.54,36.8 570.67,36.9 570.8,36.99 570.92,37.09 571.05,37.19 571.17,37.29 571.3,37.4 571.42,37.5 571.55,37.61 571.68,37.72 571.8,37.83 571.93,37.95 572.05,38.06 572.18,38.18 572.3,38.3 572.43,38.42 572.56,38.55 572.68,38.67 572.81,38.8 572.93,38.93 573.06,39.06 573.19,39.19 573.31,39.33 573.44,39.47 573.56,39.6 573.69,39.75 573.81,39.89 573.94,40.04 574.07,40.19 574.19,40.34 574.32,40.49 574.44,40.65 574.57,40.8 574.7,40.96 574.82,41.13 574.95,41.29 575.07,41.46 575.2,41.63 575.32,41.8 575.45,41.98 575.58,42.15 575.7,42.33 575.83,42.52 575.95,42.7 576.08,42.89 576.2,43.09 576.33,43.28 576.46,43.48 576.58,43.68 576.71,43.89 576.83,44.09 576.96,44.3 577.09,44.52 577.21,44.74 577.34,44.96 577.46,45.18 577.59,45.41 577.71,45.65 577.84,45.88 577.97,46.12 578.09,46.37 578.22,46.62 578.34,46.87 578.47,47.13 578.6,47.4 578.72,47.66 578.85,47.94 578.97,48.22 579.1,48.5 579.22,48.79 579.35,49.09 579.48,49.39 579.6,49.7 579.73,50.01 579.85,50.33 579.98,50.66 580.1,51 580.23,51.34 580.36,51.7 580.48,52.06 580.61,52.43 580.73,52.81 580.86,53.2 580.99,53.59 581.11,54.01 581.24,54.43 581.36,54.86 581.49,55.31 581.61,55.77 581.74,56.25 581.87,56.74 581.99,57.24 582.12,57.77 582.24,58.31 582.37,58.88 582.49,59.47 582.62,60.08 582.75,60.71 582.87,61.38 583,62.07 583.12,62.79 583.25,63.55 583.38,64.34 583.5,65.17 583.63,66.05 583.75,66.96 583.88,67.92 584,68.91 584.13,69.93 584.26,70.96 584.38,71.98 584.51,72.94 584.63,73.78 584.76,74.43 584.88,74.8 585.01,74.86 585.14,74.5 585.26,73.49 585.39,72.14 585.51,70.69 585.64,69.27 585.77,67.93 585.89,66.69 586.02,65.56 586.14,64.53 586.27,63.58 586.39,62.71 586.52,61.9 586.65,61.16 586.77,60.47 586.9,59.83 587.02,59.24 587.15,58.68 587.28,58.16 587.4,57.67 587.53,57.22 587.65,56.79 587.78,56.38 587.9,56 588.03,55.64 588.16,55.29 588.28,54.97 588.41,54.67 588.53,54.38 588.66,54.1 588.78,53.85 588.91,53.6 589.04,53.37 589.16,53.15 589.29,52.94 589.41,52.74 589.54,52.56 589.67,52.38 589.79,52.21 589.92,52.06 590.04,51.91 590.17,51.77 590.29,51.64 590.42,51.52 590.55,51.4 590.67,51.3 590.8,51.2 590.92,51.1 591.05,51.02 591.17,50.94 591.3,50.87 591.43,50.8 591.55,50.74 591.68,50.68 591.8,50.64 591.93,50.59 592.06,50.56 592.18,50.53 592.31,50.5 592.43,50.48 592.56,50.47 592.68,50.46 592.81,50.45 592.94,50.45 593.06,50.46 593.19,50.47 593.31,50.49 593.44,50.51 593.57,50.53 593.69,50.56 593.82,50.6 593.94,50.64 594.07,50.68 594.19,50.73 594.32,50.78 594.45,50.84 594.57,50.91 594.7,50.97 594.82,51.05 594.95,51.1 595.07,51.17 595.2,51.23 595.33,51.29 595.45,51.36 595.58,51.43 595.7,51.49 595.83,51.56 595.96,51.64 596.08,51.71 596.21,51.78 596.33,51.86 596.46,51.94 596.58,52.02 596.71,52.1 596.84,52.18 596.96,52.26 597.09,52.35 597.21,52.44 597.34,52.52 597.47,52.61 597.59,52.71 597.72,52.8 597.84,52.89 597.97,52.99 598.09,53.09 598.22,53.19 598.35,53.29 598.47,53.39 598.6,53.5 598.72,53.61 598.85,53.71 598.97,53.82 599.1,53.94 599.23,54.05 599.35,54.16 599.48,54.28 599.6,54.4 599.73,54.52 599.86,54.64 599.98,54.77 600.11,54.89 600.23,55.02 600.36,55.15 600.48,55.28 600.61,55.42 600.74,55.55 600.86,55.69 600.99,55.83 601.11,55.97 601.24,56.12 601.36,56.26 601.49,56.41 601.62,56.56 601.74,56.71 601.87,56.87 601.99,57.02 602.12,57.18 602.25,57.35 602.37,57.51 602.5,57.68 602.62,57.85 602.75,58.02 602.87,58.19 603,58.37 603.13,58.55 603.25,58.73 603.38,58.92 603.5,59.1 603.63,59.29 603.75,59.49 603.88,59.69 604.01,59.88 604.13,60.09 604.26,60.29 604.38,60.5 604.51,60.72 604.64,60.93 604.76,61.15 604.89,61.38 605.01,61.61 605.14,61.84 605.26,62.07 605.39,62.31 605.52,62.56 605.64,62.8 605.77,63.06 605.89,63.31 606.02,63.57 606.15,63.84 606.27,64.11 606.4,64.39 606.52,64.67 606.65,64.96 606.77,65.25 606.9,65.55 607.03,65.86 607.15,66.17 607.28,66.49 607.4,66.81 607.53,67.14 607.65,67.48 607.78,67.83 607.91,68.18 608.03,68.54 608.16,68.91 608.28,69.29 608.41,69.68 608.54,70.08 608.66,70.48 608.79,70.9 608.91,71.32 609.04,71.76 609.16,72.21 609.29,72.66 609.42,73.13 609.54,73.61 609.67,74.1 609.79,74.6 609.92,75.1 610.04,75.62 610.17,76.14 610.3,76.67 610.42,77.2 610.55,77.73 610.67,78.25 610.8,78.77 610.93,79.27 611.05,79.75 611.18,80.19 611.3,80.6 611.43,80.95 611.55,81.24 611.68,81.47 611.81,81.62 611.93,81.69 612.06,81.64 612.18,81.4 612.31,80.99 612.44,80.45 612.56,79.83 612.69,79.15 612.81,78.46 612.94,77.75 613.06,77.06 613.19,76.38 613.32,75.73 613.44,75.1 613.57,74.5 613.69,73.93 613.82,73.38 613.94,72.86 614.07,72.37 614.2,71.9 614.32,71.45 614.45,71.02 614.57,70.62 614.7,70.23 614.83,69.86 614.95,69.51 615.08,69.18 615.2,68.86 615.33,68.55 615.45,68.26 615.58,67.99 615.71,67.72 615.83,67.47 615.96,67.23 616.08,67 616.21,66.78 616.33,66.57 616.46,66.37 616.59,66.18 616.71,65.99 616.84,65.82 616.96,65.65 617.09,65.5 617.22,65.35 617.34,65.2 617.47,65.07 617.59,64.94 617.72,64.82 617.84,64.7 617.97,64.59 618.1,64.49 618.22,64.4 618.35,64.3 618.47,64.22 618.6,64.14 618.73,64.07 618.85,64 618.98,63.93 619.1,63.88 619.23,63.82 619.35,63.77 619.48,63.73 619.61,63.69 619.73,63.66 619.86,63.63 619.98,63.6 620.11,63.58 620.23,63.57 620.36,63.55 620.49,63.55 620.61,63.54 620.74,63.54 620.86,63.55 620.99,63.56 621.12,63.57 621.24,63.59 621.37,63.61 621.49,63.64 621.62,63.67 621.74,63.7 621.87,63.74 622,63.78 622.12,63.82 622.25,63.87 622.37,63.93 622.5,63.98 622.62,64.06 622.75,64.14 622.88,64.23 623,64.31 623.13,64.4 623.25,64.49 623.38,64.58 623.51,64.67 623.63,64.76 623.76,64.86 623.88,64.96 624.01,65.05 624.13,65.16 624.26,65.26 624.39,65.36 624.51,65.47 624.64,65.58 624.76,65.69 624.89,65.8 625.02,65.92 625.14,66.03 625.27,66.15 625.39,66.27 625.52,66.39 625.64,66.51 625.77,66.64 625.9,66.77 626.02,66.9 626.15,67.03 626.27,67.16 626.4,67.3 626.52,67.44 626.65,67.58 626.78,67.72 626.9,67.86 627.03,68.01 627.15,68.16 627.28,68.31 627.41,68.46 627.53,68.61 627.66,68.77 627.78,68.93 627.91,69.09 628.03,69.26 628.16,69.42 628.29,69.59 628.41,69.76 628.54,69.94 628.66,70.11 628.79,70.29 628.91,70.47 629.04,70.66 629.17,70.84 629.29,71.03 629.42,71.23 629.54,71.42 629.67,71.62 629.8,71.82 629.92,72.02 630.05,72.23 630.17,72.44 630.3,72.65 630.42,72.87 630.55,73.09 630.68,73.31 630.8,73.54 630.93,73.77 631.05,74 631.18,74.24 631.31,74.48 631.43,74.73 631.56,74.97 631.68,75.23 631.81,75.48 631.93,75.75 632.06,76.01 632.19,76.28 632.31,76.56 632.44,76.83 632.56,77.12 632.69,77.41 632.81,77.7 632.94,78 633.07,78.3 633.19,78.61 633.32,78.93 633.44,79.25 633.57,79.58 633.7,79.91 633.82,80.25 633.95,80.59 634.07,80.95 634.2,81.3 634.32,81.67 634.45,82.04 634.58,82.42 634.7,82.81 634.83,83.2 634.95,83.6 635.08,84.01 635.2,84.42 635.33,84.84 635.46,85.27 635.58,85.7 635.71,86.14 635.83,86.58 635.96,87.03 636.09,87.48 636.21,87.93 636.34,88.39 636.46,88.84 636.59,89.28 636.71,89.72 636.84,90.15 636.97,90.56 637.09,90.95 637.22,91.32 637.34,91.66 637.47,91.97 637.6,92.24 637.72,92.46 637.85,92.64 637.97,92.77 638.1,92.85 638.22,92.86 638.35,92.78 638.48,92.61 638.6,92.37 638.73,92.06 638.85,91.71 638.98,91.33 639.1,90.92 639.23,90.49 639.36,90.06 639.48,89.62 639.61,89.19 639.73,88.76 639.86,88.34 639.99,87.93 640.11,87.54 640.24,87.16 640.36,86.79 640.49,86.43 640.61,86.09 640.74,85.76 640.87,85.44 640.99,85.14 641.12,84.84 641.24,84.56 641.37,84.3 641.5,84.04 641.62,83.79 641.75,83.56 641.87,83.33 642,83.12 642.12,82.91 642.25,82.71 642.38,82.52 642.5,82.34 642.63,82.17 642.75,82.01 642.88,81.85 643,81.7 643.13,81.56 643.26,81.43 643.38,81.3 643.51,81.18 643.63,81.06 643.76,80.95 643.89,80.85 644.01,80.75 644.14,80.66 644.26,80.58 644.39,80.5 644.51,80.42 644.64,80.35 644.77,80.29 644.89,80.23 645.02,80.17 645.14,80.12 645.27,80.07 645.39,80.03 645.52,80 645.65,79.96 645.77,79.94 645.9,79.91 646.02,79.89 646.15,79.88 646.28,79.86 646.4,79.86 646.53,79.85 646.65,79.85 646.78,79.86 646.9,79.86 647.03,79.87 647.16,79.89 647.28,79.91 647.41,79.93 647.53,79.95 647.66,79.98 647.78,80.02 647.91,80.05 648.04,80.09 648.16,80.13 648.29,80.18 648.41,80.23 648.54,80.28 648.67,80.34 648.79,80.4 648.92,80.46 649.04,80.53 649.17,80.6 649.29,80.67 649.42,80.75 649.55,80.83 649.67,80.91 649.8,80.99 649.92,81.07 650.05,81.16 650.18,81.25 650.3,81.33 650.43,81.42 650.55,81.52 650.68,81.61 650.8,81.7 650.93,81.8 651.06,81.9 651.18,82 651.31,82.1 651.43,82.2 651.56,82.3 651.68,82.41 651.81,82.52 651.94,82.63 652.06,82.74 652.19,82.85 652.31,82.96 652.44,83.08 652.57,83.2 652.69,83.32 652.82,83.44 652.94,83.56 653.07,83.68 653.19,83.81 653.32,83.94 653.45,84.07 653.57,84.2 653.7,84.33 653.82,84.47 653.95,84.6 654.07,84.74 654.2,84.88 654.33,85.02 654.45,85.17 654.58,85.31 654.7,85.46 654.83,85.61 654.96,85.76 655.08,85.91 655.21,86.07 655.33,86.23 655.46,86.38 655.58,86.55 655.71,86.71 655.84,86.87 655.96,87.04 656.09,87.21 656.21,87.38 656.34,87.56 656.47,87.73 656.59,87.91 656.72,88.09 656.84,88.27 656.97,88.46 657.09,88.65 657.22,88.84 657.35,89.03 657.47,89.22 657.6,89.42 657.72,89.62 657.85,89.82 657.97,90.03 658.1,90.23 658.23,90.44 658.35,90.65 658.48,90.87 658.6,91.09 658.73,91.31 658.86,91.53 658.98,91.76 659.11,91.98 659.23,92.22 659.36,92.45 659.48,92.69 659.61,92.93 659.74,93.17 659.86,93.42 659.99,93.67 660.11,93.92 660.24,94.18 660.37,94.43 660.49,94.7 660.62,94.96 660.74,95.23 660.87,95.5 660.99,95.77 661.12,96.05 661.25,96.33 661.37,96.61 661.5,96.9 661.62,97.19 661.75,97.48 661.87,97.77 662,98.07 662.13,98.37 662.25,98.67 662.38,98.97 662.5,99.27 662.63,99.57 662.76,99.88 662.88,100.18 663.01,100.49 663.13,100.79 663.26,101.09 663.38,101.39 663.51,101.69 663.64,101.98 663.76,102.27 663.89,102.55 664.01,102.82 664.14,103.09 664.26,103.35 664.39,103.6 664.52,103.83 664.64,104.05 664.77,104.26 664.89,104.46 665.02,104.64 665.15,104.8 665.27,104.94 665.4,105.07 665.52,105.17 665.65,105.26 665.77,105.32 665.9,105.31 666.03,105.29 666.15,105.24 666.28,105.18 666.4,105.1 666.53,105.01 666.65,104.91 666.78,104.79 666.91,104.67 667.03,104.54 667.16,104.4 667.28,104.26 667.41,104.11 667.54,103.95 667.66,103.79 667.79,103.64 667.91,103.47 668.04,103.31 668.16,103.15 668.29,102.99 668.42,102.83 668.54,102.67 668.67,102.51 668.79,102.36 668.92,102.2 669.05,102.05 669.17,101.9 669.3,101.75 669.42,101.61 669.55,101.47 669.67,101.33 669.8,101.2" fill="none" stroke="#e2486c" stroke-width="1.3"/>
<polyline points="544,21.3 544.13,21.34 544.25,21.39 544.38,21.44 544.5,21.49 544.63,21.54 544.75,21.59 544.88,21.64 545.01,21.7 545.13,21.75 545.26,21.81 545.38,21.87 545.51,21.93 545.64,22 545.76,22.06 545.89,22.13 546.01,22.21 546.14,22.28 546.26,22.35 546.39,22.43 546.52,22.51 546.64,22.58 546.77,22.66 546.89,22.74 547.02,22.83 547.14,22.91 547.27,22.99 547.4,23.08 547.52,23.16 547.65,23.25 547.77,23.33 547.9,23.42 548.03,23.5 548.15,23.58 548.28,23.66 548.4,23.74 548.53,23.82 548.65,23.9 548.78,23.99 548.91,24.08 549.03,24.16 549.16,24.26 549.28,24.35 549.41,24.45 549.54,24.55 549.66,24.65 549.79,24.76 549.91,24.87 550.04,24.97 550.16,25.08 550.29,25.19 550.42,25.31 550.54,25.42 550.67,25.53 550.79,25.64 550.92,25.75 551.04,25.85 551.17,25.96 551.3,26.07 551.42,26.18 551.55,26.29 551.67,26.4 551.8,26.51 551.93,26.63 552.05,26.74 552.18,26.86 552.3,26.97 552.43,27.09 552.55,27.21 552.68,27.33 552.81,27.45 552.93,27.57 553.06,27.69 553.18,27.82 553.31,27.94 553.43,28.07 553.56,28.2 553.69,28.33 553.81,28.47 553.94,28.61 554.06,28.75 554.19,28.89 554.32,29.03 554.44,29.18 554.57,29.33 554.69,29.49 554.82,29.64 554.94,29.8 555.07,29.97 555.2,30.13 555.32,30.3 555.45,30.47 555.57,30.65 555.7,30.83 555.83,31.01 555.95,31.2 556.08,31.39 556.2,31.58 556.33,31.78 556.45,31.97 556.58,32.18 556.71,32.38 556.83,32.59 556.96,32.81 557.08,33.03 557.21,33.26 557.33,33.51 557.46,33.76 557.59,34.02 557.71,34.3 557.84,34.58 557.96,34.88 558.09,35.18 558.22,35.5 558.34,35.83 558.47,36.17 558.59,36.52 558.72,36.88 558.84,37.26 558.97,37.64 559.1,38.04 559.22,38.44 559.35,38.85 559.47,39.27 559.6,39.68 559.73,40.09 559.85,40.52 559.98,40.97 560.1,41.45 560.23,41.96 560.35,42.5 560.48,43.08 560.61,43.69 560.73,44.34 560.86,45.02 560.98,45.73 561.11,46.47 561.23,47.23 561.36,47.98 561.49,48.7 561.61,49.36 561.74,50 561.86,50.7 561.99,51.46 562.12,52.31 562.24,53.24 562.37,54.28 562.49,55.43 562.62,56.7 562.74,58.12 562.87,59.67 563,61.29 563.12,62.85 563.25,64.02 563.37,64.36 563.5,64.47 563.62,64.44 563.75,64.27 563.88,63.99 564,63.61 564.13,63.15 564.25,62.63 564.38,62.07 564.51,61.49 564.63,60.9 564.76,60.31 564.88,59.73 565.01,59.16 565.13,58.6 565.26,58.06 565.39,57.54 565.51,57.04 565.64,56.56 565.76,56.1 565.89,55.65 566.01,55.22 566.14,54.81 566.27,54.42 566.39,54.04 566.52,53.68 566.64,53.33 566.77,53 566.9,52.68 567.02,52.37 567.15,52.08 567.27,51.79 567.4,51.52 567.52,51.26 567.65,51.01 567.78,50.77 567.9,50.54 568.03,50.32 568.15,50.11 568.28,49.91 568.41,49.72 568.53,49.53 568.66,49.35 568.78,49.18 568.91,49.02 569.03,48.87 569.16,48.72 569.29,48.58 569.41,48.44 569.54,48.32 569.66,48.2 569.79,48.08 569.91,47.97 570.04,47.87 570.17,47.78 570.29,47.68 570.42,47.6 570.54,47.52 570.67,47.45 570.8,47.38 570.92,47.32 571.05,47.26 571.17,47.21 571.3,47.16 571.42,47.12 571.55,47.08 571.68,47.05 571.8,47.02 571.93,47 572.05,46.99 572.18,46.97 572.3,46.97 572.43,46.96 572.56,46.97 572.68,46.98 572.81,46.99 572.93,47 573.06,47.1 573.19,47.19 573.31,47.29 573.44,47.39 573.56,47.48 573.69,47.58 573.81,47.68 573.94,47.78 574.07,47.89 574.19,47.99 574.32,48.09 574.44,48.2 574.57,48.31 574.7,48.41 574.82,48.52 574.95,48.63 575.07,48.74 575.2,48.85 575.32,48.97 575.45,49.08 575.58,49.2 575.7,49.31 575.83,49.43 575.95,49.55 576.08,49.67 576.2,49.79 576.33,49.91 576.46,50.03 576.58,50.15 576.71,50.28 576.83,50.4 576.96,50.53 577.09,50.66 577.21,50.79 577.34,50.92 577.46,51.05 577.59,51.18 577.71,51.32 577.84,51.45 577.97,51.59 578.09,51.73 578.22,51.87 578.34,52.01 578.47,52.15 578.6,52.29 578.72,52.44 578.85,52.58 578.97,52.73 579.1,52.87 579.22,53.02 579.35,53.17 579.48,53.33 579.6,53.48 579.73,53.63 579.85,53.79 579.98,53.95 580.1,54.1 580.23,54.26 580.36,54.43 580.48,54.59 580.61,54.75 580.73,54.92 580.86,55.09 580.99,55.26 581.11,55.43 581.24,55.6 581.36,55.77 581.49,55.95 581.61,56.13 581.74,56.3 581.87,56.48 581.99,56.67 582.12,56.85 582.24,57.04 582.37,57.22 582.49,57.41 582.62,57.6 582.75,57.8 582.87,57.99 583,58.19 583.12,58.39 583.25,58.59 583.38,58.79 583.5,59 583.63,59.2 583.75,59.41 583.88,59.63 584,59.84 584.13,60.06 584.26,60.28 584.38,60.5 584.51,60.72 584.63,60.95 584.76,61.18 584.88,61.41 585.01,61.64 585.14,61.88 585.26,62.12 585.39,62.36 585.51,62.61 585.64,62.86 585.77,63.11 585.89,63.37 586.02,63.63 586.14,63.89 586.27,64.16 586.39,64.43 586.52,64.7 586.65,64.98 586.77,65.26 586.9,65.55 587.02,65.84 587.15,66.14 587.28,66.44 587.4,66.74 587.53,67.05 587.65,67.37 587.78,67.69 587.9,68.02 588.03,68.35 588.16,68.69 588.28,69.03 588.41,69.39 588.53,69.74 588.66,70.11 588.78,70.49 588.91,70.87 589.04,71.26 589.16,71.66 589.29,72.07 589.41,72.49 589.54,72.92 589.67,73.36 589.79,73.81 589.92,74.28 590.04,74.76 590.17,75.26 590.29,75.77 590.42,76.29 590.55,76.84 590.67,77.4 590.8,77.99 590.92,78.6 591.05,79.23 591.17,79.89 591.3,80.59 591.43,81.31 591.55,82.08 591.68,82.88 591.8,83.74 591.93,84.65 592.06,85.61 592.18,86.66 592.31,87.78 592.43,89 592.56,90.34 592.68,91.81 592.81,93.46 592.94,95.31 593.06,97.41 593.19,99.77 593.31,102.33 593.44,104.69 593.57,105.85 593.69,103.87 593.82,100.32 593.94,97.11 594.07,94.48 594.19,92.31 594.32,90.48 594.45,88.92 594.57,87.56 594.7,86.36 594.82,85.29 594.95,84.33 595.07,83.46 595.2,82.66 595.33,81.93 595.45,81.26 595.58,80.63 595.7,80.05 595.83,79.51 595.96,79.01 596.08,78.54 596.21,78.09 596.33,77.68 596.46,77.28 596.58,76.91 596.71,76.56 596.84,76.23 596.96,75.91 597.09,75.61 597.21,75.33 597.34,75.06 597.47,74.8 597.59,74.56 597.72,74.33 597.84,74.11 597.97,73.9 598.09,73.7 598.22,73.51 598.35,73.33 598.47,73.16 598.6,72.99 598.72,72.84 598.85,72.69 598.97,72.55 599.1,72.41 599.23,72.29 599.35,72.16 599.48,72.05 599.6,71.94 599.73,71.84 599.86,71.74 599.98,71.65 600.11,71.56 600.23,71.48 600.36,71.4 600.48,71.33 600.61,71.26 600.74,71.2 600.86,71.14 600.99,71.09 601.11,71.04 601.24,70.99 601.36,70.95 601.49,70.91 601.62,70.88 601.74,70.85 601.87,70.82 601.99,70.8 602.12,70.78 602.25,70.76 602.37,70.75 602.5,70.74 602.62,70.73 602.75,70.73 602.87,70.72 603,70.73 603.13,70.73 603.25,70.74 603.38,70.75 603.5,70.77 603.63,70.78 603.75,70.8 603.88,70.83 604.01,70.85 604.13,70.88 604.26,70.91 604.38,70.95 604.51,70.98 604.64,71.02 604.76,71.06 604.89,71.11 605.01,71.15 605.14,71.2 605.26,71.25 605.39,71.31 605.52,71.36 605.64,71.42 605.77,71.48 605.89,71.54 606.02,71.61 606.15,71.68 606.27,71.75 606.4,71.82 606.52,71.9 606.65,71.98 606.77,72.06 606.9,72.14 607.03,72.22 607.15,72.31 607.28,72.4 607.4,72.49 607.53,72.62 607.65,72.75 607.78,72.88 607.91,73.02 608.03,73.15 608.16,73.29 608.28,73.43 608.41,73.57 608.54,73.71 608.66,73.85 608.79,74 608.91,74.15 609.04,74.3 609.16,74.45 609.29,74.6 609.42,74.76 609.54,74.91 609.67,75.07 609.79,75.23 609.92,75.39 610.04,75.56 610.17,75.72 610.3,75.89 610.42,76.06 610.55,76.23 610.67,76.4 610.8,76.58 610.93,76.75 611.05,76.93 611.18,77.11 611.3,77.29 611.43,77.48 611.55,77.66 611.68,77.85 611.81,78.04 611.93,78.24 612.06,78.43 612.18,78.63 612.31,78.83 612.44,79.03 612.56,79.23 612.69,79.43 612.81,79.64 612.94,79.85 613.06,80.06 613.19,80.28 613.32,80.5 613.44,80.71 613.57,80.94 613.69,81.16 613.82,81.39 613.94,81.61 614.07,81.85 614.2,82.08 614.32,82.32 614.45,82.56 614.57,82.8 614.7,83.04 614.83,83.29 614.95,83.54 615.08,83.8 615.2,84.06 615.33,84.32 615.45,84.58 615.58,84.85 615.71,85.12 615.83,85.39 615.96,85.67 616.08,85.95 616.21,86.23 616.33,86.52 616.46,86.81 616.59,87.11 616.71,87.41 616.84,87.71 616.96,88.02 617.09,88.33 617.22,88.65 617.34,88.97 617.47,89.3 617.59,89.63 617.72,89.97 617.84,90.31 617.97,90.66 618.1,91.01 618.22,91.37 618.35,91.74 618.47,92.11 618.6,92.49 618.73,92.88 618.85,93.27 618.98,93.67 619.1,94.08 619.23,94.49 619.35,94.91 619.48,95.35 619.61,95.79 619.73,96.24 619.86,96.7 619.98,97.16 620.11,97.64 620.23,98.13 620.36,98.63 620.49,99.15 620.61,99.67 620.74,100.2 620.86,100.75 620.99,101.31 621.12,101.88 621.24,102.47 621.37,103.06 621.49,103.67 621.62,104.29 621.74,104.92 621.87,105.55 622,106.18 622.12,106.82 622.25,107.45 622.37,108.07 622.5,108.67 622.62,109.24 622.75,109.77 622.88,110.25 623,110.67 623.13,111.01 623.25,111.26 623.38,111.42 623.51,111.49 623.63,111.41 623.76,111.07 623.88,110.54 624.01,109.88 624.13,109.14 624.26,108.37 624.39,107.61 624.51,106.86 624.64,106.14 624.76,105.46 624.89,104.82 625.02,104.21 625.14,103.64 625.27,103.1 625.39,102.6 625.52,102.13 625.64,101.69 625.77,101.28 625.9,100.9 626.02,100.54 626.15,100.2 626.27,99.88 626.4,99.58 626.52,99.3 626.65,99.04 626.78,98.8 626.9,98.57 627.03,98.36 627.15,98.16 627.28,97.97 627.41,97.8 627.53,97.64 627.66,97.49 627.78,97.36 627.91,97.23 628.03,97.11 628.16,97.01 628.29,96.91 628.41,96.82 628.54,96.75 628.66,96.68 628.79,96.62 628.91,96.56 629.04,96.52 629.17,96.48 629.29,96.45 629.42,96.43 629.54,96.41 629.67,96.4 629.8,96.4 629.92,96.4 630.05,96.41 630.17,96.43 630.3,96.45 630.42,96.48 630.55,96.52 630.68,96.56 630.8,96.61 630.93,96.66 631.05,96.72 631.18,96.78 631.31,96.85 631.43,96.93 631.56,97.01 631.68,97.09 631.81,97.18 631.93,97.28 632.06,97.38 632.19,97.49 632.31,97.6 632.44,97.72 632.56,97.84 632.69,97.96 632.81,98.09 632.94,98.21 633.07,98.34 633.19,98.47 633.32,98.6 633.44,98.73 633.57,98.86 633.7,98.99 633.82,99.12 633.95,99.25 634.07,99.38 634.2,99.51 634.32,99.65 634.45,99.78 634.58,99.92 634.7,100.05 634.83,100.19 634.95,100.32 635.08,100.46 635.2,100.6 635.33,100.74 635.46,100.88 635.58,101.02 635.71,101.16 635.83,101.3 635.96,101.44 636.09,101.58 636.21,101.73 636.34,101.87 636.46,102.01 636.59,102.16 636.71,102.3 636.84,102.45 636.97,102.6 637.09,102.74 637.22,102.89 637.34,103.04 637.47,103.19 637.6,103.34 637.72,103.49 637.85,103.64 637.97,103.79 638.1,103.94 638.22,104.1 638.35,104.25 638.48,104.4 638.6,104.56 638.73,104.71 638.85,104.87 638.98,105.03 639.1,105.18 639.23,105.34 639.36,105.5 639.48,105.66 639.61,105.82 639.73,105.98 639.86,106.14 639.99,106.3 640.11,106.46 640.24,106.62 640.36,106.78 640.49,106.95 640.61,107.11 640.74,107.28 640.87,107.44 640.99,107.61 641.12,107.77 641.24,107.94 641.37,108.11 641.5,108.27 641.62,108.44 641.75,108.61 641.87,108.78 642,108.95 642.12,109.12 642.25,109.29 642.38,109.46 642.5,109.63 642.63,109.8 642.75,109.98 642.88,110.15 643,110.32 643.13,110.5 643.26,110.67 643.38,110.85 643.51,111.02 643.63,111.2 643.76,111.37 643.89,111.55 644.01,111.72 644.14,111.9 644.26,112.08 644.39,112.26 644.51,112.43 644.64,112.61 644.77,112.79 644.89,112.97 645.02,113.15 645.14,113.33 645.27,113.51 645.39,113.68 645.52,113.86 645.65,114.04 645.77,114.22 645.9,114.4 646.02,114.58 646.15,114.76 646.28,114.94 646.4,115.12 646.53,115.3 646.65,115.48 646.78,115.66 646.9,115.84 647.03,116.02 647.16,116.2 647.28,116.38 647.41,116.55 647.53,116.73 647.66,116.91 647.78,117.09 647.91,117.26 648.04,117.44 648.16,117.62 648.29,117.79 648.41,117.96 648.54,118.14 648.67,118.31 648.79,118.48 648.92,118.66 649.04,118.83 649.17,119 649.29,119.17 649.42,119.33 649.55,119.5 649.67,119.67 649.8,119.83 649.92,119.99 650.05,120.16 650.18,120.32 650.3,120.48 650.43,120.64 650.55,120.79 650.68,120.95 650.8,121.1 650.93,121.25 651.06,121.4 651.18,121.55 651.31,121.7 651.43,121.85 651.56,121.99 651.68,122.13 651.81,122.27 651.94,122.41 652.06,122.54 652.19,122.68 652.31,122.81 652.44,122.94 652.57,123.07 652.69,123.19 652.82,123.32 652.94,123.44 653.07,123.56 653.19,123.67 653.32,123.79 653.45,123.9 653.57,124.01 653.7,124.12 653.82,124.22 653.95,124.33 654.07,124.43 654.2,124.53 654.33,124.63 654.45,124.72 654.58,124.81 654.7,124.91 654.83,124.99 654.96,125.08 655.08,125.17 655.21,125.25 655.33,125.33 655.46,125.41 655.58,125.48 655.71,125.56 655.84,125.63 655.96,125.7 656.09,125.77 656.21,125.84 656.34,125.91 656.47,125.97 656.59,126.03 656.72,126.1 656.84,126.16 656.97,126.22 657.09,126.27 657.22,126.33 657.35,126.33 657.47,126.33 657.6,126.32 657.72,126.32 657.85,126.31 657.97,126.31 658.1,126.3 658.23,126.29 658.35,126.29 658.48,126.28 658.6,126.27 658.73,126.26 658.86,126.25 658.98,126.24 659.11,126.23 659.23,126.22 659.36,126.21 659.48,126.19 659.61,126.18 659.74,126.17 659.86,126.16 659.99,126.15 660.11,126.13 660.24,126.12 660.37,126.11 660.49,126.1 660.62,126.09 660.74,126.07 660.87,126.06 660.99,126.05 661.12,126.04 661.25,126.03 661.37,126.02 661.5,126 661.62,125.99 661.75,125.98 661.87,125.97 662,125.96 662.13,125.95 662.25,125.94 662.38,125.93 662.5,125.92 662.63,125.91 662.76,125.91 662.88,125.9 663.01,125.89 663.13,125.88 663.26,125.87 663.38,125.87 663.51,125.86 663.64,125.85 663.76,125.85 663.89,125.84 664.01,125.83 664.14,125.83 664.26,125.82 664.39,125.82 664.52,125.81 664.64,125.81 664.77,125.8 664.89,125.8 665.02,125.8 665.15,125.79 665.27,125.79 665.4,125.79 665.52,125.78 665.65,125.78 665.77,125.78 665.9,125.78 666.03,125.78 666.15,125.77 666.28,125.77 666.4,125.77 666.53,125.77 666.65,125.77 666.78,125.77 666.91,125.77 667.03,125.77 667.16,125.77 667.28,125.77 667.41,125.77 667.54,125.77 667.66,125.77 667.79,125.77 667.91,125.77 668.04,125.78 668.16,125.78 668.29,125.78 668.42,125.78 668.54,125.78 668.67,125.79 668.79,125.79 668.92,125.79 669.05,125.79 669.17,125.8 669.3,125.8 669.42,125.8 669.55,125.81 669.67,125.81 669.8,125.81" fill="none" stroke="#2e5486" stroke-width="1.3"/>
</g>
<clipPath id="clipd"><rect x="31.0" y="191.0" width="159.7" height="136.5"/></clipPath>
<g clip-path="url(#clipd)" fill="none" stroke="#fff" stroke-opacity="0.85" stroke-width="0.8" stroke-dasharray="3 2.4">
<path d="M80 189C80.1 191.67 80.27 199 80.6 205C80.93 211 81.1 219.17 82 225C82.9 230.83 84.33 235.5 86 240C87.67 244.5 89.67 248.28 92 252C94.33 255.72 96.67 259.38 100 262.3C103.33 265.22 107.67 267.72 112 269.5C116.33 271.28 120.5 272.2 126 273C131.5 273.8 139 274.13 145 274.3C151 274.47 156.5 274.38 162 274C167.5 273.62 173 272.87 178 272C183 271.13 189.67 269.33 192 268.8"/>
<path d="M105.5 189C105.55 190.83 105.47 194.83 105.8 200C106.13 205.17 106.47 214.33 107.5 220C108.53 225.67 110.18 229.9 112 234C113.82 238.1 116.07 241.85 118.4 244.6C120.73 247.35 122.73 248.6 126 250.5C129.27 252.4 133.33 254.62 138 256C142.67 257.38 148.67 258.58 154 258.8C159.33 259.02 163.67 258.43 170 257.3C176.33 256.17 188.33 252.88 192 252"/>
<path d="M147 189C147.13 190.5 147.38 194.33 147.8 198C148.22 201.67 148.47 207.08 149.5 211C150.53 214.92 152.08 218.78 154 221.5C155.92 224.22 158.33 226 161 227.3C163.67 228.6 166.53 229.13 170 229.3C173.47 229.47 178.13 228.8 181.8 228.3C185.47 227.8 190.3 226.63 192 226.3"/>
</g>
<polygon points="96,249.1 96.96,251.67 99.71,251.79 97.56,253.51 98.29,256.16 96,254.64 93.71,256.16 94.44,253.51 92.29,251.79 95.04,251.67" fill="#ec1c24"/>
<text x="144" y="239.5" font-size="7.2" fill="#fff" fill-opacity="0.9" font-family='"Liberation Sans", sans-serif'><tspan font-family='"Liberation Serif", serif' font-style="italic" font-size="8">&#951;</tspan> / <tspan font-family='"Liberation Serif", serif' font-style="italic" font-size="8">&#951;</tspan><tspan font-size="5" dy="2">0</tspan><tspan dy="-2"> &gt; 100</tspan></text>
<text x="119.8" y="265.7" font-size="7.2" fill="#fff" fill-opacity="0.9" font-family='"Liberation Sans", sans-serif'><tspan font-family='"Liberation Serif", serif' font-style="italic" font-size="8">&#951;</tspan> / <tspan font-family='"Liberation Serif", serif' font-style="italic" font-size="8">&#951;</tspan><tspan font-size="5" dy="2">0</tspan><tspan dy="-2"> &gt; 10</tspan></text>
<text x="86.2" y="280.5" font-size="7.2" fill="#fff" fill-opacity="0.9" font-family='"Liberation Sans", sans-serif'><tspan font-family='"Liberation Serif", serif' font-style="italic" font-size="8">&#951;</tspan> / <tspan font-family='"Liberation Serif", serif' font-style="italic" font-size="8">&#951;</tspan><tspan font-size="5" dy="2">0</tspan><tspan dy="-2"> &gt; 5</tspan></text>
<text x="32.3" y="339.2" font-size="9.2" text-anchor="middle" font-family='"Liberation Sans", sans-serif' fill="#262626">10<tspan font-size="6.5" dy="-4.3">2</tspan></text>
<text x="72.22" y="339.2" font-size="9.2" text-anchor="middle" font-family='"Liberation Sans", sans-serif' fill="#262626">10<tspan font-size="6.5" dy="-4.3">3</tspan></text>
<text x="112.15" y="339.2" font-size="9.2" text-anchor="middle" font-family='"Liberation Sans", sans-serif' fill="#262626">10<tspan font-size="6.5" dy="-4.3">4</tspan></text>
<text x="152.07" y="339.2" font-size="9.2" text-anchor="middle" font-family='"Liberation Sans", sans-serif' fill="#262626">10<tspan font-size="6.5" dy="-4.3">5</tspan></text>
<text x="192" y="339.2" font-size="9.2" text-anchor="middle" font-family='"Liberation Sans", sans-serif' fill="#262626">10<tspan font-size="6.5" dy="-4.3">6</tspan></text>
<text x="28" y="194.4" font-size="9.2" text-anchor="end" font-family='"Liberation Sans", sans-serif' fill="#262626">10<tspan font-size="6.5" dy="-4.3">2</tspan></text>
<text x="28" y="239.9" font-size="9.2" text-anchor="end" font-family='"Liberation Sans", sans-serif' fill="#262626">10<tspan font-size="6.5" dy="-4.3">1</tspan></text>
<text x="28" y="285.4" font-size="9.2" text-anchor="end" font-family='"Liberation Sans", sans-serif' fill="#262626">10<tspan font-size="6.5" dy="-4.3">0</tspan></text>
<text x="30.2" y="330.9" font-size="9.2" text-anchor="end" font-family='"Liberation Sans", sans-serif' fill="#262626">10<tspan font-size="6.5" dy="-4.3">-1</tspan></text>
<text x="113.5" y="351" font-size="10" text-anchor="middle" font-family='"Liberation Sans", sans-serif' fill="#262626">Q<tspan font-size="6.5" dy="2.4">c</tspan></text>
<g transform="translate(8.0 259.6) rotate(-90)"><text x="0" y="0" font-size="10.5" text-anchor="middle" font-family='"Liberation Sans", sans-serif' fill="#262626"><tspan font-family='"Liberation Serif", serif' font-style="italic" font-size="12">&#954;</tspan><tspan font-size="7.5" dy="2.6">c</tspan><tspan dy="-2.6"> / </tspan><tspan font-family='"Liberation Serif", serif' font-style="italic" font-size="12">&#954;</tspan><tspan font-size="7.5" dy="2.6">i</tspan></text></g>
<text x="0.3" y="184.1" font-size="11.2" text-anchor="start" fill="#262626" font-family='"Liberation Sans", sans-serif' >(d)</text>
<text x="113" y="186.3" font-size="10" text-anchor="middle" font-family='"Liberation Sans", sans-serif' fill="#111">Quantum yield <tspan font-family='"Liberation Serif", serif' font-style="italic" font-size="10.5">&#951;</tspan></text>
<linearGradient id="cbg" x1="0" y1="1" x2="0" y2="0"><stop offset="0" stop-color="#143d6b"/><stop offset="0.06" stop-color="#1f5288"/><stop offset="0.11" stop-color="#2b6aa0"/><stop offset="0.17" stop-color="#3a7db0"/><stop offset="0.22" stop-color="#5593c2"/><stop offset="0.28" stop-color="#7aafd3"/><stop offset="0.33" stop-color="#a0c6e0"/><stop offset="0.39" stop-color="#c0d8e8"/><stop offset="0.44" stop-color="#d6e3ec"/><stop offset="0.5" stop-color="#e8e6e7"/><stop offset="0.56" stop-color="#f2d8cc"/><stop offset="0.61" stop-color="#eec1ae"/><stop offset="0.67" stop-color="#e4a08a"/><stop offset="0.72" stop-color="#d87e69"/><stop offset="0.78" stop-color="#c95c4d"/><stop offset="0.83" stop-color="#bb4540"/><stop offset="0.89" stop-color="#a8323a"/><stop offset="0.94" stop-color="#921f31"/><stop offset="1" stop-color="#7e1a2e"/></linearGradient>
<rect x="199.9" y="190.7" width="9" height="136.9" fill="url(#cbg)"/>
<text x="212.6" y="315.39" font-size="8.3" text-anchor="start" fill="#262626" font-family='"Liberation Sans", sans-serif' >0.1</text>
<path d="M208.9 312.39h-1.6" stroke="#9a9a9a" stroke-width="0.6"/>
<text x="212.6" y="284.97" font-size="8.3" text-anchor="start" fill="#262626" font-family='"Liberation Sans", sans-serif' >0.3</text>
<path d="M208.9 281.97h-1.6" stroke="#9a9a9a" stroke-width="0.6"/>
<text x="212.6" y="254.54" font-size="8.3" text-anchor="start" fill="#262626" font-family='"Liberation Sans", sans-serif' >0.5</text>
<path d="M208.9 251.54h-1.6" stroke="#9a9a9a" stroke-width="0.6"/>
<text x="212.6" y="224.12" font-size="8.3" text-anchor="start" fill="#262626" font-family='"Liberation Sans", sans-serif' >0.7</text>
<path d="M208.9 221.12h-1.6" stroke="#9a9a9a" stroke-width="0.6"/>
<text x="212.6" y="193.7" font-size="8.3" text-anchor="start" fill="#262626" font-family='"Liberation Sans", sans-serif' >0.9</text>
<path d="M208.9 190.7h-1.6" stroke="#9a9a9a" stroke-width="0.6"/>
<line x1="266" y1="191.5" x2="266" y2="327.7" stroke="#d9d9d9" stroke-width="1.3"/><line x1="451" y1="191.5" x2="451" y2="327.7" stroke="#d2d2d2" stroke-width="1.0"/><line x1="266" y1="191.5" x2="451" y2="191.5" stroke="#c6c6c6" stroke-width="1.0"/><line x1="265.5" y1="327.7" x2="451.5" y2="327.7" stroke="#a9a9a9" stroke-width="1.0"/><path d="M284.97 327.7v-2.0M284.97 191.5v2.0M308.69 327.7v-2.0M308.69 191.5v2.0M332.41 327.7v-2.0M332.41 191.5v2.0M356.13 327.7v-2.0M356.13 191.5v2.0M379.85 327.7v-2.0M379.85 191.5v2.0M403.56 327.7v-2.0M403.56 191.5v2.0M427.28 327.7v-2.0M427.28 191.5v2.0M451 327.7v-2.0M451 191.5v2.0M266 327.7h2.0M451 327.7h-2.0M266 300.46h2.0M451 300.46h-2.0M266 273.22h2.0M451 273.22h-2.0M266 245.98h2.0M451 245.98h-2.0M266 218.74h2.0M451 218.74h-2.0M266 191.5h2.0M451 191.5h-2.0" stroke="#b0b0b0" stroke-width="0.8" fill="none"/>
<text x="308.69" y="338.6" font-size="8.6" text-anchor="middle" fill="#262626" font-family='"Liberation Sans", sans-serif' >10</text>
<text x="356.13" y="338.6" font-size="8.6" text-anchor="middle" fill="#262626" font-family='"Liberation Sans", sans-serif' >20</text>
<text x="403.56" y="338.6" font-size="8.6" text-anchor="middle" fill="#262626" font-family='"Liberation Sans", sans-serif' >30</text>
<text x="451" y="338.6" font-size="8.6" text-anchor="middle" fill="#262626" font-family='"Liberation Sans", sans-serif' >40</text>
<text x="262.5" y="330.8" font-size="8.6" text-anchor="end" fill="#262626" font-family='"Liberation Sans", sans-serif' >0</text>
<text x="262.5" y="303.56" font-size="8.6" text-anchor="end" fill="#262626" font-family='"Liberation Sans", sans-serif' >0.2</text>
<text x="262.5" y="276.32" font-size="8.6" text-anchor="end" fill="#262626" font-family='"Liberation Sans", sans-serif' >0.4</text>
<text x="262.5" y="249.08" font-size="8.6" text-anchor="end" fill="#262626" font-family='"Liberation Sans", sans-serif' >0.6</text>
<text x="262.5" y="221.84" font-size="8.6" text-anchor="end" fill="#262626" font-family='"Liberation Sans", sans-serif' >0.8</text>
<text x="262.5" y="194.6" font-size="8.6" text-anchor="end" fill="#262626" font-family='"Liberation Sans", sans-serif' >1.0</text>
<text x="332.9" y="349.3" font-size="9.8" font-family='"Liberation Sans", sans-serif' fill="#262626">-</text>
<text x="337.7" y="349.3" font-size="9.8" font-family='"Liberation Sans", sans-serif' fill="#262626">g</text>
<text x="343.4" y="353.6" font-size="7.2" font-family='"Liberation Sans", sans-serif' fill="#262626">1</text>
<text x="351.4" y="349.3" font-size="9.8" font-family='"Liberation Sans", sans-serif' fill="#262626">(meV)</text>
<g transform="translate(244.1 256.7) rotate(-90)"><text x="0" y="0" font-size="10.3" text-anchor="middle" font-family='"Liberation Sans", sans-serif' fill="#262626">Quantum yield <tspan font-family='"Liberation Serif", serif' font-style="italic" font-size="9.2">&#951;</tspan></text></g>
<text x="234.6" y="184.1" font-size="11.2" text-anchor="start" fill="#262626" font-family='"Liberation Sans", sans-serif' >(e)</text>
<clipPath id="clipe"><rect x="266.0" y="191.5" width="185.0" height="136.2"/></clipPath>
<g clip-path="url(#clipe)">
<polyline points="266,297.73 266.62,299.79 267.24,301.66 267.86,303.39 268.47,305.01 269.09,306.55 269.71,308.02 270.33,309.4 270.95,310.69 271.57,311.88 272.19,312.98 272.81,313.98 273.42,314.91 274.04,315.76 274.66,316.54 275.28,317.26 275.9,317.93 276.52,318.55 277.14,319.12 277.76,319.65 278.37,320.13 278.99,320.57 279.61,320.98 280.23,321.35 280.85,321.69 281.47,322 282.09,322.28 282.71,322.54 283.32,322.79 283.94,323.01 284.56,323.22 285.18,323.41 285.8,323.6 286.42,323.77 287.04,323.93 287.66,324.08 288.27,324.23 288.89,324.36 289.51,324.49 290.13,324.61 290.75,324.73 291.37,324.84 291.99,324.94 292.61,325.04 293.22,325.13 293.84,325.22 294.46,325.31 295.08,325.39 295.7,325.47 296.32,325.55 296.94,325.62 297.56,325.69 298.17,325.75 298.79,325.81 299.41,325.87 300.03,325.93 300.65,325.99 301.27,326.04 301.89,326.09 302.51,326.14 303.12,326.18 303.74,326.23 304.36,326.27 304.98,326.31 305.6,326.35 306.22,326.39 306.84,326.42 307.45,326.46 308.07,326.49 308.69,326.52 309.31,326.56 309.93,326.59 310.55,326.61 311.17,326.64 311.79,326.67 312.4,326.69 313.02,326.72 313.64,326.74 314.26,326.77 314.88,326.79 315.5,326.81 316.12,326.83 316.74,326.85 317.35,326.87 317.97,326.89 318.59,326.91 319.21,326.93 319.83,326.95 320.45,326.97 321.07,326.98 321.69,327 322.3,327.02 322.92,327.03 323.54,327.05 324.16,327.06 324.78,327.08 325.4,327.09 326.02,327.1 326.64,327.12 327.25,327.13 327.87,327.14 328.49,327.15 329.11,327.16 329.73,327.18 330.35,327.19 330.97,327.2 331.59,327.21 332.2,327.22 332.82,327.23 333.44,327.24 334.06,327.25 334.68,327.26 335.3,327.27 335.92,327.27 336.54,327.28 337.15,327.29 337.77,327.3 338.39,327.31 339.01,327.31 339.63,327.32 340.25,327.33 340.87,327.34 341.48,327.34 342.1,327.35 342.72,327.36 343.34,327.36 343.96,327.37 344.58,327.37 345.2,327.38 345.82,327.39 346.43,327.39 347.05,327.4 347.67,327.4 348.29,327.41 348.91,327.41 349.53,327.42 350.15,327.42 350.77,327.43 351.38,327.43 352,327.44 352.62,327.44 353.24,327.44 353.86,327.45 354.48,327.45 355.1,327.46 355.72,327.46 356.33,327.46 356.95,327.47 357.57,327.47 358.19,327.47 358.81,327.48 359.43,327.48 360.05,327.49 360.67,327.49 361.28,327.49 361.9,327.49 362.52,327.5 363.14,327.5 363.76,327.5 364.38,327.51 365,327.51 365.62,327.51 366.23,327.52 366.85,327.52 367.47,327.52 368.09,327.52 368.71,327.53 369.33,327.53 369.95,327.53 370.57,327.53 371.18,327.54 371.8,327.54 372.42,327.54 373.04,327.54 373.66,327.54 374.28,327.55 374.9,327.55 375.52,327.55 376.13,327.55 376.75,327.56 377.37,327.56 377.99,327.56 378.61,327.56 379.23,327.56 379.85,327.57 380.46,327.57 381.08,327.57 381.7,327.57 382.32,327.57 382.94,327.57 383.56,327.58 384.18,327.58 384.8,327.58 385.41,327.58 386.03,327.58 386.65,327.59 387.27,327.59 387.89,327.59 388.51,327.59 389.13,327.59 389.75,327.59 390.36,327.59 390.98,327.6 391.6,327.6 392.22,327.6 392.84,327.6 393.46,327.6 394.08,327.6 394.7,327.61 395.31,327.61 395.93,327.61 396.55,327.61 397.17,327.61 397.79,327.61 398.41,327.61 399.03,327.62 399.65,327.62 400.26,327.62 400.88,327.62 401.5,327.62 402.12,327.62 402.74,327.62 403.36,327.62 403.98,327.63 404.6,327.63 405.21,327.63 405.83,327.63 406.45,327.63 407.07,327.63 407.69,327.63 408.31,327.63 408.93,327.64 409.55,327.64 410.16,327.64 410.78,327.64 411.4,327.64 412.02,327.64 412.64,327.64 413.26,327.64 413.88,327.64 414.49,327.65 415.11,327.65 415.73,327.65 416.35,327.65 416.97,327.65 417.59,327.65 418.21,327.65 418.83,327.65 419.44,327.65 420.06,327.66 420.68,327.66 421.3,327.66 421.92,327.66 422.54,327.66 423.16,327.66 423.78,327.66 424.39,327.66 425.01,327.66 425.63,327.66 426.25,327.67 426.87,327.67 427.49,327.67 428.11,327.67 428.73,327.67 429.34,327.67 429.96,327.67 430.58,327.67 431.2,327.67 431.82,327.67 432.44,327.67 433.06,327.68 433.68,327.68 434.29,327.68 434.91,327.68 435.53,327.68 436.15,327.68 436.77,327.68 437.39,327.68 438.01,327.68 438.63,327.68 439.24,327.68 439.86,327.69 440.48,327.69 441.1,327.69 441.72,327.69 442.34,327.69 442.96,327.69 443.58,327.69 444.19,327.69 444.81,327.69 445.43,327.69 446.05,327.69 446.67,327.69 447.29,327.7 447.91,327.7 448.53,327.7 449.14,327.7 449.76,327.7 450.38,327.7 451,327.7" fill="none" stroke="#333333" stroke-width="1.3" stroke-dasharray="3 2.4"/>
<polyline points="266,319.63 266.62,319.49 267.24,319.36 267.86,319.23 268.47,319.1 269.09,318.96 269.71,318.82 270.33,318.68 270.95,318.53 271.57,318.37 272.19,318.21 272.81,318.05 273.42,317.88 274.04,317.71 274.66,317.53 275.28,317.36 275.9,317.18 276.52,316.99 277.14,316.81 277.76,316.62 278.37,316.43 278.99,316.24 279.61,316.05 280.23,315.86 280.85,315.66 281.47,315.46 282.09,315.27 282.71,315.06 283.32,314.86 283.94,314.65 284.56,314.44 285.18,314.23 285.8,314.01 286.42,313.79 287.04,313.56 287.66,313.33 288.27,313.1 288.89,312.87 289.51,312.63 290.13,312.38 290.75,312.14 291.37,311.89 291.99,311.64 292.61,311.38 293.22,311.12 293.84,310.86 294.46,310.59 295.08,310.33 295.7,310.05 296.32,309.78 296.94,309.5 297.56,309.23 298.17,308.94 298.79,308.66 299.41,308.37 300.03,308.08 300.65,307.79 301.27,307.5 301.89,307.2 302.51,306.91 303.12,306.61 303.74,306.31 304.36,306 304.98,305.7 305.6,305.39 306.22,305.08 306.84,304.77 307.45,304.46 308.07,304.15 308.69,303.83 309.31,303.52 309.93,303.2 310.55,302.88 311.17,302.56 311.79,302.24 312.4,301.92 313.02,301.6 313.64,301.27 314.26,300.95 314.88,300.62 315.5,300.29 316.12,299.97 316.74,299.64 317.35,299.31 317.97,298.98 318.59,298.64 319.21,298.31 319.83,297.98 320.45,297.64 321.07,297.31 321.69,296.97 322.3,296.64 322.92,296.3 323.54,295.96 324.16,295.63 324.78,295.29 325.4,294.95 326.02,294.61 326.64,294.27 327.25,293.93 327.87,293.59 328.49,293.25 329.11,292.91 329.73,292.57 330.35,292.23 330.97,291.89 331.59,291.55 332.2,291.2 332.82,290.86 333.44,290.52 334.06,290.18 334.68,289.84 335.3,289.49 335.92,289.15 336.54,288.81 337.15,288.46 337.77,288.12 338.39,287.78 339.01,287.43 339.63,287.09 340.25,286.75 340.87,286.4 341.48,286.06 342.1,285.72 342.72,285.37 343.34,285.03 343.96,284.69 344.58,284.34 345.2,284 345.82,283.66 346.43,283.31 347.05,282.97 347.67,282.63 348.29,282.29 348.91,281.94 349.53,281.6 350.15,281.26 350.77,280.92 351.38,280.58 352,280.24 352.62,279.9 353.24,279.56 353.86,279.22 354.48,278.88 355.1,278.54 355.72,278.21 356.33,277.87 356.95,277.53 357.57,277.2 358.19,276.86 358.81,276.53 359.43,276.19 360.05,275.86 360.67,275.53 361.28,275.19 361.9,274.86 362.52,274.53 363.14,274.2 363.76,273.87 364.38,273.54 365,273.21 365.62,272.89 366.23,272.56 366.85,272.23 367.47,271.91 368.09,271.58 368.71,271.26 369.33,270.94 369.95,270.62 370.57,270.29 371.18,269.97 371.8,269.65 372.42,269.34 373.04,269.02 373.66,268.7 374.28,268.38 374.9,268.07 375.52,267.75 376.13,267.44 376.75,267.13 377.37,266.81 377.99,266.5 378.61,266.19 379.23,265.88 379.85,265.57 380.46,265.27 381.08,264.96 381.7,264.65 382.32,264.35 382.94,264.04 383.56,263.74 384.18,263.44 384.8,263.14 385.41,262.84 386.03,262.54 386.65,262.24 387.27,261.94 387.89,261.64 388.51,261.35 389.13,261.05 389.75,260.76 390.36,260.47 390.98,260.17 391.6,259.88 392.22,259.59 392.84,259.3 393.46,259.01 394.08,258.73 394.7,258.44 395.31,258.15 395.93,257.87 396.55,257.58 397.17,257.3 397.79,257.02 398.41,256.74 399.03,256.46 399.65,256.18 400.26,255.9 400.88,255.62 401.5,255.35 402.12,255.07 402.74,254.8 403.36,254.52 403.98,254.25 404.6,253.98 405.21,253.71 405.83,253.44 406.45,253.17 407.07,252.9 407.69,252.64 408.31,252.37 408.93,252.11 409.55,251.84 410.16,251.58 410.78,251.32 411.4,251.06 412.02,250.8 412.64,250.54 413.26,250.28 413.88,250.02 414.49,249.77 415.11,249.51 415.73,249.26 416.35,249 416.97,248.75 417.59,248.5 418.21,248.25 418.83,248 419.44,247.75 420.06,247.5 420.68,247.26 421.3,247.01 421.92,246.77 422.54,246.52 423.16,246.28 423.78,246.03 424.39,245.79 425.01,245.55 425.63,245.31 426.25,245.07 426.87,244.84 427.49,244.6 428.11,244.36 428.73,244.13 429.34,243.89 429.96,243.66 430.58,243.42 431.2,243.19 431.82,242.96 432.44,242.73 433.06,242.5 433.68,242.27 434.29,242.04 434.91,241.82 435.53,241.59 436.15,241.36 436.77,241.14 437.39,240.91 438.01,240.69 438.63,240.47 439.24,240.25 439.86,240.03 440.48,239.81 441.1,239.59 441.72,239.37 442.34,239.15 442.96,238.93 443.58,238.72 444.19,238.5 444.81,238.29 445.43,238.07 446.05,237.86 446.67,237.64 447.29,237.43 447.91,237.22 448.53,237.01 449.14,236.8 449.76,236.59 450.38,236.38 451,236.17" fill="none" stroke="#3db68e" stroke-width="1.3" stroke-dasharray="3 2.4"/>
<polyline points="266,324.83 266.62,324.6 267.24,324.38 267.86,324.17 268.47,323.96 269.09,323.74 269.71,323.53 270.33,323.31 270.95,323.08 271.57,322.85 272.19,322.62 272.81,322.38 273.42,322.13 274.04,321.89 274.66,321.64 275.28,321.39 275.9,321.13 276.52,320.87 277.14,320.61 277.76,320.35 278.37,320.09 278.99,319.82 279.61,319.56 280.23,319.29 280.85,319.02 281.47,318.75 282.09,318.48 282.71,318.21 283.32,317.93 283.94,317.65 284.56,317.36 285.18,317.07 285.8,316.78 286.42,316.49 287.04,316.19 287.66,315.88 288.27,315.58 288.89,315.27 289.51,314.95 290.13,314.63 290.75,314.31 291.37,313.99 291.99,313.66 292.61,313.33 293.22,312.99 293.84,312.65 294.46,312.31 295.08,311.97 295.7,311.62 296.32,311.27 296.94,310.92 297.56,310.56 298.17,310.2 298.79,309.84 299.41,309.48 300.03,309.11 300.65,308.74 301.27,308.37 301.89,308 302.51,307.62 303.12,307.25 303.74,306.86 304.36,306.48 304.98,306.1 305.6,305.71 306.22,305.32 306.84,304.93 307.45,304.54 308.07,304.14 308.69,303.74 309.31,303.35 309.93,302.95 310.55,302.54 311.17,302.14 311.79,301.73 312.4,301.33 313.02,300.92 313.64,300.51 314.26,300.1 314.88,299.69 315.5,299.27 316.12,298.86 316.74,298.44 317.35,298.02 317.97,297.6 318.59,297.18 319.21,296.76 319.83,296.34 320.45,295.92 321.07,295.49 321.69,295.07 322.3,294.65 322.92,294.22 323.54,293.8 324.16,293.37 324.78,292.95 325.4,292.52 326.02,292.1 326.64,291.67 327.25,291.25 327.87,290.82 328.49,290.4 329.11,289.97 329.73,289.55 330.35,289.13 330.97,288.7 331.59,288.28 332.2,287.86 332.82,287.44 333.44,287.02 334.06,286.6 334.68,286.18 335.3,285.76 335.92,285.34 336.54,284.92 337.15,284.51 337.77,284.09 338.39,283.68 339.01,283.26 339.63,282.85 340.25,282.44 340.87,282.03 341.48,281.62 342.1,281.21 342.72,280.8 343.34,280.4 343.96,279.99 344.58,279.59 345.2,279.18 345.82,278.78 346.43,278.38 347.05,277.98 347.67,277.58 348.29,277.18 348.91,276.78 349.53,276.39 350.15,275.99 350.77,275.6 351.38,275.21 352,274.82 352.62,274.43 353.24,274.04 353.86,273.65 354.48,273.27 355.1,272.88 355.72,272.5 356.33,272.12 356.95,271.74 357.57,271.36 358.19,270.98 358.81,270.61 359.43,270.23 360.05,269.86 360.67,269.49 361.28,269.12 361.9,268.75 362.52,268.38 363.14,268.01 363.76,267.65 364.38,267.29 365,266.92 365.62,266.56 366.23,266.2 366.85,265.85 367.47,265.49 368.09,265.14 368.71,264.78 369.33,264.43 369.95,264.08 370.57,263.73 371.18,263.38 371.8,263.04 372.42,262.69 373.04,262.35 373.66,262 374.28,261.66 374.9,261.32 375.52,260.99 376.13,260.65 376.75,260.31 377.37,259.98 377.99,259.65 378.61,259.32 379.23,258.99 379.85,258.66 380.46,258.33 381.08,258 381.7,257.68 382.32,257.36 382.94,257.03 383.56,256.71 384.18,256.39 384.8,256.08 385.41,255.76 386.03,255.44 386.65,255.13 387.27,254.82 387.89,254.5 388.51,254.19 389.13,253.88 389.75,253.58 390.36,253.27 390.98,252.96 391.6,252.66 392.22,252.36 392.84,252.05 393.46,251.75 394.08,251.45 394.7,251.15 395.31,250.86 395.93,250.56 396.55,250.27 397.17,249.97 397.79,249.68 398.41,249.39 399.03,249.1 399.65,248.81 400.26,248.52 400.88,248.24 401.5,247.95 402.12,247.67 402.74,247.38 403.36,247.1 403.98,246.82 404.6,246.54 405.21,246.26 405.83,245.98 406.45,245.71 407.07,245.43 407.69,245.16 408.31,244.88 408.93,244.61 409.55,244.34 410.16,244.07 410.78,243.8 411.4,243.53 412.02,243.27 412.64,243 413.26,242.74 413.88,242.47 414.49,242.21 415.11,241.95 415.73,241.69 416.35,241.43 416.97,241.17 417.59,240.91 418.21,240.66 418.83,240.4 419.44,240.15 420.06,239.89 420.68,239.64 421.3,239.39 421.92,239.14 422.54,238.89 423.16,238.64 423.78,238.39 424.39,238.15 425.01,237.9 425.63,237.66 426.25,237.41 426.87,237.17 427.49,236.93 428.11,236.69 428.73,236.44 429.34,236.21 429.96,235.97 430.58,235.73 431.2,235.49 431.82,235.26 432.44,235.02 433.06,234.79 433.68,234.55 434.29,234.32 434.91,234.09 435.53,233.86 436.15,233.63 436.77,233.4 437.39,233.17 438.01,232.94 438.63,232.72 439.24,232.49 439.86,232.26 440.48,232.04 441.1,231.82 441.72,231.59 442.34,231.37 442.96,231.15 443.58,230.93 444.19,230.71 444.81,230.49 445.43,230.27 446.05,230.06 446.67,229.84 447.29,229.62 447.91,229.41 448.53,229.19 449.14,228.98 449.76,228.76 450.38,228.55 451,228.34" fill="none" stroke="#3db68e" stroke-width="1.3"/>
<polyline points="266,318.15 266.62,317.34 267.24,316.56 267.86,315.79 268.47,314.99 269.09,314.16 269.71,313.3 270.33,312.39 270.95,311.45 271.57,310.48 272.19,309.47 272.81,308.43 273.42,307.36 274.04,306.27 274.66,305.15 275.28,304.01 275.9,302.86 276.52,301.7 277.14,300.53 277.76,299.35 278.37,298.18 278.99,297.01 279.61,295.84 280.23,294.67 280.85,293.51 281.47,292.36 282.09,291.22 282.71,290.08 283.32,288.96 283.94,287.84 284.56,286.73 285.18,285.64 285.8,284.55 286.42,283.47 287.04,282.41 287.66,281.36 288.27,280.32 288.89,279.29 289.51,278.28 290.13,277.27 290.75,276.28 291.37,275.31 291.99,274.35 292.61,273.4 293.22,272.46 293.84,271.54 294.46,270.63 295.08,269.73 295.7,268.85 296.32,267.97 296.94,267.12 297.56,266.27 298.17,265.43 298.79,264.61 299.41,263.8 300.03,263.01 300.65,262.22 301.27,261.45 301.89,260.68 302.51,259.93 303.12,259.19 303.74,258.46 304.36,257.74 304.98,257.03 305.6,256.33 306.22,255.64 306.84,254.96 307.45,254.29 308.07,253.63 308.69,252.98 309.31,252.33 309.93,251.7 310.55,251.08 311.17,250.46 311.79,249.85 312.4,249.26 313.02,248.67 313.64,248.08 314.26,247.51 314.88,246.94 315.5,246.38 316.12,245.83 316.74,245.29 317.35,244.75 317.97,244.22 318.59,243.7 319.21,243.19 319.83,242.68 320.45,242.17 321.07,241.68 321.69,241.19 322.3,240.71 322.92,240.23 323.54,239.76 324.16,239.3 324.78,238.84 325.4,238.39 326.02,237.94 326.64,237.5 327.25,237.07 327.87,236.64 328.49,236.22 329.11,235.8 329.73,235.39 330.35,234.98 330.97,234.58 331.59,234.18 332.2,233.79 332.82,233.4 333.44,233.02 334.06,232.64 334.68,232.27 335.3,231.9 335.92,231.53 336.54,231.18 337.15,230.82 337.77,230.47 338.39,230.13 339.01,229.78 339.63,229.45 340.25,229.12 340.87,228.79 341.48,228.46 342.1,228.14 342.72,227.83 343.34,227.52 343.96,227.21 344.58,226.91 345.2,226.61 345.82,226.31 346.43,226.02 347.05,225.73 347.67,225.45 348.29,225.16 348.91,224.89 349.53,224.61 350.15,224.34 350.77,224.08 351.38,223.82 352,223.56 352.62,223.3 353.24,223.05 353.86,222.8 354.48,222.55 355.1,222.31 355.72,222.07 356.33,221.83 356.95,221.6 357.57,221.37 358.19,221.14 358.81,220.92 359.43,220.7 360.05,220.48 360.67,220.26 361.28,220.05 361.9,219.84 362.52,219.63 363.14,219.43 363.76,219.22 364.38,219.02 365,218.83 365.62,218.63 366.23,218.44 366.85,218.25 367.47,218.06 368.09,217.88 368.71,217.7 369.33,217.52 369.95,217.34 370.57,217.16 371.18,216.99 371.8,216.82 372.42,216.65 373.04,216.48 373.66,216.32 374.28,216.15 374.9,215.99 375.52,215.83 376.13,215.68 376.75,215.52 377.37,215.37 377.99,215.22 378.61,215.07 379.23,214.92 379.85,214.77 380.46,214.63 381.08,214.49 381.7,214.34 382.32,214.21 382.94,214.07 383.56,213.93 384.18,213.8 384.8,213.66 385.41,213.53 386.03,213.4 386.65,213.27 387.27,213.14 387.89,213.02 388.51,212.89 389.13,212.77 389.75,212.65 390.36,212.53 390.98,212.41 391.6,212.29 392.22,212.17 392.84,212.06 393.46,211.94 394.08,211.83 394.7,211.72 395.31,211.6 395.93,211.49 396.55,211.38 397.17,211.28 397.79,211.17 398.41,211.06 399.03,210.96 399.65,210.85 400.26,210.75 400.88,210.65 401.5,210.55 402.12,210.45 402.74,210.35 403.36,210.25 403.98,210.15 404.6,210.06 405.21,209.96 405.83,209.86 406.45,209.77 407.07,209.68 407.69,209.58 408.31,209.49 408.93,209.4 409.55,209.31 410.16,209.22 410.78,209.13 411.4,209.04 412.02,208.96 412.64,208.87 413.26,208.78 413.88,208.7 414.49,208.61 415.11,208.53 415.73,208.45 416.35,208.36 416.97,208.28 417.59,208.2 418.21,208.12 418.83,208.04 419.44,207.96 420.06,207.88 420.68,207.8 421.3,207.72 421.92,207.64 422.54,207.56 423.16,207.49 423.78,207.41 424.39,207.33 425.01,207.26 425.63,207.18 426.25,207.11 426.87,207.04 427.49,206.96 428.11,206.89 428.73,206.81 429.34,206.74 429.96,206.67 430.58,206.6 431.2,206.53 431.82,206.46 432.44,206.39 433.06,206.32 433.68,206.25 434.29,206.18 434.91,206.11 435.53,206.04 436.15,205.97 436.77,205.9 437.39,205.83 438.01,205.77 438.63,205.7 439.24,205.63 439.86,205.57 440.48,205.5 441.1,205.43 441.72,205.37 442.34,205.3 442.96,205.24 443.58,205.17 444.19,205.11 444.81,205.04 445.43,204.98 446.05,204.91 446.67,204.85 447.29,204.79 447.91,204.72 448.53,204.66 449.14,204.6 449.76,204.54 450.38,204.47 451,204.41" fill="none" stroke="#e2486c" stroke-width="1.3" stroke-dasharray="3 2.4"/>
<polyline points="266,322.31 266.62,320.43 267.24,318.7 267.86,317.05 268.47,315.45 269.09,313.87 269.71,312.31 270.33,310.74 270.95,309.17 271.57,307.59 272.19,306.01 272.81,304.41 273.42,302.82 274.04,301.23 274.66,299.65 275.28,298.09 275.9,296.53 276.52,294.99 277.14,293.46 277.76,291.95 278.37,290.46 278.99,288.99 279.61,287.53 280.23,286.09 280.85,284.67 281.47,283.27 282.09,281.89 282.71,280.53 283.32,279.19 283.94,277.87 284.56,276.58 285.18,275.3 285.8,274.05 286.42,272.82 287.04,271.62 287.66,270.43 288.27,269.27 288.89,268.12 289.51,267 290.13,265.9 290.75,264.82 291.37,263.75 291.99,262.71 292.61,261.69 293.22,260.68 293.84,259.69 294.46,258.72 295.08,257.77 295.7,256.83 296.32,255.91 296.94,255 297.56,254.11 298.17,253.23 298.79,252.37 299.41,251.52 300.03,250.68 300.65,249.86 301.27,249.05 301.89,248.26 302.51,247.48 303.12,246.7 303.74,245.94 304.36,245.2 304.98,244.46 305.6,243.73 306.22,243.02 306.84,242.32 307.45,241.62 308.07,240.94 308.69,240.26 309.31,239.6 309.93,238.95 310.55,238.3 311.17,237.67 311.79,237.04 312.4,236.43 313.02,235.82 313.64,235.22 314.26,234.63 314.88,234.04 315.5,233.47 316.12,232.9 316.74,232.35 317.35,231.8 317.97,231.26 318.59,230.72 319.21,230.2 319.83,229.68 320.45,229.17 321.07,228.67 321.69,228.17 322.3,227.69 322.92,227.21 323.54,226.74 324.16,226.28 324.78,225.82 325.4,225.37 326.02,224.93 326.64,224.5 327.25,224.07 327.87,223.65 328.49,223.24 329.11,222.84 329.73,222.44 330.35,222.05 330.97,221.67 331.59,221.29 332.2,220.92 332.82,220.56 333.44,220.2 334.06,219.85 334.68,219.5 335.3,219.17 335.92,218.83 336.54,218.51 337.15,218.19 337.77,217.87 338.39,217.56 339.01,217.26 339.63,216.96 340.25,216.67 340.87,216.38 341.48,216.09 342.1,215.82 342.72,215.54 343.34,215.28 343.96,215.01 344.58,214.75 345.2,214.5 345.82,214.25 346.43,214 347.05,213.76 347.67,213.53 348.29,213.29 348.91,213.07 349.53,212.84 350.15,212.62 350.77,212.41 351.38,212.2 352,211.99 352.62,211.78 353.24,211.58 353.86,211.39 354.48,211.19 355.1,211 355.72,210.82 356.33,210.63 356.95,210.45 357.57,210.28 358.19,210.1 358.81,209.93 359.43,209.77 360.05,209.6 360.67,209.44 361.28,209.28 361.9,209.12 362.52,208.97 363.14,208.82 363.76,208.67 364.38,208.53 365,208.38 365.62,208.24 366.23,208.1 366.85,207.97 367.47,207.83 368.09,207.7 368.71,207.57 369.33,207.45 369.95,207.32 370.57,207.2 371.18,207.08 371.8,206.96 372.42,206.84 373.04,206.73 373.66,206.62 374.28,206.5 374.9,206.39 375.52,206.29 376.13,206.18 376.75,206.08 377.37,205.97 377.99,205.87 378.61,205.78 379.23,205.68 379.85,205.58 380.46,205.49 381.08,205.39 381.7,205.3 382.32,205.21 382.94,205.12 383.56,205.04 384.18,204.95 384.8,204.87 385.41,204.78 386.03,204.7 386.65,204.62 387.27,204.54 387.89,204.46 388.51,204.39 389.13,204.31 389.75,204.24 390.36,204.16 390.98,204.09 391.6,204.02 392.22,203.95 392.84,203.88 393.46,203.81 394.08,203.74 394.7,203.68 395.31,203.61 395.93,203.55 396.55,203.48 397.17,203.42 397.79,203.36 398.41,203.3 399.03,203.24 399.65,203.18 400.26,203.12 400.88,203.06 401.5,203 402.12,202.95 402.74,202.89 403.36,202.83 403.98,202.78 404.6,202.73 405.21,202.67 405.83,202.62 406.45,202.57 407.07,202.52 407.69,202.47 408.31,202.42 408.93,202.37 409.55,202.32 410.16,202.27 410.78,202.22 411.4,202.17 412.02,202.13 412.64,202.08 413.26,202.03 413.88,201.99 414.49,201.94 415.11,201.9 415.73,201.86 416.35,201.81 416.97,201.77 417.59,201.73 418.21,201.68 418.83,201.64 419.44,201.6 420.06,201.56 420.68,201.52 421.3,201.48 421.92,201.44 422.54,201.4 423.16,201.36 423.78,201.32 424.39,201.28 425.01,201.24 425.63,201.21 426.25,201.17 426.87,201.13 427.49,201.09 428.11,201.06 428.73,201.02 429.34,200.98 429.96,200.95 430.58,200.91 431.2,200.88 431.82,200.84 432.44,200.81 433.06,200.77 433.68,200.74 434.29,200.7 434.91,200.67 435.53,200.63 436.15,200.6 436.77,200.57 437.39,200.53 438.01,200.5 438.63,200.47 439.24,200.43 439.86,200.4 440.48,200.37 441.1,200.34 441.72,200.31 442.34,200.27 442.96,200.24 443.58,200.21 444.19,200.18 444.81,200.15 445.43,200.12 446.05,200.09 446.67,200.05 447.29,200.02 447.91,199.99 448.53,199.96 449.14,199.93 449.76,199.9 450.38,199.87 451,199.84" fill="none" stroke="#e2486c" stroke-width="1.3"/>
<polyline points="266,300.58 266.62,296.62 267.24,293.02 267.86,289.63 268.47,286.39 269.09,283.24 269.71,280.14 270.33,277.04 270.95,273.93 271.57,270.8 272.19,267.65 272.81,264.47 273.42,261.33 274.04,258.25 274.66,255.26 275.28,252.36 275.9,249.59 276.52,246.94 277.14,244.41 277.76,242.02 278.37,239.76 278.99,237.62 279.61,235.61 280.23,233.71 280.85,231.92 281.47,230.24 282.09,228.66 282.71,227.19 283.32,225.81 283.94,224.52 284.56,223.32 285.18,222.2 285.8,221.16 286.42,220.2 287.04,219.3 287.66,218.46 288.27,217.68 288.89,216.95 289.51,216.27 290.13,215.63 290.75,215.03 291.37,214.47 291.99,213.95 292.61,213.46 293.22,213 293.84,212.56 294.46,212.16 295.08,211.77 295.7,211.42 296.32,211.08 296.94,210.76 297.56,210.47 298.17,210.19 298.79,209.93 299.41,209.69 300.03,209.46 300.65,209.24 301.27,209.04 301.89,208.86 302.51,208.68 303.12,208.52 303.74,208.37 304.36,208.22 304.98,208.09 305.6,207.97 306.22,207.86 306.84,207.75 307.45,207.65 308.07,207.56 308.69,207.48 309.31,207.4 309.93,207.33 310.55,207.27 311.17,207.21 311.79,207.16 312.4,207.11 313.02,207.07 313.64,207.03 314.26,206.99 314.88,206.96 315.5,206.94 316.12,206.92 316.74,206.9 317.35,206.89 317.97,206.88 318.59,206.88 319.21,206.88 319.83,206.88 320.45,206.89 321.07,206.9 321.69,206.91 322.3,206.93 322.92,206.95 323.54,206.98 324.16,207.01 324.78,207.04 325.4,207.08 326.02,207.12 326.64,207.16 327.25,207.2 327.87,207.25 328.49,207.3 329.11,207.36 329.73,207.41 330.35,207.47 330.97,207.54 331.59,207.6 332.2,207.67 332.82,207.74 333.44,207.81 334.06,207.88 334.68,207.96 335.3,208.03 335.92,208.11 336.54,208.19 337.15,208.28 337.77,208.36 338.39,208.45 339.01,208.54 339.63,208.63 340.25,208.72 340.87,208.81 341.48,208.91 342.1,209 342.72,209.1 343.34,209.2 343.96,209.29 344.58,209.4 345.2,209.5 345.82,209.6 346.43,209.7 347.05,209.81 347.67,209.91 348.29,210.02 348.91,210.13 349.53,210.24 350.15,210.34 350.77,210.45 351.38,210.57 352,210.68 352.62,210.79 353.24,210.9 353.86,211.02 354.48,211.13 355.1,211.25 355.72,211.36 356.33,211.48 356.95,211.6 357.57,211.71 358.19,211.83 358.81,211.95 359.43,212.07 360.05,212.19 360.67,212.32 361.28,212.44 361.9,212.56 362.52,212.68 363.14,212.81 363.76,212.93 364.38,213.06 365,213.18 365.62,213.31 366.23,213.44 366.85,213.57 367.47,213.69 368.09,213.82 368.71,213.95 369.33,214.08 369.95,214.21 370.57,214.35 371.18,214.48 371.8,214.61 372.42,214.74 373.04,214.88 373.66,215.01 374.28,215.15 374.9,215.28 375.52,215.42 376.13,215.55 376.75,215.69 377.37,215.83 377.99,215.97 378.61,216.1 379.23,216.24 379.85,216.38 380.46,216.52 381.08,216.66 381.7,216.8 382.32,216.95 382.94,217.09 383.56,217.23 384.18,217.37 384.8,217.51 385.41,217.66 386.03,217.8 386.65,217.94 387.27,218.09 387.89,218.23 388.51,218.38 389.13,218.52 389.75,218.67 390.36,218.81 390.98,218.96 391.6,219.1 392.22,219.25 392.84,219.39 393.46,219.54 394.08,219.69 394.7,219.83 395.31,219.98 395.93,220.13 396.55,220.27 397.17,220.42 397.79,220.57 398.41,220.71 399.03,220.86 399.65,221.01 400.26,221.16 400.88,221.3 401.5,221.45 402.12,221.6 402.74,221.75 403.36,221.89 403.98,222.04 404.6,222.19 405.21,222.34 405.83,222.48 406.45,222.63 407.07,222.78 407.69,222.93 408.31,223.07 408.93,223.22 409.55,223.37 410.16,223.52 410.78,223.67 411.4,223.81 412.02,223.96 412.64,224.11 413.26,224.25 413.88,224.4 414.49,224.55 415.11,224.7 415.73,224.84 416.35,224.99 416.97,225.14 417.59,225.28 418.21,225.43 418.83,225.57 419.44,225.72 420.06,225.87 420.68,226.01 421.3,226.16 421.92,226.3 422.54,226.45 423.16,226.59 423.78,226.73 424.39,226.88 425.01,227.02 425.63,227.17 426.25,227.31 426.87,227.45 427.49,227.6 428.11,227.74 428.73,227.88 429.34,228.02 429.96,228.16 430.58,228.3 431.2,228.45 431.82,228.59 432.44,228.73 433.06,228.87 433.68,229.01 434.29,229.15 434.91,229.29 435.53,229.42 436.15,229.56 436.77,229.7 437.39,229.84 438.01,229.97 438.63,230.11 439.24,230.25 439.86,230.38 440.48,230.52 441.1,230.66 441.72,230.79 442.34,230.93 442.96,231.06 443.58,231.19 444.19,231.33 444.81,231.46 445.43,231.59 446.05,231.73 446.67,231.86 447.29,231.99 447.91,232.12 448.53,232.25 449.14,232.38 449.76,232.51 450.38,232.64 451,232.77" fill="none" stroke="#2e5486" stroke-width="1.3" stroke-dasharray="3 2.4"/>
<polyline points="266,293.05 266.62,287.22 267.24,281.96 267.86,277.12 268.47,272.61 269.09,268.35 269.71,264.29 270.33,260.4 270.95,256.64 271.57,253.02 272.19,249.55 272.81,246.25 273.42,243.11 274.04,240.15 274.66,237.35 275.28,234.73 275.9,232.27 276.52,229.97 277.14,227.84 277.76,225.85 278.37,224.02 278.99,222.33 279.61,220.77 280.23,219.34 280.85,218.02 281.47,216.8 282.09,215.67 282.71,214.63 283.32,213.67 283.94,212.78 284.56,211.95 285.18,211.19 285.8,210.49 286.42,209.83 287.04,209.22 287.66,208.66 288.27,208.14 288.89,207.65 289.51,207.2 290.13,206.78 290.75,206.38 291.37,206.02 291.99,205.67 292.61,205.36 293.22,205.06 293.84,204.78 294.46,204.52 295.08,204.28 295.7,204.05 296.32,203.84 296.94,203.64 297.56,203.45 298.17,203.28 298.79,203.11 299.41,202.96 300.03,202.81 300.65,202.68 301.27,202.55 301.89,202.43 302.51,202.32 303.12,202.22 303.74,202.12 304.36,202.03 304.98,201.94 305.6,201.86 306.22,201.78 306.84,201.71 307.45,201.65 308.07,201.59 308.69,201.53 309.31,201.48 309.93,201.43 310.55,201.39 311.17,201.34 311.79,201.31 312.4,201.27 313.02,201.24 313.64,201.21 314.26,201.19 314.88,201.17 315.5,201.15 316.12,201.13 316.74,201.12 317.35,201.11 317.97,201.11 318.59,201.11 319.21,201.11 319.83,201.11 320.45,201.12 321.07,201.13 321.69,201.14 322.3,201.16 322.92,201.17 323.54,201.2 324.16,201.22 324.78,201.25 325.4,201.28 326.02,201.31 326.64,201.35 327.25,201.39 327.87,201.43 328.49,201.47 329.11,201.51 329.73,201.56 330.35,201.61 330.97,201.66 331.59,201.72 332.2,201.77 332.82,201.83 333.44,201.89 334.06,201.95 334.68,202.01 335.3,202.08 335.92,202.15 336.54,202.21 337.15,202.28 337.77,202.36 338.39,202.43 339.01,202.5 339.63,202.58 340.25,202.66 340.87,202.74 341.48,202.82 342.1,202.9 342.72,202.98 343.34,203.07 343.96,203.15 344.58,203.24 345.2,203.33 345.82,203.42 346.43,203.51 347.05,203.6 347.67,203.7 348.29,203.79 348.91,203.89 349.53,203.99 350.15,204.09 350.77,204.19 351.38,204.29 352,204.4 352.62,204.5 353.24,204.61 353.86,204.72 354.48,204.83 355.1,204.94 355.72,205.05 356.33,205.17 356.95,205.28 357.57,205.4 358.19,205.52 358.81,205.64 359.43,205.76 360.05,205.89 360.67,206.01 361.28,206.14 361.9,206.26 362.52,206.39 363.14,206.52 363.76,206.65 364.38,206.79 365,206.92 365.62,207.05 366.23,207.19 366.85,207.33 367.47,207.47 368.09,207.61 368.71,207.75 369.33,207.89 369.95,208.04 370.57,208.18 371.18,208.33 371.8,208.48 372.42,208.63 373.04,208.78 373.66,208.93 374.28,209.08 374.9,209.24 375.52,209.39 376.13,209.55 376.75,209.7 377.37,209.86 377.99,210.02 378.61,210.17 379.23,210.33 379.85,210.49 380.46,210.65 381.08,210.81 381.7,210.97 382.32,211.13 382.94,211.29 383.56,211.46 384.18,211.62 384.8,211.78 385.41,211.94 386.03,212.11 386.65,212.27 387.27,212.43 387.89,212.6 388.51,212.76 389.13,212.93 389.75,213.09 390.36,213.25 390.98,213.42 391.6,213.58 392.22,213.75 392.84,213.91 393.46,214.07 394.08,214.24 394.7,214.4 395.31,214.56 395.93,214.73 396.55,214.89 397.17,215.05 397.79,215.22 398.41,215.38 399.03,215.54 399.65,215.71 400.26,215.87 400.88,216.03 401.5,216.19 402.12,216.35 402.74,216.51 403.36,216.67 403.98,216.83 404.6,216.99 405.21,217.15 405.83,217.31 406.45,217.47 407.07,217.63 407.69,217.79 408.31,217.94 408.93,218.1 409.55,218.26 410.16,218.41 410.78,218.57 411.4,218.73 412.02,218.88 412.64,219.04 413.26,219.19 413.88,219.34 414.49,219.5 415.11,219.65 415.73,219.8 416.35,219.96 416.97,220.11 417.59,220.26 418.21,220.41 418.83,220.56 419.44,220.71 420.06,220.86 420.68,221.01 421.3,221.16 421.92,221.31 422.54,221.46 423.16,221.61 423.78,221.76 424.39,221.9 425.01,222.05 425.63,222.2 426.25,222.34 426.87,222.49 427.49,222.63 428.11,222.78 428.73,222.92 429.34,223.07 429.96,223.21 430.58,223.35 431.2,223.5 431.82,223.64 432.44,223.78 433.06,223.92 433.68,224.06 434.29,224.21 434.91,224.35 435.53,224.49 436.15,224.63 436.77,224.76 437.39,224.9 438.01,225.04 438.63,225.18 439.24,225.32 439.86,225.45 440.48,225.59 441.1,225.73 441.72,225.86 442.34,226 442.96,226.13 443.58,226.27 444.19,226.4 444.81,226.53 445.43,226.67 446.05,226.8 446.67,226.93 447.29,227.06 447.91,227.2 448.53,227.33 449.14,227.46 449.76,227.59 450.38,227.72 451,227.85" fill="none" stroke="#2e5486" stroke-width="1.3"/>
</g>
<line x1="401.5" y1="261.7" x2="412.8" y2="261.7" stroke="#2e5486" stroke-width="1.4"/>
<text x="417.7" y="264.3" font-size="7.4" font-family='"Liberation Sans", sans-serif' fill="#262626">Q<tspan font-size="5" dy="1.8">c</tspan><tspan dy="-1.8"> = 10</tspan><tspan font-size="5" dy="-3">5</tspan></text>
<line x1="401.5" y1="271.38" x2="412.8" y2="271.38" stroke="#e2486c" stroke-width="1.4"/>
<text x="417.7" y="273.98" font-size="7.4" font-family='"Liberation Sans", sans-serif' fill="#262626">Q<tspan font-size="5" dy="1.8">c</tspan><tspan dy="-1.8"> = 10</tspan><tspan font-size="5" dy="-3">4</tspan></text>
<line x1="401.5" y1="281.06" x2="412.8" y2="281.06" stroke="#3db68e" stroke-width="1.4"/>
<text x="417.7" y="283.66" font-size="7.4" font-family='"Liberation Sans", sans-serif' fill="#262626">Q<tspan font-size="5" dy="1.8">c</tspan><tspan dy="-1.8"> = 10</tspan><tspan font-size="5" dy="-3">3</tspan></text>
<line x1="401.5" y1="290.74" x2="412.8" y2="290.74" stroke="#333333" stroke-width="1.4" stroke-dasharray="4.4 2.8"/>
<text x="417.7" y="293.34" font-size="7.4" font-family='"Liberation Sans", sans-serif' fill="#262626">w/o CEP</text>
<line x1="377.9" y1="300.42" x2="390.3" y2="300.42" stroke="#2e5486" stroke-width="1.4" stroke-dasharray="4.4 2.8"/>
<text x="394.8" y="303.02" font-size="7.4" font-family='"Liberation Sans", sans-serif' fill="#262626">QuTip, Q<tspan font-size="5" dy="1.8">c</tspan><tspan dy="-1.8"> = 10</tspan><tspan font-size="5" dy="-3">5</tspan></text>
<line x1="377.9" y1="310.1" x2="390.3" y2="310.1" stroke="#e2486c" stroke-width="1.4" stroke-dasharray="4.4 2.8"/>
<text x="394.8" y="312.7" font-size="7.4" font-family='"Liberation Sans", sans-serif' fill="#262626">QuTip, Q<tspan font-size="5" dy="1.8">c</tspan><tspan dy="-1.8"> = 10</tspan><tspan font-size="5" dy="-3">4</tspan></text>
<line x1="377.9" y1="319.78" x2="390.3" y2="319.78" stroke="#3db68e" stroke-width="1.4" stroke-dasharray="4.4 2.8"/>
<text x="394.8" y="322.38" font-size="7.4" font-family='"Liberation Sans", sans-serif' fill="#262626">QuTip, Q<tspan font-size="5" dy="1.8">c</tspan><tspan dy="-1.8"> = 10</tspan><tspan font-size="5" dy="-3">3</tspan></text>
<line x1="492.3" y1="191.3" x2="492.3" y2="327.9" stroke="#d9d9d9" stroke-width="1.3"/><line x1="676.5" y1="191.3" x2="676.5" y2="327.9" stroke="#d2d2d2" stroke-width="1.0"/><line x1="492.3" y1="191.3" x2="676.5" y2="191.3" stroke="#c6c6c6" stroke-width="1.0"/><line x1="491.8" y1="327.9" x2="677" y2="327.9" stroke="#a9a9a9" stroke-width="1.0"/><path d="M509.72 327.9v-2.0M509.72 191.3v2.0M534.62 327.9v-2.0M534.62 191.3v2.0M559.51 327.9v-2.0M559.51 191.3v2.0M584.4 327.9v-2.0M584.4 191.3v2.0M609.29 327.9v-2.0M609.29 191.3v2.0M634.18 327.9v-2.0M634.18 191.3v2.0M659.08 327.9v-2.0M659.08 191.3v2.0M492.3 327.9h2.0M676.5 327.9h-2.0M492.3 300.58h2.0M676.5 300.58h-2.0M492.3 273.26h2.0M676.5 273.26h-2.0M492.3 245.94h2.0M676.5 245.94h-2.0M492.3 218.62h2.0M676.5 218.62h-2.0M492.3 191.3h2.0M676.5 191.3h-2.0" stroke="#b0b0b0" stroke-width="0.8" fill="none"/>
<text x="509.72" y="338.6" font-size="8.6" text-anchor="middle" fill="#262626" font-family='"Liberation Sans", sans-serif' >-0.3</text>
<text x="534.62" y="338.6" font-size="8.6" text-anchor="middle" fill="#262626" font-family='"Liberation Sans", sans-serif' >-0.2</text>
<text x="559.51" y="338.6" font-size="8.6" text-anchor="middle" fill="#262626" font-family='"Liberation Sans", sans-serif' >-0.1</text>
<text x="584.4" y="338.6" font-size="8.6" text-anchor="middle" fill="#262626" font-family='"Liberation Sans", sans-serif' >0</text>
<text x="609.29" y="338.6" font-size="8.6" text-anchor="middle" fill="#262626" font-family='"Liberation Sans", sans-serif' >0.1</text>
<text x="634.18" y="338.6" font-size="8.6" text-anchor="middle" fill="#262626" font-family='"Liberation Sans", sans-serif' >0.2</text>
<text x="659.08" y="338.6" font-size="8.6" text-anchor="middle" fill="#262626" font-family='"Liberation Sans", sans-serif' >0.3</text>
<text x="489" y="331" font-size="8.6" text-anchor="end" fill="#262626" font-family='"Liberation Sans", sans-serif' >0</text>
<text x="489" y="303.68" font-size="8.6" text-anchor="end" fill="#262626" font-family='"Liberation Sans", sans-serif' >0.2</text>
<text x="489" y="276.36" font-size="8.6" text-anchor="end" fill="#262626" font-family='"Liberation Sans", sans-serif' >0.4</text>
<text x="489" y="249.04" font-size="8.6" text-anchor="end" fill="#262626" font-family='"Liberation Sans", sans-serif' >0.6</text>
<text x="489" y="221.72" font-size="8.6" text-anchor="end" fill="#262626" font-family='"Liberation Sans", sans-serif' >0.8</text>
<text x="489" y="194.4" font-size="8.6" text-anchor="end" fill="#262626" font-family='"Liberation Sans", sans-serif' >1.0</text>
<text x="563" y="350.6" font-size="10.6" font-family='"Liberation Sans", sans-serif' fill="#262626">&#916;</text>
<text x="571.1" y="353.8" font-size="7" font-style="italic" font-family='"Liberation Sans", sans-serif' fill="#262626">L</text>
<text x="579.1" y="349.4" font-size="9.8" font-family='"Liberation Sans", sans-serif' fill="#262626">(meV)</text>
<g transform="translate(470.4 256.7) rotate(-90)"><text x="0" y="0" font-size="10.3" text-anchor="middle" font-family='"Liberation Sans", sans-serif' fill="#262626">Quantum yield <tspan font-family='"Liberation Serif", serif' font-style="italic" font-size="9.2">&#951;</tspan></text></g>
<text x="462" y="184.4" font-size="11.2" text-anchor="start" fill="#262626" font-family='"Liberation Sans", sans-serif' >(f)</text>
<clipPath id="clipf"><rect x="492.3" y="191.3" width="184.2" height="136.59999999999997"/></clipPath>
<g clip-path="url(#clipf)">
<line x1="492.3" y1="314.79" x2="676.5" y2="314.79" stroke="#333333" stroke-width="1.3" stroke-dasharray="3.2 2.4"/>
<polyline points="492.3,310.2 492.76,310.09 493.22,309.98 493.68,309.86 494.15,309.74 494.61,309.63 495.07,309.51 495.53,309.39 495.99,309.27 496.45,309.14 496.92,309.02 497.38,308.89 497.84,308.76 498.3,308.63 498.76,308.5 499.22,308.37 499.69,308.23 500.15,308.09 500.61,307.96 501.07,307.82 501.53,307.67 501.99,307.53 502.46,307.38 502.92,307.24 503.38,307.09 503.84,306.93 504.3,306.78 504.76,306.63 505.23,306.47 505.69,306.31 506.15,306.15 506.61,305.98 507.07,305.82 507.53,305.65 508,305.48 508.46,305.3 508.92,305.13 509.38,304.95 509.84,304.77 510.3,304.59 510.77,304.4 511.23,304.21 511.69,304.02 512.15,303.83 512.61,303.63 513.07,303.43 513.54,303.23 514,303.03 514.46,302.82 514.92,302.61 515.38,302.4 515.84,302.18 516.31,301.96 516.77,301.74 517.23,301.52 517.69,301.29 518.15,301.06 518.61,300.82 519.08,300.58 519.54,300.34 520,300.09 520.46,299.85 520.92,299.59 521.38,299.34 521.85,299.08 522.31,298.81 522.77,298.55 523.23,298.28 523.69,298 524.15,297.72 524.62,297.44 525.08,297.15 525.54,296.86 526,296.56 526.46,296.26 526.92,295.96 527.39,295.65 527.85,295.34 528.31,295.02 528.77,294.69 529.23,294.37 529.69,294.03 530.16,293.7 530.62,293.35 531.08,293.01 531.54,292.65 532,292.3 532.46,291.93 532.93,291.57 533.39,291.19 533.85,290.81 534.31,290.43 534.77,290.04 535.23,289.64 535.7,289.24 536.16,288.83 536.62,288.42 537.08,288 537.54,287.58 538,287.14 538.47,286.71 538.93,286.26 539.39,285.81 539.85,285.36 540.31,284.89 540.77,284.42 541.24,283.95 541.7,283.47 542.16,282.98 542.62,282.48 543.08,281.98 543.54,281.47 544.01,280.95 544.47,280.43 544.93,279.9 545.39,279.36 545.85,278.82 546.31,278.27 546.78,277.71 547.24,277.14 547.7,276.57 548.16,275.99 548.62,275.41 549.08,274.81 549.55,274.21 550.01,273.61 550.47,272.99 550.93,272.37 551.39,271.75 551.85,271.11 552.32,270.47 552.78,269.83 553.24,269.17 553.7,268.51 554.16,267.85 554.62,267.18 555.08,266.5 555.55,265.82 556.01,265.13 556.47,264.43 556.93,263.74 557.39,263.03 557.85,262.32 558.32,261.61 558.78,260.9 559.24,260.18 559.7,259.45 560.16,258.73 560.62,258 561.09,257.27 561.55,256.54 562.01,255.8 562.47,255.07 562.93,254.33 563.39,253.6 563.86,252.86 564.32,252.13 564.78,251.4 565.24,250.67 565.7,249.95 566.16,249.22 566.63,248.5 567.09,247.79 567.55,247.08 568.01,246.38 568.47,245.69 568.93,245 569.4,244.32 569.86,243.65 570.32,242.99 570.78,242.34 571.24,241.71 571.7,241.08 572.17,240.47 572.63,239.87 573.09,239.29 573.55,238.72 574.01,238.17 574.47,237.64 574.94,237.12 575.4,236.62 575.86,236.15 576.32,235.69 576.78,235.25 577.24,234.84 577.71,234.45 578.17,234.08 578.63,233.73 579.09,233.41 579.55,233.11 580.01,232.84 580.48,232.6 580.94,232.38 581.4,232.18 581.86,232.02 582.32,231.88 582.78,231.77 583.25,231.68 583.71,231.63 584.17,231.6 584.63,231.6 585.09,231.63 585.55,231.68 586.02,231.77 586.48,231.88 586.94,232.02 587.4,232.18 587.86,232.38 588.32,232.6 588.79,232.84 589.25,233.11 589.71,233.41 590.17,233.73 590.63,234.08 591.09,234.45 591.56,234.84 592.02,235.25 592.48,235.69 592.94,236.15 593.4,236.62 593.86,237.12 594.33,237.64 594.79,238.17 595.25,238.72 595.71,239.29 596.17,239.87 596.63,240.47 597.1,241.08 597.56,241.71 598.02,242.34 598.48,242.99 598.94,243.65 599.4,244.32 599.87,245 600.33,245.69 600.79,246.38 601.25,247.08 601.71,247.79 602.17,248.5 602.64,249.22 603.1,249.95 603.56,250.67 604.02,251.4 604.48,252.13 604.94,252.86 605.41,253.6 605.87,254.33 606.33,255.07 606.79,255.8 607.25,256.54 607.71,257.27 608.18,258 608.64,258.73 609.1,259.45 609.56,260.18 610.02,260.9 610.48,261.61 610.95,262.32 611.41,263.03 611.87,263.74 612.33,264.43 612.79,265.13 613.25,265.82 613.72,266.5 614.18,267.18 614.64,267.85 615.1,268.51 615.56,269.17 616.02,269.83 616.48,270.47 616.95,271.11 617.41,271.75 617.87,272.37 618.33,272.99 618.79,273.61 619.25,274.21 619.72,274.81 620.18,275.41 620.64,275.99 621.1,276.57 621.56,277.14 622.02,277.71 622.49,278.27 622.95,278.82 623.41,279.36 623.87,279.9 624.33,280.43 624.79,280.95 625.26,281.47 625.72,281.98 626.18,282.48 626.64,282.98 627.1,283.47 627.56,283.95 628.03,284.42 628.49,284.89 628.95,285.36 629.41,285.81 629.87,286.26 630.33,286.71 630.8,287.14 631.26,287.58 631.72,288 632.18,288.42 632.64,288.83 633.1,289.24 633.57,289.64 634.03,290.04 634.49,290.43 634.95,290.81 635.41,291.19 635.87,291.57 636.34,291.93 636.8,292.3 637.26,292.65 637.72,293.01 638.18,293.35 638.64,293.7 639.11,294.03 639.57,294.37 640.03,294.69 640.49,295.02 640.95,295.34 641.41,295.65 641.88,295.96 642.34,296.26 642.8,296.56 643.26,296.86 643.72,297.15 644.18,297.44 644.65,297.72 645.11,298 645.57,298.28 646.03,298.55 646.49,298.81 646.95,299.08 647.42,299.34 647.88,299.59 648.34,299.85 648.8,300.09 649.26,300.34 649.72,300.58 650.19,300.82 650.65,301.06 651.11,301.29 651.57,301.52 652.03,301.74 652.49,301.96 652.96,302.18 653.42,302.4 653.88,302.61 654.34,302.82 654.8,303.03 655.26,303.23 655.73,303.43 656.19,303.63 656.65,303.83 657.11,304.02 657.57,304.21 658.03,304.4 658.5,304.59 658.96,304.77 659.42,304.95 659.88,305.13 660.34,305.3 660.8,305.48 661.27,305.65 661.73,305.82 662.19,305.98 662.65,306.15 663.11,306.31 663.57,306.47 664.04,306.63 664.5,306.78 664.96,306.93 665.42,307.09 665.88,307.24 666.34,307.38 666.81,307.53 667.27,307.67 667.73,307.82 668.19,307.96 668.65,308.09 669.11,308.23 669.58,308.37 670.04,308.5 670.5,308.63 670.96,308.76 671.42,308.89 671.88,309.02 672.35,309.14 672.81,309.27 673.27,309.39 673.73,309.51 674.19,309.63 674.65,309.74 675.12,309.86 675.58,309.98 676.04,310.09 676.5,310.2" fill="none" stroke="#2e5486" stroke-width="1.3"/>
<polyline points="492.3,321.09 492.76,321.05 493.22,321 493.68,320.95 494.15,320.91 494.61,320.86 495.07,320.81 495.53,320.76 495.99,320.71 496.45,320.66 496.92,320.6 497.38,320.55 497.84,320.5 498.3,320.44 498.76,320.38 499.22,320.33 499.69,320.27 500.15,320.21 500.61,320.15 501.07,320.09 501.53,320.03 501.99,319.97 502.46,319.91 502.92,319.84 503.38,319.78 503.84,319.71 504.3,319.64 504.76,319.57 505.23,319.5 505.69,319.43 506.15,319.36 506.61,319.29 507.07,319.22 507.53,319.14 508,319.06 508.46,318.99 508.92,318.91 509.38,318.83 509.84,318.74 510.3,318.66 510.77,318.57 511.23,318.49 511.69,318.4 512.15,318.31 512.61,318.22 513.07,318.13 513.54,318.03 514,317.94 514.46,317.84 514.92,317.74 515.38,317.64 515.84,317.53 516.31,317.43 516.77,317.32 517.23,317.21 517.69,317.1 518.15,316.99 518.61,316.87 519.08,316.76 519.54,316.64 520,316.51 520.46,316.39 520.92,316.26 521.38,316.13 521.85,316 522.31,315.87 522.77,315.73 523.23,315.59 523.69,315.45 524.15,315.3 524.62,315.15 525.08,315 525.54,314.84 526,314.69 526.46,314.52 526.92,314.36 527.39,314.19 527.85,314.02 528.31,313.84 528.77,313.66 529.23,313.48 529.69,313.29 530.16,313.1 530.62,312.9 531.08,312.7 531.54,312.5 532,312.29 532.46,312.08 532.93,311.86 533.39,311.63 533.85,311.4 534.31,311.17 534.77,310.93 535.23,310.68 535.7,310.43 536.16,310.17 536.62,309.91 537.08,309.64 537.54,309.36 538,309.08 538.47,308.79 538.93,308.49 539.39,308.19 539.85,307.88 540.31,307.56 540.77,307.23 541.24,306.89 541.7,306.55 542.16,306.19 542.62,305.83 543.08,305.46 543.54,305.07 544.01,304.68 544.47,304.28 544.93,303.86 545.39,303.44 545.85,303 546.31,302.55 546.78,302.09 547.24,301.62 547.7,301.13 548.16,300.64 548.62,300.12 549.08,299.59 549.55,299.05 550.01,298.49 550.47,297.92 550.93,297.33 551.39,296.72 551.85,296.1 552.32,295.46 552.78,294.8 553.24,294.12 553.7,293.42 554.16,292.7 554.62,291.96 555.08,291.2 555.55,290.41 556.01,289.6 556.47,288.77 556.93,287.91 557.39,287.03 557.85,286.13 558.32,285.19 558.78,284.23 559.24,283.24 559.7,282.22 560.16,281.18 560.62,280.1 561.09,278.99 561.55,277.85 562.01,276.67 562.47,275.47 562.93,274.23 563.39,272.95 563.86,271.64 564.32,270.3 564.78,268.92 565.24,267.51 565.7,266.06 566.16,264.57 566.63,263.05 567.09,261.49 567.55,259.9 568.01,258.27 568.47,256.61 568.93,254.91 569.4,253.19 569.86,251.43 570.32,249.65 570.78,247.84 571.24,246.01 571.7,244.15 572.17,242.28 572.63,240.4 573.09,238.51 573.55,236.61 574.01,234.71 574.47,232.82 574.94,230.94 575.4,229.08 575.86,227.24 576.32,225.43 576.78,223.66 577.24,221.94 577.71,220.27 578.17,218.66 578.63,217.12 579.09,215.67 579.55,214.29 580.01,213.02 580.48,211.84 580.94,210.78 581.4,209.83 581.86,209.01 582.32,208.31 582.78,207.75 583.25,207.32 583.71,207.03 584.17,206.89 584.63,206.89 585.09,207.03 585.55,207.32 586.02,207.75 586.48,208.31 586.94,209.01 587.4,209.83 587.86,210.78 588.32,211.84 588.79,213.02 589.25,214.29 589.71,215.67 590.17,217.12 590.63,218.66 591.09,220.27 591.56,221.94 592.02,223.66 592.48,225.43 592.94,227.24 593.4,229.08 593.86,230.94 594.33,232.82 594.79,234.71 595.25,236.61 595.71,238.51 596.17,240.4 596.63,242.28 597.1,244.15 597.56,246.01 598.02,247.84 598.48,249.65 598.94,251.43 599.4,253.19 599.87,254.91 600.33,256.61 600.79,258.27 601.25,259.9 601.71,261.49 602.17,263.05 602.64,264.57 603.1,266.06 603.56,267.51 604.02,268.92 604.48,270.3 604.94,271.64 605.41,272.95 605.87,274.23 606.33,275.47 606.79,276.67 607.25,277.85 607.71,278.99 608.18,280.1 608.64,281.18 609.1,282.22 609.56,283.24 610.02,284.23 610.48,285.19 610.95,286.13 611.41,287.03 611.87,287.91 612.33,288.77 612.79,289.6 613.25,290.41 613.72,291.2 614.18,291.96 614.64,292.7 615.1,293.42 615.56,294.12 616.02,294.8 616.48,295.46 616.95,296.1 617.41,296.72 617.87,297.33 618.33,297.92 618.79,298.49 619.25,299.05 619.72,299.59 620.18,300.12 620.64,300.64 621.1,301.13 621.56,301.62 622.02,302.09 622.49,302.55 622.95,303 623.41,303.44 623.87,303.86 624.33,304.28 624.79,304.68 625.26,305.07 625.72,305.46 626.18,305.83 626.64,306.19 627.1,306.55 627.56,306.89 628.03,307.23 628.49,307.56 628.95,307.88 629.41,308.19 629.87,308.49 630.33,308.79 630.8,309.08 631.26,309.36 631.72,309.64 632.18,309.91 632.64,310.17 633.1,310.43 633.57,310.68 634.03,310.93 634.49,311.17 634.95,311.4 635.41,311.63 635.87,311.86 636.34,312.08 636.8,312.29 637.26,312.5 637.72,312.7 638.18,312.9 638.64,313.1 639.11,313.29 639.57,313.48 640.03,313.66 640.49,313.84 640.95,314.02 641.41,314.19 641.88,314.36 642.34,314.52 642.8,314.69 643.26,314.84 643.72,315 644.18,315.15 644.65,315.3 645.11,315.45 645.57,315.59 646.03,315.73 646.49,315.87 646.95,316 647.42,316.13 647.88,316.26 648.34,316.39 648.8,316.51 649.26,316.64 649.72,316.76 650.19,316.87 650.65,316.99 651.11,317.1 651.57,317.21 652.03,317.32 652.49,317.43 652.96,317.53 653.42,317.64 653.88,317.74 654.34,317.84 654.8,317.94 655.26,318.03 655.73,318.13 656.19,318.22 656.65,318.31 657.11,318.4 657.57,318.49 658.03,318.57 658.5,318.66 658.96,318.74 659.42,318.83 659.88,318.91 660.34,318.99 660.8,319.06 661.27,319.14 661.73,319.22 662.19,319.29 662.65,319.36 663.11,319.43 663.57,319.5 664.04,319.57 664.5,319.64 664.96,319.71 665.42,319.78 665.88,319.84 666.34,319.91 666.81,319.97 667.27,320.03 667.73,320.09 668.19,320.15 668.65,320.21 669.11,320.27 669.58,320.33 670.04,320.38 670.5,320.44 670.96,320.5 671.42,320.55 671.88,320.6 672.35,320.66 672.81,320.71 673.27,320.76 673.73,320.81 674.19,320.86 674.65,320.91 675.12,320.95 675.58,321 676.04,321.05 676.5,321.09" fill="none" stroke="#e2486c" stroke-width="1.3"/>
<polyline points="492.3,323.75 492.76,323.73 493.22,323.7 493.68,323.68 494.15,323.65 494.61,323.63 495.07,323.6 495.53,323.57 495.99,323.54 496.45,323.52 496.92,323.49 497.38,323.46 497.84,323.43 498.3,323.4 498.76,323.37 499.22,323.34 499.69,323.31 500.15,323.28 500.61,323.24 501.07,323.21 501.53,323.18 501.99,323.14 502.46,323.11 502.92,323.07 503.38,323.04 503.84,323 504.3,322.97 504.76,322.93 505.23,322.89 505.69,322.85 506.15,322.81 506.61,322.77 507.07,322.73 507.53,322.69 508,322.65 508.46,322.61 508.92,322.56 509.38,322.52 509.84,322.47 510.3,322.43 510.77,322.38 511.23,322.33 511.69,322.29 512.15,322.24 512.61,322.19 513.07,322.14 513.54,322.08 514,322.03 514.46,321.98 514.92,321.92 515.38,321.86 515.84,321.81 516.31,321.75 516.77,321.69 517.23,321.63 517.69,321.57 518.15,321.5 518.61,321.44 519.08,321.37 519.54,321.31 520,321.24 520.46,321.17 520.92,321.1 521.38,321.02 521.85,320.95 522.31,320.87 522.77,320.8 523.23,320.72 523.69,320.64 524.15,320.55 524.62,320.47 525.08,320.38 525.54,320.3 526,320.21 526.46,320.11 526.92,320.02 527.39,319.92 527.85,319.82 528.31,319.72 528.77,319.62 529.23,319.51 529.69,319.41 530.16,319.3 530.62,319.18 531.08,319.07 531.54,318.95 532,318.83 532.46,318.7 532.93,318.57 533.39,318.44 533.85,318.31 534.31,318.17 534.77,318.03 535.23,317.88 535.7,317.74 536.16,317.58 536.62,317.43 537.08,317.27 537.54,317.1 538,316.93 538.47,316.76 538.93,316.58 539.39,316.39 539.85,316.21 540.31,316.01 540.77,315.81 541.24,315.61 541.7,315.39 542.16,315.18 542.62,314.95 543.08,314.72 543.54,314.48 544.01,314.24 544.47,313.99 544.93,313.73 545.39,313.46 545.85,313.18 546.31,312.9 546.78,312.61 547.24,312.3 547.7,311.99 548.16,311.67 548.62,311.33 549.08,310.99 549.55,310.63 550.01,310.26 550.47,309.88 550.93,309.49 551.39,309.08 551.85,308.66 552.32,308.22 552.78,307.77 553.24,307.3 553.7,306.82 554.16,306.32 554.62,305.8 555.08,305.26 555.55,304.7 556.01,304.11 556.47,303.51 556.93,302.88 557.39,302.23 557.85,301.56 558.32,300.86 558.78,300.12 559.24,299.37 559.7,298.58 560.16,297.75 560.62,296.9 561.09,296.01 561.55,295.08 562.01,294.12 562.47,293.12 562.93,292.07 563.39,290.98 563.86,289.85 564.32,288.66 564.78,287.43 565.24,286.15 565.7,284.81 566.16,283.41 566.63,281.96 567.09,280.44 567.55,278.86 568.01,277.22 568.47,275.51 568.93,273.73 569.4,271.88 569.86,269.96 570.32,267.96 570.78,265.88 571.24,263.73 571.7,261.51 572.17,259.21 572.63,256.83 573.09,254.38 573.55,251.86 574.01,249.27 574.47,246.62 574.94,243.92 575.4,241.17 575.86,238.38 576.32,235.56 576.78,232.73 577.24,229.89 577.71,227.08 578.17,224.3 578.63,221.57 579.09,218.93 579.55,216.38 580.01,213.96 580.48,211.68 580.94,209.58 581.4,207.68 581.86,206 582.32,204.56 582.78,203.39 583.25,202.49 583.71,201.89 584.17,201.58 584.63,201.58 585.09,201.89 585.55,202.49 586.02,203.39 586.48,204.56 586.94,206 587.4,207.68 587.86,209.58 588.32,211.68 588.79,213.96 589.25,216.38 589.71,218.93 590.17,221.57 590.63,224.3 591.09,227.08 591.56,229.89 592.02,232.73 592.48,235.56 592.94,238.38 593.4,241.17 593.86,243.92 594.33,246.62 594.79,249.27 595.25,251.86 595.71,254.38 596.17,256.83 596.63,259.21 597.1,261.51 597.56,263.73 598.02,265.88 598.48,267.96 598.94,269.96 599.4,271.88 599.87,273.73 600.33,275.51 600.79,277.22 601.25,278.86 601.71,280.44 602.17,281.96 602.64,283.41 603.1,284.81 603.56,286.15 604.02,287.43 604.48,288.66 604.94,289.85 605.41,290.98 605.87,292.07 606.33,293.12 606.79,294.12 607.25,295.08 607.71,296.01 608.18,296.9 608.64,297.75 609.1,298.58 609.56,299.37 610.02,300.12 610.48,300.86 610.95,301.56 611.41,302.23 611.87,302.88 612.33,303.51 612.79,304.11 613.25,304.7 613.72,305.26 614.18,305.8 614.64,306.32 615.1,306.82 615.56,307.3 616.02,307.77 616.48,308.22 616.95,308.66 617.41,309.08 617.87,309.49 618.33,309.88 618.79,310.26 619.25,310.63 619.72,310.99 620.18,311.33 620.64,311.67 621.1,311.99 621.56,312.3 622.02,312.61 622.49,312.9 622.95,313.18 623.41,313.46 623.87,313.73 624.33,313.99 624.79,314.24 625.26,314.48 625.72,314.72 626.18,314.95 626.64,315.18 627.1,315.39 627.56,315.61 628.03,315.81 628.49,316.01 628.95,316.21 629.41,316.39 629.87,316.58 630.33,316.76 630.8,316.93 631.26,317.1 631.72,317.27 632.18,317.43 632.64,317.58 633.1,317.74 633.57,317.88 634.03,318.03 634.49,318.17 634.95,318.31 635.41,318.44 635.87,318.57 636.34,318.7 636.8,318.83 637.26,318.95 637.72,319.07 638.18,319.18 638.64,319.3 639.11,319.41 639.57,319.51 640.03,319.62 640.49,319.72 640.95,319.82 641.41,319.92 641.88,320.02 642.34,320.11 642.8,320.21 643.26,320.3 643.72,320.38 644.18,320.47 644.65,320.55 645.11,320.64 645.57,320.72 646.03,320.8 646.49,320.87 646.95,320.95 647.42,321.02 647.88,321.1 648.34,321.17 648.8,321.24 649.26,321.31 649.72,321.37 650.19,321.44 650.65,321.5 651.11,321.57 651.57,321.63 652.03,321.69 652.49,321.75 652.96,321.81 653.42,321.86 653.88,321.92 654.34,321.98 654.8,322.03 655.26,322.08 655.73,322.14 656.19,322.19 656.65,322.24 657.11,322.29 657.57,322.33 658.03,322.38 658.5,322.43 658.96,322.47 659.42,322.52 659.88,322.56 660.34,322.61 660.8,322.65 661.27,322.69 661.73,322.73 662.19,322.77 662.65,322.81 663.11,322.85 663.57,322.89 664.04,322.93 664.5,322.97 664.96,323 665.42,323.04 665.88,323.07 666.34,323.11 666.81,323.14 667.27,323.18 667.73,323.21 668.19,323.24 668.65,323.28 669.11,323.31 669.58,323.34 670.04,323.37 670.5,323.4 670.96,323.43 671.42,323.46 671.88,323.49 672.35,323.52 672.81,323.54 673.27,323.57 673.73,323.6 674.19,323.63 674.65,323.65 675.12,323.68 675.58,323.7 676.04,323.73 676.5,323.75" fill="none" stroke="#3db68e" stroke-width="1.3"/>
</g>
<text x="593.5" y="310" font-size="7.2" text-anchor="start" fill="#262626" font-family='"Liberation Sans", sans-serif' >x10</text>
<line x1="613.4" y1="202.4" x2="625.1" y2="202.4" stroke="#2e5486" stroke-width="1.3"/>
<text x="629.6" y="205" font-size="7.4" font-family='"Liberation Sans", sans-serif' fill="#262626">g<tspan font-size="5" dy="2">1</tspan><tspan dy="-2"> = -10meV</tspan></text>
<line x1="613.4" y1="213.9" x2="625.1" y2="213.9" stroke="#e2486c" stroke-width="1.3"/>
<text x="629.6" y="216.5" font-size="7.4" font-family='"Liberation Sans", sans-serif' fill="#262626">g<tspan font-size="5" dy="2">1</tspan><tspan dy="-2"> = -20meV</tspan></text>
<line x1="613.4" y1="225.4" x2="625.1" y2="225.4" stroke="#3db68e" stroke-width="1.3"/>
<text x="629.6" y="228" font-size="7.4" font-family='"Liberation Sans", sans-serif' fill="#262626">g<tspan font-size="5" dy="2">1</tspan><tspan dy="-2"> = -30meV</tspan></text>
<line x1="613.4" y1="236.75" x2="625.1" y2="236.75" stroke="#333333" stroke-width="1.4" stroke-dasharray="4 3.7"/>
<text x="629.6" y="239.35" font-size="7.4" font-family='"Liberation Sans", sans-serif' fill="#262626">w/o CEP</text>
</svg></div></body></html>
